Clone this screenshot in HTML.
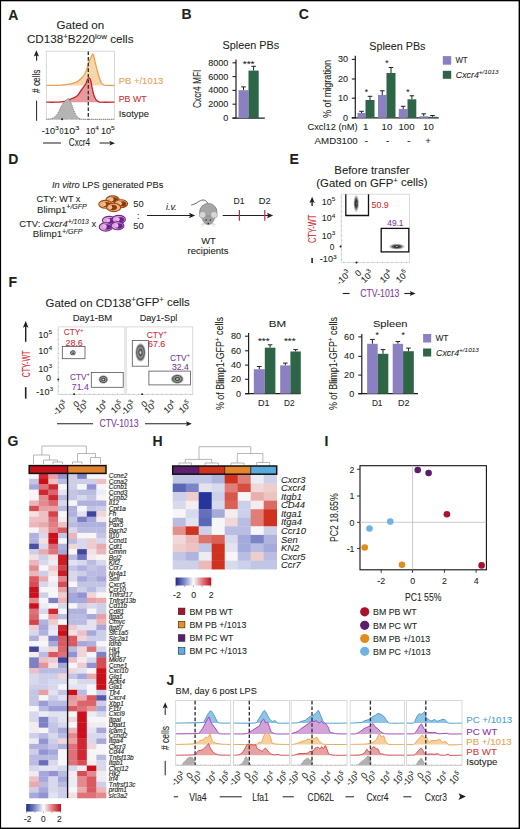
<!DOCTYPE html>
<html><head><meta charset="utf-8"><title>Figure</title>
<style>html,body{margin:0;padding:0;background:#fff;overflow:hidden}svg{display:block}text{font-family:"Liberation Sans",sans-serif}</style>
</head><body>
<svg width="520" height="829" viewBox="0 0 520 829" font-family="Liberation Sans, sans-serif" fill="#231f20">
<rect x="0" y="0" width="520" height="829" fill="#fff"/>
<rect x="0.00" y="0.00" width="1.10" height="829.00" fill="#000"/>
<rect x="0.00" y="0.00" width="520.00" height="1.30" fill="#000"/>
<rect x="518.60" y="0.00" width="1.40" height="829.00" fill="#000"/>
<rect x="0.00" y="827.60" width="520.00" height="1.40" fill="#000"/>
<text x="8.20" y="19.80" font-size="14" stroke="#231f20" stroke-width="0.08" font-weight="bold">A</text>
<text x="181.60" y="19.20" font-size="14" stroke="#231f20" stroke-width="0.08" font-weight="bold">B</text>
<text x="298.80" y="19.40" font-size="14" stroke="#231f20" stroke-width="0.08" font-weight="bold">C</text>
<text x="8.20" y="163.80" font-size="14" stroke="#231f20" stroke-width="0.08" font-weight="bold">D</text>
<text x="289.40" y="164.40" font-size="14" stroke="#231f20" stroke-width="0.08" font-weight="bold">E</text>
<text x="8.40" y="287.10" font-size="14" stroke="#231f20" stroke-width="0.08" font-weight="bold">F</text>
<text x="7.60" y="446.10" font-size="14" stroke="#231f20" stroke-width="0.08" font-weight="bold">G</text>
<text x="152.40" y="446.10" font-size="14" stroke="#231f20" stroke-width="0.08" font-weight="bold">H</text>
<text x="324.60" y="446.10" font-size="14" stroke="#231f20" stroke-width="0.08" font-weight="bold">I</text>
<text x="166.60" y="685.20" font-size="14" stroke="#231f20" stroke-width="0.08" font-weight="bold">J</text>
<text x="56.50" y="29.30" font-size="10.3" stroke="#231f20" stroke-width="0.08" textLength="47.70" lengthAdjust="spacingAndGlyphs">Gated on</text>
<text x="26.90" y="43.20" font-size="10.3" stroke="#231f20" stroke-width="0.08" textLength="106.60" lengthAdjust="spacingAndGlyphs">CD138<tspan font-size="7" dy="-4.20">+</tspan><tspan dy="3.85">B220</tspan><tspan font-size="7" dy="-4.20">low</tspan><tspan dy="3.85"> cells</tspan></text>
<rect x="46.30" y="51.20" width="68.20" height="68.30" fill="none" stroke="#cfcfcf" stroke-width="0.8"/>
<path d="M46.30,85.40 C48.33,85.38 55.35,85.42 58.50,85.30 C61.65,85.18 62.97,84.98 65.20,84.70 C67.43,84.42 69.88,84.12 71.90,83.60 C73.92,83.08 75.73,82.48 77.30,81.60 C78.87,80.72 80.07,79.53 81.30,78.30 C82.53,77.07 83.68,76.00 84.70,74.20 C85.72,72.40 86.62,69.73 87.40,67.50 C88.18,65.27 88.73,62.60 89.40,60.80 C90.07,59.00 90.83,57.83 91.40,56.70 C91.97,55.57 92.35,53.88 92.80,54.00 C93.25,54.12 93.65,55.82 94.10,57.40 C94.55,58.98 94.93,61.15 95.50,63.50 C96.07,65.85 96.83,69.03 97.50,71.50 C98.17,73.97 98.83,76.38 99.50,78.30 C100.17,80.22 100.72,81.88 101.50,83.00 C102.28,84.12 103.07,84.60 104.20,85.00 C105.33,85.40 106.58,85.33 108.30,85.40 C110.02,85.47 113.47,85.40 114.50,85.40 L114.50,85.40 L46.30,85.40 Z" fill="#f6d6ab" fill-opacity="1.0" stroke="none"/>
<path d="M46.30,85.40 C48.33,85.38 55.35,85.42 58.50,85.30 C61.65,85.18 62.97,84.98 65.20,84.70 C67.43,84.42 69.88,84.12 71.90,83.60 C73.92,83.08 75.73,82.48 77.30,81.60 C78.87,80.72 80.07,79.53 81.30,78.30 C82.53,77.07 83.68,76.00 84.70,74.20 C85.72,72.40 86.62,69.73 87.40,67.50 C88.18,65.27 88.73,62.60 89.40,60.80 C90.07,59.00 90.83,57.83 91.40,56.70 C91.97,55.57 92.35,53.88 92.80,54.00 C93.25,54.12 93.65,55.82 94.10,57.40 C94.55,58.98 94.93,61.15 95.50,63.50 C96.07,65.85 96.83,69.03 97.50,71.50 C98.17,73.97 98.83,76.38 99.50,78.30 C100.17,80.22 100.72,81.88 101.50,83.00 C102.28,84.12 103.07,84.60 104.20,85.00 C105.33,85.40 106.58,85.33 108.30,85.40 C110.02,85.47 113.47,85.40 114.50,85.40" fill="none" stroke="#e9a04e" stroke-width="1.3"/>
<path d="M46.30,102.20 C47.88,102.20 53.32,102.27 55.80,102.20 C58.28,102.13 59.42,102.02 61.20,101.80 C62.98,101.58 64.72,101.45 66.50,100.90 C68.28,100.35 70.10,99.35 71.90,98.50 C73.70,97.65 75.83,97.05 77.30,95.80 C78.77,94.55 79.58,92.58 80.70,91.00 C81.82,89.42 83.12,87.53 84.00,86.30 C84.88,85.07 85.43,84.72 86.00,83.60 C86.57,82.48 86.83,80.53 87.40,79.60 C87.97,78.67 88.83,77.77 89.40,78.00 C89.97,78.23 90.35,79.38 90.80,81.00 C91.25,82.62 91.55,85.23 92.10,87.70 C92.65,90.17 93.43,93.78 94.10,95.80 C94.77,97.82 95.32,98.80 96.10,99.80 C96.88,100.80 97.90,101.40 98.80,101.80 C99.70,102.20 98.88,102.13 101.50,102.20 C104.12,102.27 112.33,102.20 114.50,102.20 L114.50,102.20 L46.30,102.20 Z" fill="#e79a9c" fill-opacity="1.0" stroke="none"/>
<path d="M46.30,102.20 C47.88,102.20 53.32,102.27 55.80,102.20 C58.28,102.13 59.42,102.02 61.20,101.80 C62.98,101.58 64.72,101.45 66.50,100.90 C68.28,100.35 70.10,99.35 71.90,98.50 C73.70,97.65 75.83,97.05 77.30,95.80 C78.77,94.55 79.58,92.58 80.70,91.00 C81.82,89.42 83.12,87.53 84.00,86.30 C84.88,85.07 85.43,84.72 86.00,83.60 C86.57,82.48 86.83,80.53 87.40,79.60 C87.97,78.67 88.83,77.77 89.40,78.00 C89.97,78.23 90.35,79.38 90.80,81.00 C91.25,82.62 91.55,85.23 92.10,87.70 C92.65,90.17 93.43,93.78 94.10,95.80 C94.77,97.82 95.32,98.80 96.10,99.80 C96.88,100.80 97.90,101.40 98.80,101.80 C99.70,102.20 98.88,102.13 101.50,102.20 C104.12,102.27 112.33,102.20 114.50,102.20" fill="none" stroke="#c9232a" stroke-width="1.3"/>
<path d="M46.30,119.30 C47.20,119.18 50.12,119.17 51.70,118.60 C53.28,118.03 54.67,117.02 55.80,115.90 C56.93,114.78 57.50,113.68 58.50,111.90 C59.50,110.12 60.68,107.00 61.80,105.20 C62.92,103.40 64.15,102.22 65.20,101.10 C66.25,99.98 67.10,98.15 68.10,98.50 C69.10,98.85 70.23,101.18 71.20,103.20 C72.17,105.22 73.00,108.48 73.90,110.60 C74.80,112.72 75.58,114.57 76.60,115.90 C77.62,117.23 78.98,118.03 80.00,118.60 C81.02,119.17 76.95,119.18 82.70,119.30 C88.45,119.42 109.20,119.30 114.50,119.30 L114.50,119.30 L46.30,119.30 Z" fill="#b4b4b4" fill-opacity="1.0" stroke="none"/>
<path d="M46.30,119.30 C47.20,119.18 50.12,119.17 51.70,118.60 C53.28,118.03 54.67,117.02 55.80,115.90 C56.93,114.78 57.50,113.68 58.50,111.90 C59.50,110.12 60.68,107.00 61.80,105.20 C62.92,103.40 64.15,102.22 65.20,101.10 C66.25,99.98 67.10,98.15 68.10,98.50 C69.10,98.85 70.23,101.18 71.20,103.20 C72.17,105.22 73.00,108.48 73.90,110.60 C74.80,112.72 75.58,114.57 76.60,115.90 C77.62,117.23 78.98,118.03 80.00,118.60 C81.02,119.17 76.95,119.18 82.70,119.30 C88.45,119.42 109.20,119.30 114.50,119.30" fill="none" stroke="#666" stroke-width="0.8" stroke-dasharray="1,1"/>
<line x1="88.30" y1="51.50" x2="88.30" y2="119.50" stroke="#333" stroke-width="1.35" stroke-dasharray="3.6,2"/>
<line x1="48.00" y1="118.50" x2="48.00" y2="119.50" stroke="#888" stroke-width="0.6"/>
<line x1="52.00" y1="118.50" x2="52.00" y2="119.50" stroke="#888" stroke-width="0.6"/>
<line x1="56.00" y1="118.50" x2="56.00" y2="119.50" stroke="#888" stroke-width="0.6"/>
<line x1="59.00" y1="118.50" x2="59.00" y2="119.50" stroke="#888" stroke-width="0.6"/>
<line x1="63.00" y1="118.50" x2="63.00" y2="119.50" stroke="#888" stroke-width="0.6"/>
<line x1="66.00" y1="118.50" x2="66.00" y2="119.50" stroke="#888" stroke-width="0.6"/>
<line x1="72.00" y1="118.50" x2="72.00" y2="119.50" stroke="#888" stroke-width="0.6"/>
<line x1="76.00" y1="118.50" x2="76.00" y2="119.50" stroke="#888" stroke-width="0.6"/>
<line x1="80.00" y1="118.50" x2="80.00" y2="119.50" stroke="#888" stroke-width="0.6"/>
<line x1="84.00" y1="118.50" x2="84.00" y2="119.50" stroke="#888" stroke-width="0.6"/>
<line x1="92.00" y1="118.50" x2="92.00" y2="119.50" stroke="#888" stroke-width="0.6"/>
<line x1="96.00" y1="118.50" x2="96.00" y2="119.50" stroke="#888" stroke-width="0.6"/>
<line x1="100.00" y1="118.50" x2="100.00" y2="119.50" stroke="#888" stroke-width="0.6"/>
<line x1="104.00" y1="118.50" x2="104.00" y2="119.50" stroke="#888" stroke-width="0.6"/>
<line x1="108.00" y1="118.50" x2="108.00" y2="119.50" stroke="#888" stroke-width="0.6"/>
<line x1="112.00" y1="118.50" x2="112.00" y2="119.50" stroke="#888" stroke-width="0.6"/>
<circle cx="62.00" cy="119.20" r="1.00" fill="#222"/>
<line x1="36.60" y1="55.00" x2="36.60" y2="60.80" stroke="#231f20" stroke-width="1.1"/>
<path d="M36.40,50.20 L33.76,56.47 L36.40,55.15 L39.04,56.47 Z" fill="#231f20"/>
<text x="40.20" y="93.00" font-size="11.0" stroke="#231f20" stroke-width="0.08" textLength="23.50" lengthAdjust="spacingAndGlyphs" transform="rotate(-90 40.20 93.00)"># cells</text>
<line x1="36.60" y1="100.60" x2="36.60" y2="120.80" stroke="#231f20" stroke-width="1"/>
<text x="41.80" y="133.60" font-size="8.2" stroke="#231f20" stroke-width="0.08" textLength="17.00" lengthAdjust="spacingAndGlyphs">-10<tspan font-size="6.2" dy="-3.72">3</tspan></text>
<text x="59.50" y="133.60" font-size="8.2" stroke="#231f20" stroke-width="0.08" textLength="4.00" lengthAdjust="spacingAndGlyphs">0</text>
<text x="63.40" y="133.60" font-size="8.2" stroke="#231f20" stroke-width="0.08" textLength="16.10" lengthAdjust="spacingAndGlyphs">10<tspan font-size="6.2" dy="-3.72">3</tspan></text>
<text x="85.70" y="133.60" font-size="8.2" stroke="#231f20" stroke-width="0.08" textLength="13.10" lengthAdjust="spacingAndGlyphs">10<tspan font-size="6.2" dy="-3.72">4</tspan></text>
<text x="101.00" y="133.60" font-size="8.2" stroke="#231f20" stroke-width="0.08" textLength="13.90" lengthAdjust="spacingAndGlyphs">10<tspan font-size="6.2" dy="-3.72">5</tspan></text>
<line x1="43.00" y1="143.00" x2="61.00" y2="143.00" stroke="#231f20" stroke-width="1"/>
<text x="68.80" y="146.20" font-size="11.4" stroke="#231f20" stroke-width="0.08" textLength="21.30" lengthAdjust="spacingAndGlyphs">Cxcr4</text>
<line x1="99.60" y1="143.00" x2="112.00" y2="143.00" stroke="#231f20" stroke-width="1"/>
<path d="M115.00,143.20 L109.30,140.80 L110.50,143.20 L109.30,145.60 Z" fill="#231f20"/>
<text x="118.70" y="84.20" font-size="9.6" fill="#e9a04e" stroke="#e9a04e" stroke-width="0.08" textLength="44.50" lengthAdjust="spacingAndGlyphs">PB +/1013</text>
<text x="118.70" y="102.40" font-size="9.6" fill="#cf2a2e" stroke="#cf2a2e" stroke-width="0.08" textLength="27.90" lengthAdjust="spacingAndGlyphs">PB WT</text>
<text x="118.70" y="116.80" font-size="9.6" stroke="#231f20" stroke-width="0.08" textLength="30.30" lengthAdjust="spacingAndGlyphs">Isotype</text>
<text x="222.50" y="49.40" font-size="11.5" stroke="#231f20" stroke-width="0.08" textLength="56.70" lengthAdjust="spacingAndGlyphs">Spleen PBs</text>
<line x1="236.00" y1="59.60" x2="236.00" y2="118.60" stroke="#231f20" stroke-width="1.2"/>
<line x1="232.50" y1="118.10" x2="264.80" y2="118.10" stroke="#231f20" stroke-width="1.2"/>
<line x1="232.50" y1="62.80" x2="236.00" y2="62.80" stroke="#231f20" stroke-width="1.1"/>
<text x="228.40" y="65.75" font-size="8.2" stroke="#231f20" stroke-width="0.08" text-anchor="end" textLength="20.20" lengthAdjust="spacingAndGlyphs">8000</text>
<line x1="232.50" y1="76.60" x2="236.00" y2="76.60" stroke="#231f20" stroke-width="1.1"/>
<text x="228.40" y="79.55" font-size="8.2" stroke="#231f20" stroke-width="0.08" text-anchor="end" textLength="20.20" lengthAdjust="spacingAndGlyphs">6000</text>
<line x1="232.50" y1="90.40" x2="236.00" y2="90.40" stroke="#231f20" stroke-width="1.1"/>
<text x="228.40" y="93.35" font-size="8.2" stroke="#231f20" stroke-width="0.08" text-anchor="end" textLength="20.20" lengthAdjust="spacingAndGlyphs">4000</text>
<line x1="232.50" y1="104.20" x2="236.00" y2="104.20" stroke="#231f20" stroke-width="1.1"/>
<text x="228.40" y="107.15" font-size="8.2" stroke="#231f20" stroke-width="0.08" text-anchor="end" textLength="20.20" lengthAdjust="spacingAndGlyphs">2000</text>
<line x1="232.50" y1="118.10" x2="236.00" y2="118.10" stroke="#231f20" stroke-width="1.1"/>
<text x="228.40" y="121.05" font-size="8.2" stroke="#231f20" stroke-width="0.08" text-anchor="end" textLength="5.05" lengthAdjust="spacingAndGlyphs">0</text>
<line x1="243.50" y1="90.20" x2="243.50" y2="86.90" stroke="#231f20" stroke-width="1.0"/>
<line x1="241.20" y1="86.90" x2="245.80" y2="86.90" stroke="#231f20" stroke-width="1.0"/>
<rect x="238.50" y="90.20" width="10.00" height="27.90" fill="#8a80c2"/>
<line x1="253.60" y1="70.60" x2="253.60" y2="66.30" stroke="#231f20" stroke-width="1.0"/>
<line x1="251.30" y1="66.30" x2="255.90" y2="66.30" stroke="#231f20" stroke-width="1.0"/>
<rect x="248.50" y="70.60" width="10.20" height="47.50" fill="#2e6547"/>
<text x="242.70" y="67.20" font-size="8.4" stroke="#231f20" stroke-width="0.08" textLength="11.90" lengthAdjust="spacingAndGlyphs">***</text>
<text x="201.30" y="108.00" font-size="10.5" stroke="#231f20" stroke-width="0.08" textLength="38.40" lengthAdjust="spacingAndGlyphs" transform="rotate(-90 201.30 108.00)">Cxcr4 MFI</text>
<text x="369.30" y="49.50" font-size="11.5" stroke="#231f20" stroke-width="0.08" textLength="56.20" lengthAdjust="spacingAndGlyphs">Spleen PBs</text>
<line x1="355.30" y1="55.80" x2="355.30" y2="118.30" stroke="#231f20" stroke-width="1.2"/>
<line x1="351.80" y1="117.80" x2="438.80" y2="117.80" stroke="#231f20" stroke-width="1.2"/>
<line x1="351.80" y1="59.40" x2="355.30" y2="59.40" stroke="#231f20" stroke-width="1.1"/>
<text x="348.10" y="62.35" font-size="8.2" stroke="#231f20" stroke-width="0.08" text-anchor="end" textLength="10.10" lengthAdjust="spacingAndGlyphs">30</text>
<line x1="351.80" y1="79.00" x2="355.30" y2="79.00" stroke="#231f20" stroke-width="1.1"/>
<text x="348.10" y="81.95" font-size="8.2" stroke="#231f20" stroke-width="0.08" text-anchor="end" textLength="10.10" lengthAdjust="spacingAndGlyphs">20</text>
<line x1="351.80" y1="98.20" x2="355.30" y2="98.20" stroke="#231f20" stroke-width="1.1"/>
<text x="348.10" y="101.15" font-size="8.2" stroke="#231f20" stroke-width="0.08" text-anchor="end" textLength="10.10" lengthAdjust="spacingAndGlyphs">10</text>
<line x1="351.80" y1="117.80" x2="355.30" y2="117.80" stroke="#231f20" stroke-width="1.1"/>
<text x="348.10" y="120.75" font-size="8.2" stroke="#231f20" stroke-width="0.08" text-anchor="end" textLength="5.05" lengthAdjust="spacingAndGlyphs">0</text>
<line x1="361.50" y1="113.00" x2="361.50" y2="111.30" stroke="#231f20" stroke-width="1.0"/>
<line x1="359.20" y1="111.30" x2="363.80" y2="111.30" stroke="#231f20" stroke-width="1.0"/>
<rect x="357.50" y="113.00" width="8.00" height="4.80" fill="#8a80c2"/>
<line x1="370.00" y1="100.00" x2="370.00" y2="96.30" stroke="#231f20" stroke-width="1.0"/>
<line x1="367.70" y1="96.30" x2="372.30" y2="96.30" stroke="#231f20" stroke-width="1.0"/>
<rect x="365.50" y="100.00" width="9.00" height="17.80" fill="#2e6547"/>
<line x1="382.25" y1="95.00" x2="382.25" y2="90.80" stroke="#231f20" stroke-width="1.0"/>
<line x1="379.95" y1="90.80" x2="384.55" y2="90.80" stroke="#231f20" stroke-width="1.0"/>
<rect x="378.00" y="95.00" width="8.50" height="22.80" fill="#8a80c2"/>
<line x1="391.00" y1="73.00" x2="391.00" y2="67.50" stroke="#231f20" stroke-width="1.0"/>
<line x1="388.70" y1="67.50" x2="393.30" y2="67.50" stroke="#231f20" stroke-width="1.0"/>
<rect x="386.50" y="73.00" width="9.00" height="44.80" fill="#2e6547"/>
<line x1="403.15" y1="109.00" x2="403.15" y2="106.30" stroke="#231f20" stroke-width="1.0"/>
<line x1="400.85" y1="106.30" x2="405.45" y2="106.30" stroke="#231f20" stroke-width="1.0"/>
<rect x="398.80" y="109.00" width="8.70" height="8.80" fill="#8a80c2"/>
<line x1="411.90" y1="99.30" x2="411.90" y2="95.80" stroke="#231f20" stroke-width="1.0"/>
<line x1="409.60" y1="95.80" x2="414.20" y2="95.80" stroke="#231f20" stroke-width="1.0"/>
<rect x="407.50" y="99.30" width="8.80" height="18.50" fill="#2e6547"/>
<line x1="423.75" y1="116.30" x2="423.75" y2="113.80" stroke="#231f20" stroke-width="1.0"/>
<line x1="421.45" y1="113.80" x2="426.05" y2="113.80" stroke="#231f20" stroke-width="1.0"/>
<rect x="419.50" y="116.30" width="8.50" height="1.50" fill="#8a80c2"/>
<line x1="432.50" y1="116.80" x2="432.50" y2="115.50" stroke="#231f20" stroke-width="1.0"/>
<line x1="430.20" y1="115.50" x2="434.80" y2="115.50" stroke="#231f20" stroke-width="1.0"/>
<rect x="428.00" y="116.80" width="9.00" height="1.00" fill="#2e6547"/>
<text x="366.30" y="94.90" font-size="8.4" stroke="#231f20" stroke-width="0.08" text-anchor="middle">*</text>
<text x="387.00" y="66.10" font-size="8.4" stroke="#231f20" stroke-width="0.08" text-anchor="middle">*</text>
<text x="408.00" y="94.90" font-size="8.4" stroke="#231f20" stroke-width="0.08" text-anchor="middle">*</text>
<text x="330.90" y="118.00" font-size="10.2" stroke="#231f20" stroke-width="0.08" textLength="58.10" lengthAdjust="spacingAndGlyphs" transform="rotate(-90 330.90 118.00)">% of migration</text>
<text x="307.40" y="130.00" font-size="9.6" stroke="#231f20" stroke-width="0.08" textLength="50.30" lengthAdjust="spacingAndGlyphs">Cxcl12 (nM)</text>
<text x="365.60" y="130.00" font-size="9.6" stroke="#231f20" stroke-width="0.08" text-anchor="middle">1</text>
<text x="386.90" y="130.00" font-size="9.6" stroke="#231f20" stroke-width="0.08" text-anchor="middle">10</text>
<text x="406.50" y="130.00" font-size="9.6" stroke="#231f20" stroke-width="0.08" text-anchor="middle">100</text>
<text x="428.40" y="130.00" font-size="9.6" stroke="#231f20" stroke-width="0.08" text-anchor="middle">10</text>
<text x="314.60" y="143.50" font-size="9.6" stroke="#231f20" stroke-width="0.08" textLength="43.10" lengthAdjust="spacingAndGlyphs">AMD3100</text>
<text x="366.30" y="143.50" font-size="9.6" stroke="#231f20" stroke-width="0.08" text-anchor="middle">-</text>
<text x="387.50" y="143.50" font-size="9.6" stroke="#231f20" stroke-width="0.08" text-anchor="middle">-</text>
<text x="408.80" y="143.50" font-size="9.6" stroke="#231f20" stroke-width="0.08" text-anchor="middle">-</text>
<text x="428.00" y="143.50" font-size="9.6" stroke="#231f20" stroke-width="0.08" text-anchor="middle">+</text>
<rect x="442.80" y="56.10" width="8.40" height="8.60" fill="#8a80c2"/>
<text x="455.40" y="63.00" font-size="8.6" stroke="#231f20" stroke-width="0.08" textLength="12.30" lengthAdjust="spacingAndGlyphs">WT</text>
<rect x="442.80" y="70.80" width="8.40" height="8.00" fill="#2e6547"/>
<text x="455.80" y="78.10" font-size="8.6" stroke="#231f20" stroke-width="0.08" textLength="42.70" lengthAdjust="spacingAndGlyphs"><tspan font-style="italic">Cxcr4</tspan><tspan font-style="italic" font-size="6.2" dy="-4.2">+/1013</tspan></text>
<text x="51.90" y="188.00" font-size="9.6" stroke="#231f20" stroke-width="0.08" textLength="111.40" lengthAdjust="spacingAndGlyphs"><tspan font-style="italic">In vitro</tspan> LPS generated PBs</text>
<text x="36.60" y="201.80" font-size="9.0" stroke="#231f20" stroke-width="0.08" textLength="43.80" lengthAdjust="spacingAndGlyphs">CTY: WT x</text>
<text x="37.00" y="212.70" font-size="9.0" stroke="#231f20" stroke-width="0.08" textLength="49.80" lengthAdjust="spacingAndGlyphs">Blimp1<tspan font-style="italic" font-size="6.6" dy="-3.4">+/GFP</tspan></text>
<text x="19.30" y="226.90" font-size="9.0" stroke="#231f20" stroke-width="0.08" textLength="77.00" lengthAdjust="spacingAndGlyphs">CTV: <tspan font-style="italic">Cxcr4</tspan><tspan font-style="italic" font-size="6.6" dy="-3.4">+/1013</tspan><tspan dy="3.4"> x</tspan></text>
<text x="32.80" y="237.30" font-size="9.0" stroke="#231f20" stroke-width="0.08" textLength="49.70" lengthAdjust="spacingAndGlyphs">Blimp1<tspan font-style="italic" font-size="6.6" dy="-3.4">+/GFP</tspan></text>
<ellipse cx="112.60" cy="199.60" rx="6.60" ry="3.70" fill="#efb47c" stroke="#984714" stroke-width="1.1"/>
<ellipse cx="113.92" cy="199.80" rx="4.09" ry="2.44" fill="#8a3a0c"/>
<ellipse cx="111.54" cy="199.50" rx="1.98" ry="1.92" fill="#f2c090"/>
<ellipse cx="105.20" cy="204.30" rx="6.40" ry="3.90" fill="#efb47c" stroke="#984714" stroke-width="1.1"/>
<ellipse cx="106.48" cy="204.50" rx="3.97" ry="2.57" fill="#8a3a0c"/>
<ellipse cx="104.18" cy="204.20" rx="1.92" ry="2.03" fill="#f2c090"/>
<ellipse cx="121.00" cy="203.70" rx="6.60" ry="4.00" fill="#efb47c" stroke="#984714" stroke-width="1.1"/>
<ellipse cx="122.32" cy="203.90" rx="4.09" ry="2.64" fill="#8a3a0c"/>
<ellipse cx="119.94" cy="203.60" rx="1.98" ry="2.08" fill="#f2c090"/>
<ellipse cx="113.70" cy="207.40" rx="7.00" ry="4.20" fill="#efb47c" stroke="#984714" stroke-width="1.1"/>
<ellipse cx="112.65" cy="207.60" rx="4.34" ry="2.77" fill="#8a3a0c"/>
<ellipse cx="110.13" cy="207.30" rx="2.10" ry="2.18" fill="#f2c090"/>
<ellipse cx="109.20" cy="220.40" rx="6.80" ry="4.00" fill="#dca6dc" stroke="#74288a" stroke-width="1.1"/>
<ellipse cx="110.56" cy="220.60" rx="4.22" ry="2.64" fill="#6c2290"/>
<ellipse cx="108.11" cy="220.30" rx="2.04" ry="2.08" fill="#e4b8e4"/>
<ellipse cx="118.80" cy="219.40" rx="6.60" ry="4.00" fill="#dca6dc" stroke="#74288a" stroke-width="1.1"/>
<ellipse cx="120.12" cy="219.60" rx="4.09" ry="2.64" fill="#6c2290"/>
<ellipse cx="117.74" cy="219.30" rx="1.98" ry="2.08" fill="#e4b8e4"/>
<ellipse cx="105.80" cy="226.90" rx="6.60" ry="4.20" fill="#dca6dc" stroke="#74288a" stroke-width="1.1"/>
<ellipse cx="107.12" cy="227.10" rx="4.09" ry="2.77" fill="#6c2290"/>
<ellipse cx="104.74" cy="226.80" rx="1.98" ry="2.18" fill="#e4b8e4"/>
<ellipse cx="117.60" cy="225.80" rx="6.40" ry="4.00" fill="#dca6dc" stroke="#74288a" stroke-width="1.1"/>
<ellipse cx="118.88" cy="226.00" rx="3.97" ry="2.64" fill="#6c2290"/>
<ellipse cx="116.58" cy="225.70" rx="1.92" ry="2.08" fill="#e4b8e4"/>
<text x="133.30" y="207.30" font-size="9.0" stroke="#231f20" stroke-width="0.08" textLength="10.40" lengthAdjust="spacingAndGlyphs">50</text>
<text x="138.20" y="218.60" font-size="9.0" stroke="#231f20" stroke-width="0.08" text-anchor="middle">:</text>
<text x="133.30" y="229.20" font-size="9.0" stroke="#231f20" stroke-width="0.08" textLength="10.40" lengthAdjust="spacingAndGlyphs">50</text>
<line x1="147.00" y1="215.50" x2="191.00" y2="215.50" stroke="#231f20" stroke-width="1.1"/>
<path d="M195.20,215.50 L188.93,212.86 L190.25,215.50 L188.93,218.14 Z" fill="#231f20"/>
<text x="165.90" y="209.70" font-size="9.0" stroke="#231f20" stroke-width="0.08" font-style="italic" textLength="10.90" lengthAdjust="spacingAndGlyphs">i.v.</text>
<path d="M207.8,203.5 C206.5,200.2 203.5,199.3 200.5,200.6 C197.5,202 195,204.6 191.2,205.0" fill="none" stroke="#555" stroke-width="0.9"/>
<ellipse cx="208.30" cy="212.20" rx="8.70" ry="8.80" fill="#a6a6a6" stroke="#6e6e6e" stroke-width="0.7"/>
<path d="M201.5,216 C202,221 205,224.5 208.3,224.8 C211.6,224.5 214.6,221 215.1,216 Z" fill="#a0a0a0" stroke="#7a7a7a" stroke-width="0.5"/>
<circle cx="202.60" cy="214.80" r="3.40" fill="#d6d6d6" stroke="#8a8a8a" stroke-width="0.5"/>
<circle cx="214.00" cy="214.80" r="3.40" fill="#d6d6d6" stroke="#8a8a8a" stroke-width="0.5"/>
<circle cx="206.20" cy="220.00" r="0.80" fill="#333"/>
<circle cx="210.40" cy="220.00" r="0.80" fill="#333"/>
<circle cx="208.30" cy="223.60" r="0.80" fill="#222"/>
<line x1="205.50" y1="223.00" x2="201.00" y2="224.50" stroke="#999" stroke-width="0.4"/>
<line x1="205.50" y1="223.60" x2="201.80" y2="226.50" stroke="#999" stroke-width="0.4"/>
<line x1="211.00" y1="223.00" x2="215.60" y2="224.50" stroke="#999" stroke-width="0.4"/>
<line x1="211.00" y1="223.60" x2="214.80" y2="226.50" stroke="#999" stroke-width="0.4"/>
<text x="201.30" y="244.30" font-size="9.0" stroke="#231f20" stroke-width="0.08" textLength="14.50" lengthAdjust="spacingAndGlyphs">WT</text>
<text x="187.50" y="254.40" font-size="9.0" stroke="#231f20" stroke-width="0.08" textLength="41.00" lengthAdjust="spacingAndGlyphs">recipients</text>
<line x1="222.70" y1="215.50" x2="270.00" y2="215.50" stroke="#231f20" stroke-width="1.1"/>
<path d="M273.20,215.50 L266.93,212.86 L268.25,215.50 L266.93,218.14 Z" fill="#231f20"/>
<line x1="239.40" y1="210.00" x2="239.40" y2="220.80" stroke="#c8254a" stroke-width="1.2"/>
<line x1="264.80" y1="210.00" x2="264.80" y2="220.80" stroke="#c8254a" stroke-width="1.2"/>
<text x="233.60" y="204.20" font-size="9.0" stroke="#231f20" stroke-width="0.08" textLength="11.00" lengthAdjust="spacingAndGlyphs">D1</text>
<text x="258.70" y="204.20" font-size="9.0" stroke="#231f20" stroke-width="0.08" textLength="11.90" lengthAdjust="spacingAndGlyphs">D2</text>
<text x="334.30" y="173.80" font-size="10.4" stroke="#231f20" stroke-width="0.08" textLength="75.20" lengthAdjust="spacingAndGlyphs">Before transfer</text>
<text x="316.30" y="186.80" font-size="10.4" stroke="#231f20" stroke-width="0.08" textLength="111.20" lengthAdjust="spacingAndGlyphs">(Gated on GFP<tspan font-size="7" dy="-4.20">+</tspan><tspan dy="3.85"> cells)</tspan></text>
<defs><radialGradient id="gb" cx="50%" cy="50%" r="50%"><stop offset="0" stop-color="#ddd"/><stop offset="0.2" stop-color="#222"/><stop offset="0.55" stop-color="#666"/><stop offset="1" stop-color="#ccc" stop-opacity="0.3"/></radialGradient></defs>
<ellipse cx="356.20" cy="203.50" rx="2.90" ry="9.00" fill="url(#gb)"/>
<ellipse cx="396.80" cy="246.60" rx="8.20" ry="3.10" fill="url(#gb)"/>
<rect x="341.20" y="194.20" width="68.40" height="68.50" fill="none" stroke="#d4d4d4" stroke-width="0.8"/>
<path d="M345.8,194.2 L345.8,215.5 L368.5,215.5 L368.5,194.2" fill="none" stroke="#111" stroke-width="1.3"/>
<rect x="381.20" y="228.40" width="27.60" height="23.50" fill="none" stroke="#111" stroke-width="1.3"/>
<text x="371.60" y="207.80" font-size="9.2" fill="#d2282e" stroke="#d2282e" stroke-width="0.08" textLength="17.20" lengthAdjust="spacingAndGlyphs">50.9</text>
<text x="387.30" y="225.80" font-size="9.2" fill="#7d3a96" stroke="#7d3a96" stroke-width="0.08" textLength="16.20" lengthAdjust="spacingAndGlyphs">49.1</text>
<circle cx="340.60" cy="246.50" r="1.00" fill="#111"/>
<circle cx="356.50" cy="262.50" r="1.00" fill="#111"/>
<line x1="341.20" y1="197.00" x2="342.20" y2="197.00" stroke="#888" stroke-width="0.5"/>
<line x1="344.00" y1="261.70" x2="344.00" y2="262.70" stroke="#888" stroke-width="0.5"/>
<line x1="341.20" y1="201.80" x2="342.20" y2="201.80" stroke="#888" stroke-width="0.5"/>
<line x1="348.80" y1="261.70" x2="348.80" y2="262.70" stroke="#888" stroke-width="0.5"/>
<line x1="341.20" y1="206.60" x2="342.20" y2="206.60" stroke="#888" stroke-width="0.5"/>
<line x1="353.60" y1="261.70" x2="353.60" y2="262.70" stroke="#888" stroke-width="0.5"/>
<line x1="341.20" y1="211.40" x2="342.20" y2="211.40" stroke="#888" stroke-width="0.5"/>
<line x1="358.40" y1="261.70" x2="358.40" y2="262.70" stroke="#888" stroke-width="0.5"/>
<line x1="341.20" y1="216.20" x2="342.20" y2="216.20" stroke="#888" stroke-width="0.5"/>
<line x1="363.20" y1="261.70" x2="363.20" y2="262.70" stroke="#888" stroke-width="0.5"/>
<line x1="341.20" y1="221.00" x2="342.20" y2="221.00" stroke="#888" stroke-width="0.5"/>
<line x1="368.00" y1="261.70" x2="368.00" y2="262.70" stroke="#888" stroke-width="0.5"/>
<line x1="341.20" y1="225.80" x2="342.20" y2="225.80" stroke="#888" stroke-width="0.5"/>
<line x1="372.80" y1="261.70" x2="372.80" y2="262.70" stroke="#888" stroke-width="0.5"/>
<line x1="341.20" y1="230.60" x2="342.20" y2="230.60" stroke="#888" stroke-width="0.5"/>
<line x1="377.60" y1="261.70" x2="377.60" y2="262.70" stroke="#888" stroke-width="0.5"/>
<line x1="341.20" y1="235.40" x2="342.20" y2="235.40" stroke="#888" stroke-width="0.5"/>
<line x1="382.40" y1="261.70" x2="382.40" y2="262.70" stroke="#888" stroke-width="0.5"/>
<line x1="341.20" y1="240.20" x2="342.20" y2="240.20" stroke="#888" stroke-width="0.5"/>
<line x1="387.20" y1="261.70" x2="387.20" y2="262.70" stroke="#888" stroke-width="0.5"/>
<line x1="341.20" y1="245.00" x2="342.20" y2="245.00" stroke="#888" stroke-width="0.5"/>
<line x1="392.00" y1="261.70" x2="392.00" y2="262.70" stroke="#888" stroke-width="0.5"/>
<line x1="341.20" y1="249.80" x2="342.20" y2="249.80" stroke="#888" stroke-width="0.5"/>
<line x1="396.80" y1="261.70" x2="396.80" y2="262.70" stroke="#888" stroke-width="0.5"/>
<line x1="341.20" y1="254.60" x2="342.20" y2="254.60" stroke="#888" stroke-width="0.5"/>
<line x1="401.60" y1="261.70" x2="401.60" y2="262.70" stroke="#888" stroke-width="0.5"/>
<line x1="341.20" y1="259.40" x2="342.20" y2="259.40" stroke="#888" stroke-width="0.5"/>
<line x1="406.40" y1="261.70" x2="406.40" y2="262.70" stroke="#888" stroke-width="0.5"/>
<text x="335.30" y="204.50" font-size="8.6" stroke="#231f20" stroke-width="0.08" text-anchor="end" textLength="13.50" lengthAdjust="spacingAndGlyphs">10<tspan font-size="6.191999999999999" dy="-3.72">5</tspan></text>
<text x="335.30" y="221.40" font-size="8.6" stroke="#231f20" stroke-width="0.08" text-anchor="end" textLength="13.50" lengthAdjust="spacingAndGlyphs">10<tspan font-size="6.191999999999999" dy="-3.72">4</tspan></text>
<text x="335.30" y="239.20" font-size="8.6" stroke="#231f20" stroke-width="0.08" text-anchor="end" textLength="13.50" lengthAdjust="spacingAndGlyphs">10<tspan font-size="6.191999999999999" dy="-3.72">3</tspan></text>
<text x="334.30" y="249.80" font-size="8.6" stroke="#231f20" stroke-width="0.08" text-anchor="end" textLength="4.60" lengthAdjust="spacingAndGlyphs">0</text>
<text x="336.70" y="262.40" font-size="8.6" stroke="#231f20" stroke-width="0.08" text-anchor="end" textLength="16.90" lengthAdjust="spacingAndGlyphs">-10<tspan font-size="6.191999999999999" dy="-3.72">3</tspan></text>
<text x="315.60" y="243.10" font-size="11.4" fill="#d2282e" stroke="#d2282e" stroke-width="0.08" textLength="28.50" lengthAdjust="spacingAndGlyphs" transform="rotate(-90 315.60 243.10)">CTY-WT</text>
<line x1="312.10" y1="201.00" x2="312.10" y2="205.90" stroke="#231f20" stroke-width="1.4"/>
<path d="M312.10,196.80 L309.46,203.07 L312.10,201.75 L314.74,203.07 Z" fill="#231f20"/>
<line x1="312.10" y1="258.00" x2="312.10" y2="262.90" stroke="#231f20" stroke-width="1.6"/>
<text x="351.50" y="274.00" font-size="8.8" stroke="#231f20" stroke-width="0.08" text-anchor="end" transform="rotate(-45 351.50 274.00)">-10<tspan font-size="6.336" dy="-3.80">3</tspan></text>
<text x="362.00" y="273.50" font-size="8.8" stroke="#231f20" stroke-width="0.08" text-anchor="end" transform="rotate(-45 362.00 273.50)">0</text>
<text x="374.00" y="274.00" font-size="8.8" stroke="#231f20" stroke-width="0.08" text-anchor="end" transform="rotate(-45 374.00 274.00)">10<tspan font-size="6.336" dy="-3.80">3</tspan></text>
<text x="393.00" y="274.00" font-size="8.8" stroke="#231f20" stroke-width="0.08" text-anchor="end" transform="rotate(-45 393.00 274.00)">10<tspan font-size="6.336" dy="-3.80">4</tspan></text>
<text x="409.00" y="274.00" font-size="8.8" stroke="#231f20" stroke-width="0.08" text-anchor="end" transform="rotate(-45 409.00 274.00)">10<tspan font-size="6.336" dy="-3.80">5</tspan></text>
<line x1="342.70" y1="293.50" x2="349.60" y2="293.50" stroke="#231f20" stroke-width="1.1"/>
<text x="360.20" y="297.00" font-size="10.4" fill="#7d3a96" stroke="#7d3a96" stroke-width="0.08" textLength="39.30" lengthAdjust="spacingAndGlyphs">CTV-1013</text>
<line x1="404.30" y1="293.50" x2="412.00" y2="293.50" stroke="#231f20" stroke-width="1.1"/>
<path d="M415.60,293.50 L409.71,291.02 L410.95,293.50 L409.71,295.98 Z" fill="#231f20"/>
<text x="45.60" y="306.50" font-size="10.3" stroke="#231f20" stroke-width="0.08" textLength="144.20" lengthAdjust="spacingAndGlyphs">Gated on CD138<tspan font-size="7" dy="-4.20">+</tspan><tspan dy="3.85">GFP</tspan><tspan font-size="7" dy="-4.20">+</tspan><tspan dy="3.85"> cells</tspan></text>
<text x="72.70" y="320.60" font-size="9.0" stroke="#231f20" stroke-width="0.08" textLength="39.60" lengthAdjust="spacingAndGlyphs">Day1-BM</text>
<text x="139.70" y="320.60" font-size="9.0" stroke="#231f20" stroke-width="0.08" textLength="37.60" lengthAdjust="spacingAndGlyphs">Day1-Spl</text>
<defs><radialGradient id="gc" cx="50%" cy="50%" r="50%"><stop offset="0" stop-color="#eee"/><stop offset="0.3" stop-color="#444"/><stop offset="0.5" stop-color="#999"/><stop offset="0.72" stop-color="#555"/><stop offset="1" stop-color="#aaa" stop-opacity="0.3"/></radialGradient></defs>
<ellipse cx="72.90" cy="352.80" rx="3.20" ry="3.00" fill="url(#gc)"/>
<ellipse cx="103.30" cy="379.50" rx="5.00" ry="4.40" fill="url(#gc)"/>
<ellipse cx="140.50" cy="352.50" rx="5.40" ry="9.60" fill="url(#gc)"/>
<ellipse cx="177.30" cy="379.00" rx="6.60" ry="5.00" fill="url(#gc)"/>
<rect x="58.10" y="326.90" width="66.80" height="67.60" fill="none" stroke="#cfcfcf" stroke-width="0.8"/>
<rect x="126.10" y="326.90" width="66.70" height="67.60" fill="none" stroke="#cfcfcf" stroke-width="0.8"/>
<line x1="61.10" y1="393.60" x2="61.10" y2="394.50" stroke="#888" stroke-width="0.5"/>
<line x1="65.80" y1="393.60" x2="65.80" y2="394.50" stroke="#888" stroke-width="0.5"/>
<line x1="70.50" y1="393.60" x2="70.50" y2="394.50" stroke="#888" stroke-width="0.5"/>
<line x1="75.20" y1="393.60" x2="75.20" y2="394.50" stroke="#888" stroke-width="0.5"/>
<line x1="79.90" y1="393.60" x2="79.90" y2="394.50" stroke="#888" stroke-width="0.5"/>
<line x1="84.60" y1="393.60" x2="84.60" y2="394.50" stroke="#888" stroke-width="0.5"/>
<line x1="89.30" y1="393.60" x2="89.30" y2="394.50" stroke="#888" stroke-width="0.5"/>
<line x1="94.00" y1="393.60" x2="94.00" y2="394.50" stroke="#888" stroke-width="0.5"/>
<line x1="98.70" y1="393.60" x2="98.70" y2="394.50" stroke="#888" stroke-width="0.5"/>
<line x1="103.40" y1="393.60" x2="103.40" y2="394.50" stroke="#888" stroke-width="0.5"/>
<line x1="108.10" y1="393.60" x2="108.10" y2="394.50" stroke="#888" stroke-width="0.5"/>
<line x1="112.80" y1="393.60" x2="112.80" y2="394.50" stroke="#888" stroke-width="0.5"/>
<line x1="117.50" y1="393.60" x2="117.50" y2="394.50" stroke="#888" stroke-width="0.5"/>
<line x1="122.20" y1="393.60" x2="122.20" y2="394.50" stroke="#888" stroke-width="0.5"/>
<circle cx="74.10" cy="394.20" r="0.90" fill="#111"/>
<line x1="129.10" y1="393.60" x2="129.10" y2="394.50" stroke="#888" stroke-width="0.5"/>
<line x1="133.80" y1="393.60" x2="133.80" y2="394.50" stroke="#888" stroke-width="0.5"/>
<line x1="138.50" y1="393.60" x2="138.50" y2="394.50" stroke="#888" stroke-width="0.5"/>
<line x1="143.20" y1="393.60" x2="143.20" y2="394.50" stroke="#888" stroke-width="0.5"/>
<line x1="147.90" y1="393.60" x2="147.90" y2="394.50" stroke="#888" stroke-width="0.5"/>
<line x1="152.60" y1="393.60" x2="152.60" y2="394.50" stroke="#888" stroke-width="0.5"/>
<line x1="157.30" y1="393.60" x2="157.30" y2="394.50" stroke="#888" stroke-width="0.5"/>
<line x1="162.00" y1="393.60" x2="162.00" y2="394.50" stroke="#888" stroke-width="0.5"/>
<line x1="166.70" y1="393.60" x2="166.70" y2="394.50" stroke="#888" stroke-width="0.5"/>
<line x1="171.40" y1="393.60" x2="171.40" y2="394.50" stroke="#888" stroke-width="0.5"/>
<line x1="176.10" y1="393.60" x2="176.10" y2="394.50" stroke="#888" stroke-width="0.5"/>
<line x1="180.80" y1="393.60" x2="180.80" y2="394.50" stroke="#888" stroke-width="0.5"/>
<line x1="185.50" y1="393.60" x2="185.50" y2="394.50" stroke="#888" stroke-width="0.5"/>
<line x1="190.20" y1="393.60" x2="190.20" y2="394.50" stroke="#888" stroke-width="0.5"/>
<circle cx="142.10" cy="394.20" r="0.90" fill="#111"/>
<line x1="58.10" y1="330.00" x2="59.10" y2="330.00" stroke="#888" stroke-width="0.5"/>
<line x1="58.10" y1="334.70" x2="59.10" y2="334.70" stroke="#888" stroke-width="0.5"/>
<line x1="58.10" y1="339.40" x2="59.10" y2="339.40" stroke="#888" stroke-width="0.5"/>
<line x1="58.10" y1="344.10" x2="59.10" y2="344.10" stroke="#888" stroke-width="0.5"/>
<line x1="58.10" y1="348.80" x2="59.10" y2="348.80" stroke="#888" stroke-width="0.5"/>
<line x1="58.10" y1="353.50" x2="59.10" y2="353.50" stroke="#888" stroke-width="0.5"/>
<line x1="58.10" y1="358.20" x2="59.10" y2="358.20" stroke="#888" stroke-width="0.5"/>
<line x1="58.10" y1="362.90" x2="59.10" y2="362.90" stroke="#888" stroke-width="0.5"/>
<line x1="58.10" y1="367.60" x2="59.10" y2="367.60" stroke="#888" stroke-width="0.5"/>
<line x1="58.10" y1="372.30" x2="59.10" y2="372.30" stroke="#888" stroke-width="0.5"/>
<line x1="58.10" y1="377.00" x2="59.10" y2="377.00" stroke="#888" stroke-width="0.5"/>
<line x1="58.10" y1="381.70" x2="59.10" y2="381.70" stroke="#888" stroke-width="0.5"/>
<line x1="58.10" y1="386.40" x2="59.10" y2="386.40" stroke="#888" stroke-width="0.5"/>
<line x1="58.10" y1="391.10" x2="59.10" y2="391.10" stroke="#888" stroke-width="0.5"/>
<circle cx="58.30" cy="379.50" r="0.90" fill="#111"/>
<rect x="62.30" y="346.40" width="22.70" height="12.30" fill="none" stroke="#555" stroke-width="0.8"/>
<rect x="91.30" y="372.50" width="31.90" height="14.80" fill="none" stroke="#555" stroke-width="0.8"/>
<rect x="132.30" y="340.40" width="16.20" height="25.80" fill="none" stroke="#555" stroke-width="0.8"/>
<rect x="148.90" y="371.10" width="41.60" height="13.80" fill="none" stroke="#555" stroke-width="0.8"/>
<text x="63.80" y="335.20" font-size="8.8" fill="#d2282e" stroke="#d2282e" stroke-width="0.08" textLength="19.70" lengthAdjust="spacingAndGlyphs">CTY<tspan font-size="6" dy="-3.60">+</tspan></text>
<text x="65.50" y="345.80" font-size="8.8" fill="#d2282e" stroke="#d2282e" stroke-width="0.08" textLength="17.30" lengthAdjust="spacingAndGlyphs">28.6</text>
<text x="70.10" y="379.70" font-size="8.8" fill="#7d3a96" stroke="#7d3a96" stroke-width="0.08" textLength="19.70" lengthAdjust="spacingAndGlyphs">CTV<tspan font-size="6" dy="-3.60">+</tspan></text>
<text x="71.80" y="390.20" font-size="8.8" fill="#7d3a96" stroke="#7d3a96" stroke-width="0.08" textLength="17.00" lengthAdjust="spacingAndGlyphs">71.4</text>
<text x="146.80" y="338.00" font-size="8.8" fill="#d2282e" stroke="#d2282e" stroke-width="0.08" textLength="20.10" lengthAdjust="spacingAndGlyphs">CTY<tspan font-size="6" dy="-3.60">+</tspan></text>
<text x="148.00" y="347.30" font-size="8.8" fill="#d2282e" stroke="#d2282e" stroke-width="0.08" textLength="17.30" lengthAdjust="spacingAndGlyphs">67.6</text>
<text x="169.90" y="360.50" font-size="8.8" fill="#7d3a96" stroke="#7d3a96" stroke-width="0.08" textLength="20.10" lengthAdjust="spacingAndGlyphs">CTV<tspan font-size="6" dy="-3.60">+</tspan></text>
<text x="172.00" y="369.70" font-size="8.8" fill="#7d3a96" stroke="#7d3a96" stroke-width="0.08" textLength="16.80" lengthAdjust="spacingAndGlyphs">32.4</text>
<text x="52.10" y="337.80" font-size="8.6" stroke="#231f20" stroke-width="0.08" text-anchor="end" textLength="13.80" lengthAdjust="spacingAndGlyphs">10<tspan font-size="6.191999999999999" dy="-3.72">5</tspan></text>
<text x="52.10" y="353.60" font-size="8.6" stroke="#231f20" stroke-width="0.08" text-anchor="end" textLength="13.80" lengthAdjust="spacingAndGlyphs">10<tspan font-size="6.191999999999999" dy="-3.72">4</tspan></text>
<text x="52.10" y="371.90" font-size="8.6" stroke="#231f20" stroke-width="0.08" text-anchor="end" textLength="13.80" lengthAdjust="spacingAndGlyphs">10<tspan font-size="6.191999999999999" dy="-3.72">3</tspan></text>
<text x="51.10" y="381.30" font-size="8.6" stroke="#231f20" stroke-width="0.08" text-anchor="end" textLength="5.00" lengthAdjust="spacingAndGlyphs">0</text>
<text x="53.10" y="394.70" font-size="8.6" stroke="#231f20" stroke-width="0.08" text-anchor="end" textLength="16.80" lengthAdjust="spacingAndGlyphs">-10<tspan font-size="6.191999999999999" dy="-3.72">3</tspan></text>
<text x="30.10" y="377.30" font-size="11.4" fill="#d2282e" stroke="#d2282e" stroke-width="0.08" textLength="26.70" lengthAdjust="spacingAndGlyphs" transform="rotate(-90 30.10 377.30)">CTY-WT</text>
<line x1="25.70" y1="326.00" x2="25.70" y2="341.70" stroke="#231f20" stroke-width="1.4"/>
<path d="M25.70,321.00 L22.90,327.65 L25.70,326.25 L28.50,327.65 Z" fill="#231f20"/>
<line x1="25.70" y1="387.20" x2="25.70" y2="398.60" stroke="#231f20" stroke-width="1.6"/>
<text x="67.90" y="404.60" font-size="8.8" stroke="#231f20" stroke-width="0.08" text-anchor="end" transform="rotate(-45 67.90 404.60)">-10<tspan font-size="6.336" dy="-3.80">3</tspan></text>
<text x="80.30" y="404.60" font-size="8.8" stroke="#231f20" stroke-width="0.08" text-anchor="end" transform="rotate(-45 80.30 404.60)">0</text>
<text x="89.40" y="404.60" font-size="8.8" stroke="#231f20" stroke-width="0.08" text-anchor="end" transform="rotate(-45 89.40 404.60)">10<tspan font-size="6.336" dy="-3.80">3</tspan></text>
<text x="108.70" y="404.60" font-size="8.8" stroke="#231f20" stroke-width="0.08" text-anchor="end" transform="rotate(-45 108.70 404.60)">10<tspan font-size="6.336" dy="-3.80">4</tspan></text>
<text x="124.00" y="404.60" font-size="8.8" stroke="#231f20" stroke-width="0.08" text-anchor="end" transform="rotate(-45 124.00 404.60)">10<tspan font-size="6.336" dy="-3.80">5</tspan></text>
<text x="135.90" y="404.60" font-size="8.8" stroke="#231f20" stroke-width="0.08" text-anchor="end" transform="rotate(-45 135.90 404.60)">-10<tspan font-size="6.336" dy="-3.80">3</tspan></text>
<text x="148.30" y="404.60" font-size="8.8" stroke="#231f20" stroke-width="0.08" text-anchor="end" transform="rotate(-45 148.30 404.60)">0</text>
<text x="157.40" y="404.60" font-size="8.8" stroke="#231f20" stroke-width="0.08" text-anchor="end" transform="rotate(-45 157.40 404.60)">10<tspan font-size="6.336" dy="-3.80">3</tspan></text>
<text x="176.70" y="404.60" font-size="8.8" stroke="#231f20" stroke-width="0.08" text-anchor="end" transform="rotate(-45 176.70 404.60)">10<tspan font-size="6.336" dy="-3.80">4</tspan></text>
<text x="192.00" y="404.60" font-size="8.8" stroke="#231f20" stroke-width="0.08" text-anchor="end" transform="rotate(-45 192.00 404.60)">10<tspan font-size="6.336" dy="-3.80">5</tspan></text>
<line x1="57.00" y1="423.70" x2="93.00" y2="423.70" stroke="#231f20" stroke-width="1.1"/>
<text x="99.40" y="427.30" font-size="10.4" fill="#7d3a96" stroke="#7d3a96" stroke-width="0.08" textLength="39.30" lengthAdjust="spacingAndGlyphs">CTV-1013</text>
<line x1="145.00" y1="423.70" x2="188.50" y2="423.70" stroke="#231f20" stroke-width="1.1"/>
<path d="M191.80,423.70 L185.91,421.22 L187.15,423.70 L185.91,426.18 Z" fill="#231f20"/>
<text x="268.70" y="326.50" font-size="9.6" stroke="#231f20" stroke-width="0.08" textLength="17.30" lengthAdjust="spacingAndGlyphs">BM</text>
<line x1="248.60" y1="333.10" x2="248.60" y2="394.20" stroke="#231f20" stroke-width="1.2"/>
<line x1="245.10" y1="393.70" x2="300.60" y2="393.70" stroke="#231f20" stroke-width="1.2"/>
<line x1="245.10" y1="336.20" x2="248.60" y2="336.20" stroke="#231f20" stroke-width="1.1"/>
<text x="241.00" y="339.15" font-size="8.2" stroke="#231f20" stroke-width="0.08" text-anchor="end" textLength="10.10" lengthAdjust="spacingAndGlyphs">80</text>
<line x1="245.10" y1="350.80" x2="248.60" y2="350.80" stroke="#231f20" stroke-width="1.1"/>
<text x="241.00" y="353.75" font-size="8.2" stroke="#231f20" stroke-width="0.08" text-anchor="end" textLength="10.10" lengthAdjust="spacingAndGlyphs">60</text>
<line x1="245.10" y1="365.10" x2="248.60" y2="365.10" stroke="#231f20" stroke-width="1.1"/>
<text x="241.00" y="368.05" font-size="8.2" stroke="#231f20" stroke-width="0.08" text-anchor="end" textLength="10.10" lengthAdjust="spacingAndGlyphs">40</text>
<line x1="245.10" y1="379.30" x2="248.60" y2="379.30" stroke="#231f20" stroke-width="1.1"/>
<text x="241.00" y="382.25" font-size="8.2" stroke="#231f20" stroke-width="0.08" text-anchor="end" textLength="10.10" lengthAdjust="spacingAndGlyphs">20</text>
<line x1="245.10" y1="393.70" x2="248.60" y2="393.70" stroke="#231f20" stroke-width="1.1"/>
<text x="241.00" y="396.65" font-size="8.2" stroke="#231f20" stroke-width="0.08" text-anchor="end" textLength="5.05" lengthAdjust="spacingAndGlyphs">0</text>
<line x1="259.30" y1="369.20" x2="259.30" y2="366.50" stroke="#231f20" stroke-width="1.0"/>
<line x1="257.00" y1="366.50" x2="261.60" y2="366.50" stroke="#231f20" stroke-width="1.0"/>
<rect x="253.80" y="369.20" width="11.00" height="24.50" fill="#8a80c2"/>
<line x1="270.10" y1="347.70" x2="270.10" y2="344.80" stroke="#231f20" stroke-width="1.0"/>
<line x1="267.80" y1="344.80" x2="272.40" y2="344.80" stroke="#231f20" stroke-width="1.0"/>
<rect x="264.80" y="347.70" width="10.60" height="46.00" fill="#2e6547"/>
<line x1="285.30" y1="365.40" x2="285.30" y2="363.10" stroke="#231f20" stroke-width="1.0"/>
<line x1="283.00" y1="363.10" x2="287.60" y2="363.10" stroke="#231f20" stroke-width="1.0"/>
<rect x="280.20" y="365.40" width="10.20" height="28.30" fill="#8a80c2"/>
<line x1="295.60" y1="351.50" x2="295.60" y2="349.60" stroke="#231f20" stroke-width="1.0"/>
<line x1="293.30" y1="349.60" x2="297.90" y2="349.60" stroke="#231f20" stroke-width="1.0"/>
<rect x="290.40" y="351.50" width="10.40" height="42.20" fill="#2e6547"/>
<text x="258.00" y="343.50" font-size="8.4" stroke="#231f20" stroke-width="0.08" textLength="11.60" lengthAdjust="spacingAndGlyphs">***</text>
<text x="284.00" y="343.50" font-size="8.4" stroke="#231f20" stroke-width="0.08" textLength="11.60" lengthAdjust="spacingAndGlyphs">***</text>
<text x="258.00" y="405.80" font-size="9.0" stroke="#231f20" stroke-width="0.08" textLength="11.60" lengthAdjust="spacingAndGlyphs">D1</text>
<text x="284.00" y="405.80" font-size="9.0" stroke="#231f20" stroke-width="0.08" textLength="10.60" lengthAdjust="spacingAndGlyphs">D2</text>
<text x="223.80" y="410.10" font-size="10.4" stroke="#231f20" stroke-width="0.08" textLength="93.10" lengthAdjust="spacingAndGlyphs" transform="rotate(-90 223.80 410.10)">% of Blimp1-GFP<tspan font-size="7" dy="-4.20">+</tspan><tspan dy="3.85"> cells</tspan></text>
<text x="372.90" y="326.90" font-size="9.6" stroke="#231f20" stroke-width="0.08" textLength="34.60" lengthAdjust="spacingAndGlyphs">Spleen</text>
<line x1="361.80" y1="333.90" x2="361.80" y2="394.20" stroke="#231f20" stroke-width="1.2"/>
<line x1="358.30" y1="393.70" x2="418.00" y2="393.70" stroke="#231f20" stroke-width="1.2"/>
<line x1="358.30" y1="336.90" x2="361.80" y2="336.90" stroke="#231f20" stroke-width="1.1"/>
<text x="354.20" y="339.85" font-size="8.2" stroke="#231f20" stroke-width="0.08" text-anchor="end" textLength="10.10" lengthAdjust="spacingAndGlyphs">60</text>
<line x1="358.30" y1="356.40" x2="361.80" y2="356.40" stroke="#231f20" stroke-width="1.1"/>
<text x="354.20" y="359.35" font-size="8.2" stroke="#231f20" stroke-width="0.08" text-anchor="end" textLength="10.10" lengthAdjust="spacingAndGlyphs">40</text>
<line x1="358.30" y1="375.10" x2="361.80" y2="375.10" stroke="#231f20" stroke-width="1.1"/>
<text x="354.20" y="378.05" font-size="8.2" stroke="#231f20" stroke-width="0.08" text-anchor="end" textLength="10.10" lengthAdjust="spacingAndGlyphs">20</text>
<line x1="358.30" y1="393.70" x2="361.80" y2="393.70" stroke="#231f20" stroke-width="1.1"/>
<text x="354.20" y="396.65" font-size="8.2" stroke="#231f20" stroke-width="0.08" text-anchor="end" textLength="5.05" lengthAdjust="spacingAndGlyphs">0</text>
<line x1="372.40" y1="343.80" x2="372.40" y2="339.40" stroke="#231f20" stroke-width="1.0"/>
<line x1="370.10" y1="339.40" x2="374.70" y2="339.40" stroke="#231f20" stroke-width="1.0"/>
<rect x="367.10" y="343.80" width="10.60" height="49.90" fill="#8a80c2"/>
<line x1="383.00" y1="353.80" x2="383.00" y2="349.60" stroke="#231f20" stroke-width="1.0"/>
<line x1="380.70" y1="349.60" x2="385.30" y2="349.60" stroke="#231f20" stroke-width="1.0"/>
<rect x="377.70" y="353.80" width="10.60" height="39.90" fill="#2e6547"/>
<line x1="397.90" y1="343.80" x2="397.90" y2="341.50" stroke="#231f20" stroke-width="1.0"/>
<line x1="395.60" y1="341.50" x2="400.20" y2="341.50" stroke="#231f20" stroke-width="1.0"/>
<rect x="392.70" y="343.80" width="10.40" height="49.90" fill="#8a80c2"/>
<line x1="408.45" y1="351.20" x2="408.45" y2="348.10" stroke="#231f20" stroke-width="1.0"/>
<line x1="406.15" y1="348.10" x2="410.75" y2="348.10" stroke="#231f20" stroke-width="1.0"/>
<rect x="403.10" y="351.20" width="10.70" height="42.50" fill="#2e6547"/>
<text x="377.10" y="337.80" font-size="8.4" stroke="#231f20" stroke-width="0.08" text-anchor="middle">*</text>
<text x="403.10" y="337.80" font-size="8.4" stroke="#231f20" stroke-width="0.08" text-anchor="middle">*</text>
<text x="371.90" y="405.80" font-size="9.0" stroke="#231f20" stroke-width="0.08" textLength="10.60" lengthAdjust="spacingAndGlyphs">D1</text>
<text x="397.90" y="405.80" font-size="9.0" stroke="#231f20" stroke-width="0.08" textLength="11.50" lengthAdjust="spacingAndGlyphs">D2</text>
<text x="337.40" y="410.10" font-size="10.4" stroke="#231f20" stroke-width="0.08" textLength="93.10" lengthAdjust="spacingAndGlyphs" transform="rotate(-90 337.40 410.10)">% of Blimp1-GFP<tspan font-size="7" dy="-4.20">+</tspan><tspan dy="3.85"> cells</tspan></text>
<rect x="423.10" y="334.00" width="8.10" height="8.50" fill="#8a80c2"/>
<text x="435.40" y="341.20" font-size="8.6" stroke="#231f20" stroke-width="0.08" textLength="13.10" lengthAdjust="spacingAndGlyphs">WT</text>
<rect x="423.10" y="348.50" width="8.10" height="8.00" fill="#2e6547"/>
<text x="436.00" y="356.20" font-size="8.6" stroke="#231f20" stroke-width="0.08" textLength="42.80" lengthAdjust="spacingAndGlyphs"><tspan font-style="italic">Cxcr4</tspan><tspan font-style="italic" font-size="6.2" dy="-4.2">+/1013</tspan></text>
<rect x="29.20" y="473.40" width="9.90" height="5.71" fill="#f6f6f8"/>
<rect x="38.80" y="473.40" width="9.90" height="5.71" fill="#ce2832"/>
<rect x="48.40" y="473.40" width="9.90" height="5.71" fill="#e7a0a4"/>
<rect x="58.00" y="473.40" width="9.90" height="5.71" fill="#9293d2"/>
<rect x="67.60" y="473.40" width="9.90" height="5.71" fill="#cecee9"/>
<rect x="77.20" y="473.40" width="9.90" height="5.71" fill="#7e80c5"/>
<rect x="86.80" y="473.40" width="9.90" height="5.71" fill="#f6f6f8"/>
<rect x="96.40" y="473.40" width="9.90" height="5.71" fill="#f6f6f8"/>
<rect x="29.20" y="478.81" width="9.90" height="5.71" fill="#c4c4e5"/>
<rect x="38.80" y="478.81" width="9.90" height="5.71" fill="#c9101b"/>
<rect x="48.40" y="478.81" width="9.90" height="5.71" fill="#ecc0c4"/>
<rect x="58.00" y="478.81" width="9.90" height="5.71" fill="#babbe1"/>
<rect x="67.60" y="478.81" width="9.90" height="5.71" fill="#cecee9"/>
<rect x="77.20" y="478.81" width="9.90" height="5.71" fill="#cecee9"/>
<rect x="86.80" y="478.81" width="9.90" height="5.71" fill="#cecee9"/>
<rect x="96.40" y="478.81" width="9.90" height="5.71" fill="#ecc0c4"/>
<rect x="29.20" y="484.22" width="9.90" height="5.71" fill="#a6a7da"/>
<rect x="38.80" y="484.22" width="9.90" height="5.71" fill="#de7278"/>
<rect x="48.40" y="484.22" width="9.90" height="5.71" fill="#ce2832"/>
<rect x="58.00" y="484.22" width="9.90" height="5.71" fill="#f6f6f8"/>
<rect x="67.60" y="484.22" width="9.90" height="5.71" fill="#cecee9"/>
<rect x="77.20" y="484.22" width="9.90" height="5.71" fill="#f6f6f8"/>
<rect x="86.80" y="484.22" width="9.90" height="5.71" fill="#9293d2"/>
<rect x="96.40" y="484.22" width="9.90" height="5.71" fill="#f6f6f8"/>
<rect x="29.20" y="489.63" width="9.90" height="5.71" fill="#f6f6f8"/>
<rect x="38.80" y="489.63" width="9.90" height="5.71" fill="#ce2832"/>
<rect x="48.40" y="489.63" width="9.90" height="5.71" fill="#db656c"/>
<rect x="58.00" y="489.63" width="9.90" height="5.71" fill="#e2e2f0"/>
<rect x="67.60" y="489.63" width="9.90" height="5.71" fill="#c4c4e5"/>
<rect x="77.20" y="489.63" width="9.90" height="5.71" fill="#babbe1"/>
<rect x="86.80" y="489.63" width="9.90" height="5.71" fill="#babbe1"/>
<rect x="96.40" y="489.63" width="9.90" height="5.71" fill="#ececf4"/>
<rect x="29.20" y="495.04" width="9.90" height="5.71" fill="#f6f6f8"/>
<rect x="38.80" y="495.04" width="9.90" height="5.71" fill="#e38a8f"/>
<rect x="48.40" y="495.04" width="9.90" height="5.71" fill="#ce2832"/>
<rect x="58.00" y="495.04" width="9.90" height="5.71" fill="#babbe1"/>
<rect x="67.60" y="495.04" width="9.90" height="5.71" fill="#c4c4e5"/>
<rect x="77.20" y="495.04" width="9.90" height="5.71" fill="#d8d8ed"/>
<rect x="86.80" y="495.04" width="9.90" height="5.71" fill="#c4c4e5"/>
<rect x="96.40" y="495.04" width="9.90" height="5.71" fill="#f6f6f8"/>
<rect x="29.20" y="500.45" width="9.90" height="5.71" fill="#ebb5b9"/>
<rect x="38.80" y="500.45" width="9.90" height="5.71" fill="#e38a8f"/>
<rect x="48.40" y="500.45" width="9.90" height="5.71" fill="#db656c"/>
<rect x="58.00" y="500.45" width="9.90" height="5.71" fill="#d8d8ed"/>
<rect x="67.60" y="500.45" width="9.90" height="5.71" fill="#f6f6f8"/>
<rect x="77.20" y="500.45" width="9.90" height="5.71" fill="#b0b1dd"/>
<rect x="86.80" y="500.45" width="9.90" height="5.71" fill="#b0b1dd"/>
<rect x="96.40" y="500.45" width="9.90" height="5.71" fill="#b0b1dd"/>
<rect x="29.20" y="505.86" width="9.90" height="5.71" fill="#d64d55"/>
<rect x="38.80" y="505.86" width="9.90" height="5.71" fill="#e7a0a4"/>
<rect x="48.40" y="505.86" width="9.90" height="5.71" fill="#e7a0a4"/>
<rect x="58.00" y="505.86" width="9.90" height="5.71" fill="#babbe1"/>
<rect x="67.60" y="505.86" width="9.90" height="5.71" fill="#b0b1dd"/>
<rect x="77.20" y="505.86" width="9.90" height="5.71" fill="#f6f6f8"/>
<rect x="86.80" y="505.86" width="9.90" height="5.71" fill="#c4c4e5"/>
<rect x="96.40" y="505.86" width="9.90" height="5.71" fill="#cecee9"/>
<rect x="29.20" y="511.27" width="9.90" height="5.71" fill="#f2e0e3"/>
<rect x="38.80" y="511.27" width="9.90" height="5.71" fill="#ecc0c4"/>
<rect x="48.40" y="511.27" width="9.90" height="5.71" fill="#d34149"/>
<rect x="58.00" y="511.27" width="9.90" height="5.71" fill="#f6f6f8"/>
<rect x="67.60" y="511.27" width="9.90" height="5.71" fill="#b0b1dd"/>
<rect x="77.20" y="511.27" width="9.90" height="5.71" fill="#e2e2f0"/>
<rect x="86.80" y="511.27" width="9.90" height="5.71" fill="#40459d"/>
<rect x="96.40" y="511.27" width="9.90" height="5.71" fill="#f0d6d8"/>
<rect x="29.20" y="516.68" width="9.90" height="5.71" fill="#ecc0c4"/>
<rect x="38.80" y="516.68" width="9.90" height="5.71" fill="#ecc0c4"/>
<rect x="48.40" y="516.68" width="9.90" height="5.71" fill="#de7278"/>
<rect x="58.00" y="516.68" width="9.90" height="5.71" fill="#f4ebee"/>
<rect x="67.60" y="516.68" width="9.90" height="5.71" fill="#c4c4e5"/>
<rect x="77.20" y="516.68" width="9.90" height="5.71" fill="#7e80c5"/>
<rect x="86.80" y="516.68" width="9.90" height="5.71" fill="#a6a7da"/>
<rect x="96.40" y="516.68" width="9.90" height="5.71" fill="#f4ebee"/>
<rect x="29.20" y="522.09" width="9.90" height="5.71" fill="#ebb5b9"/>
<rect x="38.80" y="522.09" width="9.90" height="5.71" fill="#e9aaae"/>
<rect x="48.40" y="522.09" width="9.90" height="5.71" fill="#e07e83"/>
<rect x="58.00" y="522.09" width="9.90" height="5.71" fill="#ecc0c4"/>
<rect x="67.60" y="522.09" width="9.90" height="5.71" fill="#babbe1"/>
<rect x="77.20" y="522.09" width="9.90" height="5.71" fill="#b0b1dd"/>
<rect x="86.80" y="522.09" width="9.90" height="5.71" fill="#b0b1dd"/>
<rect x="96.40" y="522.09" width="9.90" height="5.71" fill="#b0b1dd"/>
<rect x="29.20" y="527.50" width="9.90" height="5.71" fill="#f6f6f8"/>
<rect x="38.80" y="527.50" width="9.90" height="5.71" fill="#eecbce"/>
<rect x="48.40" y="527.50" width="9.90" height="5.71" fill="#e38a8f"/>
<rect x="58.00" y="527.50" width="9.90" height="5.71" fill="#d95961"/>
<rect x="67.60" y="527.50" width="9.90" height="5.71" fill="#d8d8ed"/>
<rect x="77.20" y="527.50" width="9.90" height="5.71" fill="#babbe1"/>
<rect x="86.80" y="527.50" width="9.90" height="5.71" fill="#babbe1"/>
<rect x="96.40" y="527.50" width="9.90" height="5.71" fill="#babbe1"/>
<rect x="29.20" y="532.91" width="9.90" height="5.71" fill="#b0b1dd"/>
<rect x="38.80" y="532.91" width="9.90" height="5.71" fill="#d8d8ed"/>
<rect x="48.40" y="532.91" width="9.90" height="5.71" fill="#c9101b"/>
<rect x="58.00" y="532.91" width="9.90" height="5.71" fill="#c4c4e5"/>
<rect x="67.60" y="532.91" width="9.90" height="5.71" fill="#ebb5b9"/>
<rect x="77.20" y="532.91" width="9.90" height="5.71" fill="#f6f6f8"/>
<rect x="86.80" y="532.91" width="9.90" height="5.71" fill="#f6f6f8"/>
<rect x="96.40" y="532.91" width="9.90" height="5.71" fill="#c4c4e5"/>
<rect x="29.20" y="538.32" width="9.90" height="5.71" fill="#b0b1dd"/>
<rect x="38.80" y="538.32" width="9.90" height="5.71" fill="#f2e0e3"/>
<rect x="48.40" y="538.32" width="9.90" height="5.71" fill="#c9101b"/>
<rect x="58.00" y="538.32" width="9.90" height="5.71" fill="#f6f6f8"/>
<rect x="67.60" y="538.32" width="9.90" height="5.71" fill="#babbe1"/>
<rect x="77.20" y="538.32" width="9.90" height="5.71" fill="#d8d8ed"/>
<rect x="86.80" y="538.32" width="9.90" height="5.71" fill="#eecbce"/>
<rect x="96.40" y="538.32" width="9.90" height="5.71" fill="#d8d8ed"/>
<rect x="29.20" y="543.73" width="9.90" height="5.71" fill="#4b4fa4"/>
<rect x="38.80" y="543.73" width="9.90" height="5.71" fill="#d8d8ed"/>
<rect x="48.40" y="543.73" width="9.90" height="5.71" fill="#db656c"/>
<rect x="58.00" y="543.73" width="9.90" height="5.71" fill="#b0b1dd"/>
<rect x="67.60" y="543.73" width="9.90" height="5.71" fill="#f0d6d8"/>
<rect x="77.20" y="543.73" width="9.90" height="5.71" fill="#d8d8ed"/>
<rect x="86.80" y="543.73" width="9.90" height="5.71" fill="#eecbce"/>
<rect x="96.40" y="543.73" width="9.90" height="5.71" fill="#e9aaae"/>
<rect x="29.20" y="549.14" width="9.90" height="5.71" fill="#cecee9"/>
<rect x="38.80" y="549.14" width="9.90" height="5.71" fill="#e9aaae"/>
<rect x="48.40" y="549.14" width="9.90" height="5.71" fill="#de7278"/>
<rect x="58.00" y="549.14" width="9.90" height="5.71" fill="#a6a7da"/>
<rect x="67.60" y="549.14" width="9.90" height="5.71" fill="#f6f6f8"/>
<rect x="77.20" y="549.14" width="9.90" height="5.71" fill="#40459d"/>
<rect x="86.80" y="549.14" width="9.90" height="5.71" fill="#f2e0e3"/>
<rect x="96.40" y="549.14" width="9.90" height="5.71" fill="#ebb5b9"/>
<rect x="29.20" y="554.55" width="9.90" height="5.71" fill="#f2e0e3"/>
<rect x="38.80" y="554.55" width="9.90" height="5.71" fill="#cecee9"/>
<rect x="48.40" y="554.55" width="9.90" height="5.71" fill="#f2e0e3"/>
<rect x="58.00" y="554.55" width="9.90" height="5.71" fill="#cc1c27"/>
<rect x="67.60" y="554.55" width="9.90" height="5.71" fill="#babbe1"/>
<rect x="77.20" y="554.55" width="9.90" height="5.71" fill="#7376be"/>
<rect x="86.80" y="554.55" width="9.90" height="5.71" fill="#f4ebee"/>
<rect x="96.40" y="554.55" width="9.90" height="5.71" fill="#f6f6f8"/>
<rect x="29.20" y="559.96" width="9.90" height="5.71" fill="#ebb5b9"/>
<rect x="38.80" y="559.96" width="9.90" height="5.71" fill="#d8d8ed"/>
<rect x="48.40" y="559.96" width="9.90" height="5.71" fill="#ececf4"/>
<rect x="58.00" y="559.96" width="9.90" height="5.71" fill="#cc1c27"/>
<rect x="67.60" y="559.96" width="9.90" height="5.71" fill="#e2e2f0"/>
<rect x="77.20" y="559.96" width="9.90" height="5.71" fill="#d8d8ed"/>
<rect x="86.80" y="559.96" width="9.90" height="5.71" fill="#babbe1"/>
<rect x="96.40" y="559.96" width="9.90" height="5.71" fill="#d8d8ed"/>
<rect x="29.20" y="565.37" width="9.90" height="5.71" fill="#e38a8f"/>
<rect x="38.80" y="565.37" width="9.90" height="5.71" fill="#f6f6f8"/>
<rect x="48.40" y="565.37" width="9.90" height="5.71" fill="#eecbce"/>
<rect x="58.00" y="565.37" width="9.90" height="5.71" fill="#d34149"/>
<rect x="67.60" y="565.37" width="9.90" height="5.71" fill="#c4c4e5"/>
<rect x="77.20" y="565.37" width="9.90" height="5.71" fill="#b0b1dd"/>
<rect x="86.80" y="565.37" width="9.90" height="5.71" fill="#c4c4e5"/>
<rect x="96.40" y="565.37" width="9.90" height="5.71" fill="#babbe1"/>
<rect x="29.20" y="570.78" width="9.90" height="5.71" fill="#ebb5b9"/>
<rect x="38.80" y="570.78" width="9.90" height="5.71" fill="#cecee9"/>
<rect x="48.40" y="570.78" width="9.90" height="5.71" fill="#f2e0e3"/>
<rect x="58.00" y="570.78" width="9.90" height="5.71" fill="#cc1c27"/>
<rect x="67.60" y="570.78" width="9.90" height="5.71" fill="#d8d8ed"/>
<rect x="77.20" y="570.78" width="9.90" height="5.71" fill="#cecee9"/>
<rect x="86.80" y="570.78" width="9.90" height="5.71" fill="#babbe1"/>
<rect x="96.40" y="570.78" width="9.90" height="5.71" fill="#babbe1"/>
<rect x="29.20" y="576.19" width="9.90" height="5.71" fill="#d95961"/>
<rect x="38.80" y="576.19" width="9.90" height="5.71" fill="#e9aaae"/>
<rect x="48.40" y="576.19" width="9.90" height="5.71" fill="#f6f6f8"/>
<rect x="58.00" y="576.19" width="9.90" height="5.71" fill="#e38a8f"/>
<rect x="67.60" y="576.19" width="9.90" height="5.71" fill="#d8d8ed"/>
<rect x="77.20" y="576.19" width="9.90" height="5.71" fill="#a6a7da"/>
<rect x="86.80" y="576.19" width="9.90" height="5.71" fill="#babbe1"/>
<rect x="96.40" y="576.19" width="9.90" height="5.71" fill="#a6a7da"/>
<rect x="29.20" y="581.60" width="9.90" height="5.71" fill="#d64d55"/>
<rect x="38.80" y="581.60" width="9.90" height="5.71" fill="#d8d8ed"/>
<rect x="48.40" y="581.60" width="9.90" height="5.71" fill="#ececf4"/>
<rect x="58.00" y="581.60" width="9.90" height="5.71" fill="#d64d55"/>
<rect x="67.60" y="581.60" width="9.90" height="5.71" fill="#f6f6f8"/>
<rect x="77.20" y="581.60" width="9.90" height="5.71" fill="#c4c4e5"/>
<rect x="86.80" y="581.60" width="9.90" height="5.71" fill="#c4c4e5"/>
<rect x="96.40" y="581.60" width="9.90" height="5.71" fill="#c4c4e5"/>
<rect x="29.20" y="587.01" width="9.90" height="5.71" fill="#c9101b"/>
<rect x="38.80" y="587.01" width="9.90" height="5.71" fill="#f6f6f8"/>
<rect x="48.40" y="587.01" width="9.90" height="5.71" fill="#f6f6f8"/>
<rect x="58.00" y="587.01" width="9.90" height="5.71" fill="#e7a0a4"/>
<rect x="67.60" y="587.01" width="9.90" height="5.71" fill="#babbe1"/>
<rect x="77.20" y="587.01" width="9.90" height="5.71" fill="#cecee9"/>
<rect x="86.80" y="587.01" width="9.90" height="5.71" fill="#babbe1"/>
<rect x="96.40" y="587.01" width="9.90" height="5.71" fill="#d8d8ed"/>
<rect x="29.20" y="592.42" width="9.90" height="5.71" fill="#c9101b"/>
<rect x="38.80" y="592.42" width="9.90" height="5.71" fill="#cecee9"/>
<rect x="48.40" y="592.42" width="9.90" height="5.71" fill="#f6f6f8"/>
<rect x="58.00" y="592.42" width="9.90" height="5.71" fill="#eecbce"/>
<rect x="67.60" y="592.42" width="9.90" height="5.71" fill="#a6a7da"/>
<rect x="77.20" y="592.42" width="9.90" height="5.71" fill="#9293d2"/>
<rect x="86.80" y="592.42" width="9.90" height="5.71" fill="#f0d6d8"/>
<rect x="96.40" y="592.42" width="9.90" height="5.71" fill="#f6f6f8"/>
<rect x="29.20" y="597.83" width="9.90" height="5.71" fill="#e38a8f"/>
<rect x="38.80" y="597.83" width="9.90" height="5.71" fill="#f6f6f8"/>
<rect x="48.40" y="597.83" width="9.90" height="5.71" fill="#7e80c5"/>
<rect x="58.00" y="597.83" width="9.90" height="5.71" fill="#ebb5b9"/>
<rect x="67.60" y="597.83" width="9.90" height="5.71" fill="#a6a7da"/>
<rect x="77.20" y="597.83" width="9.90" height="5.71" fill="#a6a7da"/>
<rect x="86.80" y="597.83" width="9.90" height="5.71" fill="#e7a0a4"/>
<rect x="96.40" y="597.83" width="9.90" height="5.71" fill="#e9aaae"/>
<rect x="29.20" y="603.24" width="9.90" height="5.71" fill="#c9101b"/>
<rect x="38.80" y="603.24" width="9.90" height="5.71" fill="#ececf4"/>
<rect x="48.40" y="603.24" width="9.90" height="5.71" fill="#f6f6f8"/>
<rect x="58.00" y="603.24" width="9.90" height="5.71" fill="#d8d8ed"/>
<rect x="67.60" y="603.24" width="9.90" height="5.71" fill="#f6f6f8"/>
<rect x="77.20" y="603.24" width="9.90" height="5.71" fill="#cecee9"/>
<rect x="86.80" y="603.24" width="9.90" height="5.71" fill="#d8d8ed"/>
<rect x="96.40" y="603.24" width="9.90" height="5.71" fill="#cecee9"/>
<rect x="29.20" y="608.65" width="9.90" height="5.71" fill="#de7278"/>
<rect x="38.80" y="608.65" width="9.90" height="5.71" fill="#d8d8ed"/>
<rect x="48.40" y="608.65" width="9.90" height="5.71" fill="#ce2832"/>
<rect x="58.00" y="608.65" width="9.90" height="5.71" fill="#f6f6f8"/>
<rect x="67.60" y="608.65" width="9.90" height="5.71" fill="#b0b1dd"/>
<rect x="77.20" y="608.65" width="9.90" height="5.71" fill="#b0b1dd"/>
<rect x="86.80" y="608.65" width="9.90" height="5.71" fill="#f6f6f8"/>
<rect x="96.40" y="608.65" width="9.90" height="5.71" fill="#cecee9"/>
<rect x="29.20" y="614.06" width="9.90" height="5.71" fill="#db656c"/>
<rect x="38.80" y="614.06" width="9.90" height="5.71" fill="#f6f6f8"/>
<rect x="48.40" y="614.06" width="9.90" height="5.71" fill="#e7a0a4"/>
<rect x="58.00" y="614.06" width="9.90" height="5.71" fill="#babbe1"/>
<rect x="67.60" y="614.06" width="9.90" height="5.71" fill="#babbe1"/>
<rect x="77.20" y="614.06" width="9.90" height="5.71" fill="#babbe1"/>
<rect x="86.80" y="614.06" width="9.90" height="5.71" fill="#a6a7da"/>
<rect x="96.40" y="614.06" width="9.90" height="5.71" fill="#e7a0a4"/>
<rect x="29.20" y="619.47" width="9.90" height="5.71" fill="#d34149"/>
<rect x="38.80" y="619.47" width="9.90" height="5.71" fill="#b0b1dd"/>
<rect x="48.40" y="619.47" width="9.90" height="5.71" fill="#eecbce"/>
<rect x="58.00" y="619.47" width="9.90" height="5.71" fill="#f6f6f8"/>
<rect x="67.60" y="619.47" width="9.90" height="5.71" fill="#babbe1"/>
<rect x="77.20" y="619.47" width="9.90" height="5.71" fill="#babbe1"/>
<rect x="86.80" y="619.47" width="9.90" height="5.71" fill="#e2e2f0"/>
<rect x="96.40" y="619.47" width="9.90" height="5.71" fill="#ebb5b9"/>
<rect x="29.20" y="624.88" width="9.90" height="5.71" fill="#eecbce"/>
<rect x="38.80" y="624.88" width="9.90" height="5.71" fill="#a6a7da"/>
<rect x="48.40" y="624.88" width="9.90" height="5.71" fill="#e2e2f0"/>
<rect x="58.00" y="624.88" width="9.90" height="5.71" fill="#ce2832"/>
<rect x="67.60" y="624.88" width="9.90" height="5.71" fill="#eecbce"/>
<rect x="77.20" y="624.88" width="9.90" height="5.71" fill="#e2e2f0"/>
<rect x="86.80" y="624.88" width="9.90" height="5.71" fill="#e2e2f0"/>
<rect x="96.40" y="624.88" width="9.90" height="5.71" fill="#a6a7da"/>
<rect x="29.20" y="630.29" width="9.90" height="5.71" fill="#d8d8ed"/>
<rect x="38.80" y="630.29" width="9.90" height="5.71" fill="#b0b1dd"/>
<rect x="48.40" y="630.29" width="9.90" height="5.71" fill="#ececf4"/>
<rect x="58.00" y="630.29" width="9.90" height="5.71" fill="#c9101b"/>
<rect x="67.60" y="630.29" width="9.90" height="5.71" fill="#f2e0e3"/>
<rect x="77.20" y="630.29" width="9.90" height="5.71" fill="#ecc0c4"/>
<rect x="86.80" y="630.29" width="9.90" height="5.71" fill="#a6a7da"/>
<rect x="96.40" y="630.29" width="9.90" height="5.71" fill="#cecee9"/>
<rect x="29.20" y="635.70" width="9.90" height="5.71" fill="#b0b1dd"/>
<rect x="38.80" y="635.70" width="9.90" height="5.71" fill="#f4ebee"/>
<rect x="48.40" y="635.70" width="9.90" height="5.71" fill="#7e80c5"/>
<rect x="58.00" y="635.70" width="9.90" height="5.71" fill="#d95961"/>
<rect x="67.60" y="635.70" width="9.90" height="5.71" fill="#d95961"/>
<rect x="77.20" y="635.70" width="9.90" height="5.71" fill="#f0d6d8"/>
<rect x="86.80" y="635.70" width="9.90" height="5.71" fill="#cecee9"/>
<rect x="96.40" y="635.70" width="9.90" height="5.71" fill="#cecee9"/>
<rect x="29.20" y="641.11" width="9.90" height="5.71" fill="#f6f6f8"/>
<rect x="38.80" y="641.11" width="9.90" height="5.71" fill="#f6f6f8"/>
<rect x="48.40" y="641.11" width="9.90" height="5.71" fill="#a6a7da"/>
<rect x="58.00" y="641.11" width="9.90" height="5.71" fill="#d95961"/>
<rect x="67.60" y="641.11" width="9.90" height="5.71" fill="#d95961"/>
<rect x="77.20" y="641.11" width="9.90" height="5.71" fill="#a6a7da"/>
<rect x="86.80" y="641.11" width="9.90" height="5.71" fill="#b0b1dd"/>
<rect x="96.40" y="641.11" width="9.90" height="5.71" fill="#f6f6f8"/>
<rect x="29.20" y="646.52" width="9.90" height="5.71" fill="#40459d"/>
<rect x="38.80" y="646.52" width="9.90" height="5.71" fill="#e2e2f0"/>
<rect x="48.40" y="646.52" width="9.90" height="5.71" fill="#f0d6d8"/>
<rect x="58.00" y="646.52" width="9.90" height="5.71" fill="#db656c"/>
<rect x="67.60" y="646.52" width="9.90" height="5.71" fill="#babbe1"/>
<rect x="77.20" y="646.52" width="9.90" height="5.71" fill="#f0d6d8"/>
<rect x="86.80" y="646.52" width="9.90" height="5.71" fill="#de7278"/>
<rect x="96.40" y="646.52" width="9.90" height="5.71" fill="#d8d8ed"/>
<rect x="29.20" y="651.93" width="9.90" height="5.71" fill="#f4ebee"/>
<rect x="38.80" y="651.93" width="9.90" height="5.71" fill="#babbe1"/>
<rect x="48.40" y="651.93" width="9.90" height="5.71" fill="#d95961"/>
<rect x="58.00" y="651.93" width="9.90" height="5.71" fill="#de7278"/>
<rect x="67.60" y="651.93" width="9.90" height="5.71" fill="#9293d2"/>
<rect x="77.20" y="651.93" width="9.90" height="5.71" fill="#f0d6d8"/>
<rect x="86.80" y="651.93" width="9.90" height="5.71" fill="#f6f6f8"/>
<rect x="96.40" y="651.93" width="9.90" height="5.71" fill="#7e80c5"/>
<rect x="29.20" y="657.34" width="9.90" height="5.71" fill="#7e80c5"/>
<rect x="38.80" y="657.34" width="9.90" height="5.71" fill="#ecc0c4"/>
<rect x="48.40" y="657.34" width="9.90" height="5.71" fill="#eecbce"/>
<rect x="58.00" y="657.34" width="9.90" height="5.71" fill="#40459d"/>
<rect x="67.60" y="657.34" width="9.90" height="5.71" fill="#ecc0c4"/>
<rect x="77.20" y="657.34" width="9.90" height="5.71" fill="#f4ebee"/>
<rect x="86.80" y="657.34" width="9.90" height="5.71" fill="#d8d8ed"/>
<rect x="96.40" y="657.34" width="9.90" height="5.71" fill="#d64d55"/>
<rect x="29.20" y="662.75" width="9.90" height="5.71" fill="#7e80c5"/>
<rect x="38.80" y="662.75" width="9.90" height="5.71" fill="#e5959a"/>
<rect x="48.40" y="662.75" width="9.90" height="5.71" fill="#f2e0e3"/>
<rect x="58.00" y="662.75" width="9.90" height="5.71" fill="#a6a7da"/>
<rect x="67.60" y="662.75" width="9.90" height="5.71" fill="#f6f6f8"/>
<rect x="77.20" y="662.75" width="9.90" height="5.71" fill="#eecbce"/>
<rect x="86.80" y="662.75" width="9.90" height="5.71" fill="#9293d2"/>
<rect x="96.40" y="662.75" width="9.90" height="5.71" fill="#d64d55"/>
<rect x="29.20" y="668.16" width="9.90" height="5.71" fill="#ecc0c4"/>
<rect x="38.80" y="668.16" width="9.90" height="5.71" fill="#babbe1"/>
<rect x="48.40" y="668.16" width="9.90" height="5.71" fill="#babbe1"/>
<rect x="58.00" y="668.16" width="9.90" height="5.71" fill="#babbe1"/>
<rect x="67.60" y="668.16" width="9.90" height="5.71" fill="#f0d6d8"/>
<rect x="77.20" y="668.16" width="9.90" height="5.71" fill="#e2e2f0"/>
<rect x="86.80" y="668.16" width="9.90" height="5.71" fill="#f6f6f8"/>
<rect x="96.40" y="668.16" width="9.90" height="5.71" fill="#c9101b"/>
<rect x="29.20" y="673.57" width="9.90" height="5.71" fill="#d8d8ed"/>
<rect x="38.80" y="673.57" width="9.90" height="5.71" fill="#cecee9"/>
<rect x="48.40" y="673.57" width="9.90" height="5.71" fill="#cecee9"/>
<rect x="58.00" y="673.57" width="9.90" height="5.71" fill="#f0d6d8"/>
<rect x="67.60" y="673.57" width="9.90" height="5.71" fill="#c4c4e5"/>
<rect x="77.20" y="673.57" width="9.90" height="5.71" fill="#a6a7da"/>
<rect x="86.80" y="673.57" width="9.90" height="5.71" fill="#e9aaae"/>
<rect x="96.40" y="673.57" width="9.90" height="5.71" fill="#c9101b"/>
<rect x="29.20" y="678.98" width="9.90" height="5.71" fill="#d8d8ed"/>
<rect x="38.80" y="678.98" width="9.90" height="5.71" fill="#cecee9"/>
<rect x="48.40" y="678.98" width="9.90" height="5.71" fill="#d8d8ed"/>
<rect x="58.00" y="678.98" width="9.90" height="5.71" fill="#d8d8ed"/>
<rect x="67.60" y="678.98" width="9.90" height="5.71" fill="#ececf4"/>
<rect x="77.20" y="678.98" width="9.90" height="5.71" fill="#d8d8ed"/>
<rect x="86.80" y="678.98" width="9.90" height="5.71" fill="#d8d8ed"/>
<rect x="96.40" y="678.98" width="9.90" height="5.71" fill="#c9101b"/>
<rect x="29.20" y="684.39" width="9.90" height="5.71" fill="#cecee9"/>
<rect x="38.80" y="684.39" width="9.90" height="5.71" fill="#cecee9"/>
<rect x="48.40" y="684.39" width="9.90" height="5.71" fill="#d8d8ed"/>
<rect x="58.00" y="684.39" width="9.90" height="5.71" fill="#f6f6f8"/>
<rect x="67.60" y="684.39" width="9.90" height="5.71" fill="#e2e2f0"/>
<rect x="77.20" y="684.39" width="9.90" height="5.71" fill="#e2e2f0"/>
<rect x="86.80" y="684.39" width="9.90" height="5.71" fill="#f6f6f8"/>
<rect x="96.40" y="684.39" width="9.90" height="5.71" fill="#c9101b"/>
<rect x="29.20" y="689.80" width="9.90" height="5.71" fill="#c4c4e5"/>
<rect x="38.80" y="689.80" width="9.90" height="5.71" fill="#e7a0a4"/>
<rect x="48.40" y="689.80" width="9.90" height="5.71" fill="#e2e2f0"/>
<rect x="58.00" y="689.80" width="9.90" height="5.71" fill="#c4c4e5"/>
<rect x="67.60" y="689.80" width="9.90" height="5.71" fill="#c9101b"/>
<rect x="77.20" y="689.80" width="9.90" height="5.71" fill="#babbe1"/>
<rect x="86.80" y="689.80" width="9.90" height="5.71" fill="#f6f6f8"/>
<rect x="96.40" y="689.80" width="9.90" height="5.71" fill="#cecee9"/>
<rect x="29.20" y="695.21" width="9.90" height="5.71" fill="#c4c4e5"/>
<rect x="38.80" y="695.21" width="9.90" height="5.71" fill="#f6f6f8"/>
<rect x="48.40" y="695.21" width="9.90" height="5.71" fill="#cecee9"/>
<rect x="58.00" y="695.21" width="9.90" height="5.71" fill="#e2e2f0"/>
<rect x="67.60" y="695.21" width="9.90" height="5.71" fill="#e5959a"/>
<rect x="77.20" y="695.21" width="9.90" height="5.71" fill="#e9aaae"/>
<rect x="86.80" y="695.21" width="9.90" height="5.71" fill="#d95961"/>
<rect x="96.40" y="695.21" width="9.90" height="5.71" fill="#5559aa"/>
<rect x="29.20" y="700.62" width="9.90" height="5.71" fill="#c4c4e5"/>
<rect x="38.80" y="700.62" width="9.90" height="5.71" fill="#9c9dd6"/>
<rect x="48.40" y="700.62" width="9.90" height="5.71" fill="#babbe1"/>
<rect x="58.00" y="700.62" width="9.90" height="5.71" fill="#babbe1"/>
<rect x="67.60" y="700.62" width="9.90" height="5.71" fill="#e7a0a4"/>
<rect x="77.20" y="700.62" width="9.90" height="5.71" fill="#db656c"/>
<rect x="86.80" y="700.62" width="9.90" height="5.71" fill="#db656c"/>
<rect x="96.40" y="700.62" width="9.90" height="5.71" fill="#cecee9"/>
<rect x="29.20" y="706.03" width="9.90" height="5.71" fill="#f6f6f8"/>
<rect x="38.80" y="706.03" width="9.90" height="5.71" fill="#babbe1"/>
<rect x="48.40" y="706.03" width="9.90" height="5.71" fill="#9c9dd6"/>
<rect x="58.00" y="706.03" width="9.90" height="5.71" fill="#9c9dd6"/>
<rect x="67.60" y="706.03" width="9.90" height="5.71" fill="#d95961"/>
<rect x="77.20" y="706.03" width="9.90" height="5.71" fill="#de7278"/>
<rect x="86.80" y="706.03" width="9.90" height="5.71" fill="#e5959a"/>
<rect x="96.40" y="706.03" width="9.90" height="5.71" fill="#a6a7da"/>
<rect x="29.20" y="711.44" width="9.90" height="5.71" fill="#d8d8ed"/>
<rect x="38.80" y="711.44" width="9.90" height="5.71" fill="#ececf4"/>
<rect x="48.40" y="711.44" width="9.90" height="5.71" fill="#e2e2f0"/>
<rect x="58.00" y="711.44" width="9.90" height="5.71" fill="#e2e2f0"/>
<rect x="67.60" y="711.44" width="9.90" height="5.71" fill="#f6f6f8"/>
<rect x="77.20" y="711.44" width="9.90" height="5.71" fill="#c9101b"/>
<rect x="86.80" y="711.44" width="9.90" height="5.71" fill="#ececf4"/>
<rect x="96.40" y="711.44" width="9.90" height="5.71" fill="#d8d8ed"/>
<rect x="29.20" y="716.85" width="9.90" height="5.71" fill="#d8d8ed"/>
<rect x="38.80" y="716.85" width="9.90" height="5.71" fill="#7e80c5"/>
<rect x="48.40" y="716.85" width="9.90" height="5.71" fill="#cecee9"/>
<rect x="58.00" y="716.85" width="9.90" height="5.71" fill="#e2e2f0"/>
<rect x="67.60" y="716.85" width="9.90" height="5.71" fill="#f0d6d8"/>
<rect x="77.20" y="716.85" width="9.90" height="5.71" fill="#c9101b"/>
<rect x="86.80" y="716.85" width="9.90" height="5.71" fill="#f6f6f8"/>
<rect x="96.40" y="716.85" width="9.90" height="5.71" fill="#f6f6f8"/>
<rect x="29.20" y="722.26" width="9.90" height="5.71" fill="#f4ebee"/>
<rect x="38.80" y="722.26" width="9.90" height="5.71" fill="#7e80c5"/>
<rect x="48.40" y="722.26" width="9.90" height="5.71" fill="#c4c4e5"/>
<rect x="58.00" y="722.26" width="9.90" height="5.71" fill="#d8d8ed"/>
<rect x="67.60" y="722.26" width="9.90" height="5.71" fill="#f6f6f8"/>
<rect x="77.20" y="722.26" width="9.90" height="5.71" fill="#c9101b"/>
<rect x="86.80" y="722.26" width="9.90" height="5.71" fill="#f4ebee"/>
<rect x="96.40" y="722.26" width="9.90" height="5.71" fill="#f4ebee"/>
<rect x="29.20" y="727.67" width="9.90" height="5.71" fill="#f4ebee"/>
<rect x="38.80" y="727.67" width="9.90" height="5.71" fill="#f6f6f8"/>
<rect x="48.40" y="727.67" width="9.90" height="5.71" fill="#c4c4e5"/>
<rect x="58.00" y="727.67" width="9.90" height="5.71" fill="#a6a7da"/>
<rect x="67.60" y="727.67" width="9.90" height="5.71" fill="#ebb5b9"/>
<rect x="77.20" y="727.67" width="9.90" height="5.71" fill="#c9101b"/>
<rect x="86.80" y="727.67" width="9.90" height="5.71" fill="#e2e2f0"/>
<rect x="96.40" y="727.67" width="9.90" height="5.71" fill="#a6a7da"/>
<rect x="29.20" y="733.08" width="9.90" height="5.71" fill="#cecee9"/>
<rect x="38.80" y="733.08" width="9.90" height="5.71" fill="#babbe1"/>
<rect x="48.40" y="733.08" width="9.90" height="5.71" fill="#d8d8ed"/>
<rect x="58.00" y="733.08" width="9.90" height="5.71" fill="#babbe1"/>
<rect x="67.60" y="733.08" width="9.90" height="5.71" fill="#e38a8f"/>
<rect x="77.20" y="733.08" width="9.90" height="5.71" fill="#c9101b"/>
<rect x="86.80" y="733.08" width="9.90" height="5.71" fill="#d8d8ed"/>
<rect x="96.40" y="733.08" width="9.90" height="5.71" fill="#d8d8ed"/>
<rect x="29.20" y="738.49" width="9.90" height="5.71" fill="#ececf4"/>
<rect x="38.80" y="738.49" width="9.90" height="5.71" fill="#9293d2"/>
<rect x="48.40" y="738.49" width="9.90" height="5.71" fill="#cecee9"/>
<rect x="58.00" y="738.49" width="9.90" height="5.71" fill="#f0d6d8"/>
<rect x="67.60" y="738.49" width="9.90" height="5.71" fill="#e7a0a4"/>
<rect x="77.20" y="738.49" width="9.90" height="5.71" fill="#ce2832"/>
<rect x="86.80" y="738.49" width="9.90" height="5.71" fill="#d8d8ed"/>
<rect x="96.40" y="738.49" width="9.90" height="5.71" fill="#a6a7da"/>
<rect x="29.20" y="743.90" width="9.90" height="5.71" fill="#b0b1dd"/>
<rect x="38.80" y="743.90" width="9.90" height="5.71" fill="#b0b1dd"/>
<rect x="48.40" y="743.90" width="9.90" height="5.71" fill="#c4c4e5"/>
<rect x="58.00" y="743.90" width="9.90" height="5.71" fill="#b0b1dd"/>
<rect x="67.60" y="743.90" width="9.90" height="5.71" fill="#de7278"/>
<rect x="77.20" y="743.90" width="9.90" height="5.71" fill="#ce2832"/>
<rect x="86.80" y="743.90" width="9.90" height="5.71" fill="#f0d6d8"/>
<rect x="96.40" y="743.90" width="9.90" height="5.71" fill="#f6f6f8"/>
<rect x="29.20" y="749.31" width="9.90" height="5.71" fill="#cecee9"/>
<rect x="38.80" y="749.31" width="9.90" height="5.71" fill="#9293d2"/>
<rect x="48.40" y="749.31" width="9.90" height="5.71" fill="#a6a7da"/>
<rect x="58.00" y="749.31" width="9.90" height="5.71" fill="#f6f6f8"/>
<rect x="67.60" y="749.31" width="9.90" height="5.71" fill="#de7278"/>
<rect x="77.20" y="749.31" width="9.90" height="5.71" fill="#ce2832"/>
<rect x="86.80" y="749.31" width="9.90" height="5.71" fill="#f6f6f8"/>
<rect x="96.40" y="749.31" width="9.90" height="5.71" fill="#f6f6f8"/>
<rect x="29.20" y="754.72" width="9.90" height="5.71" fill="#babbe1"/>
<rect x="38.80" y="754.72" width="9.90" height="5.71" fill="#babbe1"/>
<rect x="48.40" y="754.72" width="9.90" height="5.71" fill="#babbe1"/>
<rect x="58.00" y="754.72" width="9.90" height="5.71" fill="#f6f6f8"/>
<rect x="67.60" y="754.72" width="9.90" height="5.71" fill="#de7278"/>
<rect x="77.20" y="754.72" width="9.90" height="5.71" fill="#ce2832"/>
<rect x="86.80" y="754.72" width="9.90" height="5.71" fill="#f6f6f8"/>
<rect x="96.40" y="754.72" width="9.90" height="5.71" fill="#babbe1"/>
<rect x="29.20" y="760.13" width="9.90" height="5.71" fill="#babbe1"/>
<rect x="38.80" y="760.13" width="9.90" height="5.71" fill="#696cb8"/>
<rect x="48.40" y="760.13" width="9.90" height="5.71" fill="#d8d8ed"/>
<rect x="58.00" y="760.13" width="9.90" height="5.71" fill="#f6f6f8"/>
<rect x="67.60" y="760.13" width="9.90" height="5.71" fill="#de7278"/>
<rect x="77.20" y="760.13" width="9.90" height="5.71" fill="#d64d55"/>
<rect x="86.80" y="760.13" width="9.90" height="5.71" fill="#f4ebee"/>
<rect x="96.40" y="760.13" width="9.90" height="5.71" fill="#d8d8ed"/>
<rect x="29.20" y="765.54" width="9.90" height="5.71" fill="#d8d8ed"/>
<rect x="38.80" y="765.54" width="9.90" height="5.71" fill="#e2e2f0"/>
<rect x="48.40" y="765.54" width="9.90" height="5.71" fill="#e2e2f0"/>
<rect x="58.00" y="765.54" width="9.90" height="5.71" fill="#d8d8ed"/>
<rect x="67.60" y="765.54" width="9.90" height="5.71" fill="#d8d8ed"/>
<rect x="77.20" y="765.54" width="9.90" height="5.71" fill="#ececf4"/>
<rect x="86.80" y="765.54" width="9.90" height="5.71" fill="#c9101b"/>
<rect x="96.40" y="765.54" width="9.90" height="5.71" fill="#d8d8ed"/>
<rect x="29.20" y="770.95" width="9.90" height="5.71" fill="#ececf4"/>
<rect x="38.80" y="770.95" width="9.90" height="5.71" fill="#a6a7da"/>
<rect x="48.40" y="770.95" width="9.90" height="5.71" fill="#9293d2"/>
<rect x="58.00" y="770.95" width="9.90" height="5.71" fill="#babbe1"/>
<rect x="67.60" y="770.95" width="9.90" height="5.71" fill="#f4ebee"/>
<rect x="77.20" y="770.95" width="9.90" height="5.71" fill="#d64d55"/>
<rect x="86.80" y="770.95" width="9.90" height="5.71" fill="#e38a8f"/>
<rect x="96.40" y="770.95" width="9.90" height="5.71" fill="#f4ebee"/>
<rect x="29.20" y="776.36" width="9.90" height="5.71" fill="#ecc0c4"/>
<rect x="38.80" y="776.36" width="9.90" height="5.71" fill="#a6a7da"/>
<rect x="48.40" y="776.36" width="9.90" height="5.71" fill="#d8d8ed"/>
<rect x="58.00" y="776.36" width="9.90" height="5.71" fill="#a6a7da"/>
<rect x="67.60" y="776.36" width="9.90" height="5.71" fill="#ececf4"/>
<rect x="77.20" y="776.36" width="9.90" height="5.71" fill="#e38a8f"/>
<rect x="86.80" y="776.36" width="9.90" height="5.71" fill="#d95961"/>
<rect x="96.40" y="776.36" width="9.90" height="5.71" fill="#ececf4"/>
<rect x="29.20" y="781.77" width="9.90" height="5.71" fill="#e9aaae"/>
<rect x="38.80" y="781.77" width="9.90" height="5.71" fill="#babbe1"/>
<rect x="48.40" y="781.77" width="9.90" height="5.71" fill="#d8d8ed"/>
<rect x="58.00" y="781.77" width="9.90" height="5.71" fill="#babbe1"/>
<rect x="67.60" y="781.77" width="9.90" height="5.71" fill="#ececf4"/>
<rect x="77.20" y="781.77" width="9.90" height="5.71" fill="#e38a8f"/>
<rect x="86.80" y="781.77" width="9.90" height="5.71" fill="#d95961"/>
<rect x="96.40" y="781.77" width="9.90" height="5.71" fill="#cecee9"/>
<rect x="29.20" y="787.18" width="9.90" height="5.71" fill="#cecee9"/>
<rect x="38.80" y="787.18" width="9.90" height="5.71" fill="#a6a7da"/>
<rect x="48.40" y="787.18" width="9.90" height="5.71" fill="#d8d8ed"/>
<rect x="58.00" y="787.18" width="9.90" height="5.71" fill="#cecee9"/>
<rect x="67.60" y="787.18" width="9.90" height="5.71" fill="#f6f6f8"/>
<rect x="77.20" y="787.18" width="9.90" height="5.71" fill="#e9aaae"/>
<rect x="86.80" y="787.18" width="9.90" height="5.71" fill="#d95961"/>
<rect x="96.40" y="787.18" width="9.90" height="5.71" fill="#ebb5b9"/>
<rect x="29.20" y="792.59" width="9.90" height="5.71" fill="#a6a7da"/>
<rect x="38.80" y="792.59" width="9.90" height="5.71" fill="#9293d2"/>
<rect x="48.40" y="792.59" width="9.90" height="5.71" fill="#e2e2f0"/>
<rect x="58.00" y="792.59" width="9.90" height="5.71" fill="#cecee9"/>
<rect x="67.60" y="792.59" width="9.90" height="5.71" fill="#f2e0e3"/>
<rect x="77.20" y="792.59" width="9.90" height="5.71" fill="#de7278"/>
<rect x="86.80" y="792.59" width="9.90" height="5.71" fill="#de7278"/>
<rect x="96.40" y="792.59" width="9.90" height="5.71" fill="#e38a8f"/>
<line x1="67.60" y1="473.40" x2="67.60" y2="798.00" stroke="#111" stroke-width="1.3"/>
<rect x="29.20" y="465.60" width="38.40" height="7.80" fill="#c8101b"/>
<rect x="67.60" y="465.60" width="38.40" height="7.80" fill="#e0812d"/>
<rect x="29.20" y="465.60" width="76.80" height="7.80" fill="none" stroke="#111" stroke-width="1.5"/>
<line x1="67.60" y1="465.60" x2="67.60" y2="473.40" stroke="#111" stroke-width="1.2"/>
<line x1="41.90" y1="446.00" x2="86.30" y2="446.00" stroke="#999" stroke-width="0.7"/>
<line x1="41.90" y1="446.00" x2="41.90" y2="455.00" stroke="#999" stroke-width="0.7"/>
<line x1="86.30" y1="446.00" x2="86.30" y2="453.50" stroke="#999" stroke-width="0.7"/>
<line x1="33.50" y1="455.00" x2="49.50" y2="455.00" stroke="#999" stroke-width="0.7"/>
<line x1="33.50" y1="455.00" x2="33.50" y2="464.00" stroke="#999" stroke-width="0.7"/>
<line x1="49.50" y1="455.00" x2="49.50" y2="460.00" stroke="#999" stroke-width="0.7"/>
<line x1="43.50" y1="460.00" x2="57.50" y2="460.00" stroke="#999" stroke-width="0.7"/>
<line x1="43.50" y1="460.00" x2="43.50" y2="464.00" stroke="#999" stroke-width="0.7"/>
<line x1="57.50" y1="460.00" x2="57.50" y2="462.00" stroke="#999" stroke-width="0.7"/>
<line x1="53.00" y1="462.00" x2="62.50" y2="462.00" stroke="#999" stroke-width="0.7"/>
<line x1="53.00" y1="462.00" x2="53.00" y2="464.00" stroke="#999" stroke-width="0.7"/>
<line x1="62.50" y1="462.00" x2="62.50" y2="464.00" stroke="#999" stroke-width="0.7"/>
<line x1="77.50" y1="453.50" x2="95.50" y2="453.50" stroke="#999" stroke-width="0.7"/>
<line x1="77.50" y1="453.50" x2="77.50" y2="462.00" stroke="#999" stroke-width="0.7"/>
<line x1="95.50" y1="453.50" x2="95.50" y2="457.50" stroke="#999" stroke-width="0.7"/>
<line x1="72.50" y1="462.00" x2="82.00" y2="462.00" stroke="#999" stroke-width="0.7"/>
<line x1="72.50" y1="462.00" x2="72.50" y2="464.00" stroke="#999" stroke-width="0.7"/>
<line x1="82.00" y1="462.00" x2="82.00" y2="464.00" stroke="#999" stroke-width="0.7"/>
<line x1="90.50" y1="457.50" x2="100.50" y2="457.50" stroke="#999" stroke-width="0.7"/>
<line x1="90.50" y1="457.50" x2="90.50" y2="464.00" stroke="#999" stroke-width="0.7"/>
<line x1="100.50" y1="457.50" x2="100.50" y2="464.00" stroke="#999" stroke-width="0.7"/>
<text transform="translate(108.8 478.40) scale(1.0 1)" font-size="6.4" font-style="italic" stroke="#231f20" stroke-width="0.15">Ccne2</text>
<text transform="translate(108.8 483.81) scale(1.0 1)" font-size="6.4" font-style="italic" stroke="#231f20" stroke-width="0.15">Ccna2</text>
<text transform="translate(108.8 489.22) scale(1.0 1)" font-size="6.4" font-style="italic" stroke="#231f20" stroke-width="0.15">Ccnb1</text>
<text transform="translate(108.8 494.63) scale(1.0 1)" font-size="6.4" font-style="italic" stroke="#231f20" stroke-width="0.15">Ccnd3</text>
<text transform="translate(108.8 500.05) scale(1.0 1)" font-size="6.4" font-style="italic" stroke="#231f20" stroke-width="0.15">Ccnb2</text>
<text transform="translate(108.8 505.45) scale(1.0 1)" font-size="6.4" font-style="italic" stroke="#231f20" stroke-width="0.15">Il12</text>
<text transform="translate(108.8 510.87) scale(1.0 1)" font-size="6.4" font-style="italic" stroke="#231f20" stroke-width="0.15">Cpt1a</text>
<text transform="translate(108.8 516.27) scale(1.0 1)" font-size="6.4" font-style="italic" stroke="#231f20" stroke-width="0.15">Fh</text>
<text transform="translate(108.8 521.68) scale(1.0 1)" font-size="6.4" font-style="italic" stroke="#231f20" stroke-width="0.15">Ldha</text>
<text transform="translate(108.8 527.09) scale(1.0 1)" font-size="6.4" font-style="italic" stroke="#231f20" stroke-width="0.15">Pax5</text>
<text transform="translate(108.8 532.50) scale(1.0 1)" font-size="6.4" font-style="italic" stroke="#231f20" stroke-width="0.15">Bach2</text>
<text transform="translate(108.8 537.91) scale(1.0 1)" font-size="6.4" font-style="italic" stroke="#231f20" stroke-width="0.15">Il10</text>
<text transform="translate(108.8 543.32) scale(1.0 1)" font-size="6.4" font-style="italic" stroke="#231f20" stroke-width="0.15">Ccnd1</text>
<text transform="translate(108.8 548.73) scale(1.0 1)" font-size="6.4" font-style="italic" stroke="#231f20" stroke-width="0.15">Cdt1</text>
<text transform="translate(108.8 554.14) scale(1.0 1)" font-size="6.4" font-style="italic" stroke="#231f20" stroke-width="0.15">Gmnn</text>
<text transform="translate(108.8 559.55) scale(1.0 1)" font-size="6.4" font-style="italic" stroke="#231f20" stroke-width="0.15">Bcl2</text>
<text transform="translate(108.8 564.96) scale(1.0 1)" font-size="6.4" font-style="italic" stroke="#231f20" stroke-width="0.15">Klf2</text>
<text transform="translate(108.8 570.37) scale(1.0 1)" font-size="6.4" font-style="italic" stroke="#231f20" stroke-width="0.15">Ccr7</text>
<text transform="translate(108.8 575.78) scale(1.0 1)" font-size="6.4" font-style="italic" stroke="#231f20" stroke-width="0.15">Nr4a1</text>
<text transform="translate(108.8 581.19) scale(1.0 1)" font-size="6.4" font-style="italic" stroke="#231f20" stroke-width="0.15">Sell</text>
<text transform="translate(108.8 586.60) scale(1.0 1)" font-size="6.4" font-style="italic" stroke="#231f20" stroke-width="0.15">Cxcr5</text>
<text transform="translate(108.8 592.01) scale(1.0 1)" font-size="6.4" font-style="italic" stroke="#231f20" stroke-width="0.15">Ccr10</text>
<text transform="translate(108.8 597.42) scale(1.0 1)" font-size="6.4" font-style="italic" stroke="#231f20" stroke-width="0.15">Tnfrsf17</text>
<text transform="translate(108.8 602.83) scale(1.0 1)" font-size="6.4" font-style="italic" stroke="#231f20" stroke-width="0.15">Tnfrsf13b</text>
<text transform="translate(108.8 608.24) scale(1.0 1)" font-size="6.4" font-style="italic" stroke="#231f20" stroke-width="0.15">Cd11b</text>
<text transform="translate(108.8 613.65) scale(1.0 1)" font-size="6.4" font-style="italic" stroke="#231f20" stroke-width="0.15">Cd81</text>
<text transform="translate(108.8 619.06) scale(1.0 1)" font-size="6.4" font-style="italic" stroke="#231f20" stroke-width="0.15">Itga5</text>
<text transform="translate(108.8 624.47) scale(1.0 1)" font-size="6.4" font-style="italic" stroke="#231f20" stroke-width="0.15">Cmyc</text>
<text transform="translate(108.8 629.88) scale(1.0 1)" font-size="6.4" font-style="italic" stroke="#231f20" stroke-width="0.15">Itgb7</text>
<text transform="translate(108.8 635.29) scale(1.0 1)" font-size="6.4" font-style="italic" stroke="#231f20" stroke-width="0.15">Slc1a5</text>
<text transform="translate(108.8 640.70) scale(1.0 1)" font-size="6.4" font-style="italic" stroke="#231f20" stroke-width="0.15">Slc2a1</text>
<text transform="translate(108.8 646.11) scale(1.0 1)" font-size="6.4" font-style="italic" stroke="#231f20" stroke-width="0.15">Idhb</text>
<text transform="translate(108.8 651.52) scale(1.0 1)" font-size="6.4" font-style="italic" stroke="#231f20" stroke-width="0.15">Hk1</text>
<text transform="translate(108.8 656.93) scale(1.0 1)" font-size="6.4" font-style="italic" stroke="#231f20" stroke-width="0.15">Hif1</text>
<text transform="translate(108.8 662.34) scale(1.0 1)" font-size="6.4" font-style="italic" stroke="#231f20" stroke-width="0.15">Mki67</text>
<text transform="translate(108.8 667.75) scale(1.0 1)" font-size="6.4" font-style="italic" stroke="#231f20" stroke-width="0.15">Ccne1</text>
<text transform="translate(108.8 673.16) scale(1.0 1)" font-size="6.4" font-style="italic" stroke="#231f20" stroke-width="0.15">Cxcl10</text>
<text transform="translate(108.8 678.57) scale(1.0 1)" font-size="6.4" font-style="italic" stroke="#231f20" stroke-width="0.15">Glg1</text>
<text transform="translate(108.8 683.98) scale(1.0 1)" font-size="6.4" font-style="italic" stroke="#231f20" stroke-width="0.15">Ackr4</text>
<text transform="translate(108.8 689.39) scale(1.0 1)" font-size="6.4" font-style="italic" stroke="#231f20" stroke-width="0.15">Gja1</text>
<text transform="translate(108.8 694.80) scale(1.0 1)" font-size="6.4" font-style="italic" stroke="#231f20" stroke-width="0.15">Tlr4</text>
<text transform="translate(108.8 700.21) scale(1.0 1)" font-size="6.4" font-style="italic" stroke="#231f20" stroke-width="0.15">Cxcr4</text>
<text transform="translate(108.8 705.62) scale(1.0 1)" font-size="6.4" font-style="italic" stroke="#231f20" stroke-width="0.15">Xbp1</text>
<text transform="translate(108.8 711.03) scale(1.0 1)" font-size="6.4" font-style="italic" stroke="#231f20" stroke-width="0.15">F11r</text>
<text transform="translate(108.8 716.44) scale(1.0 1)" font-size="6.4" font-style="italic" stroke="#231f20" stroke-width="0.15">Cxcl9</text>
<text transform="translate(108.8 721.85) scale(1.0 1)" font-size="6.4" font-style="italic" stroke="#231f20" stroke-width="0.15">Itgal</text>
<text transform="translate(108.8 727.26) scale(1.0 1)" font-size="6.4" font-style="italic" stroke="#231f20" stroke-width="0.15">Dgat1</text>
<text transform="translate(108.8 732.67) scale(1.0 1)" font-size="6.4" font-style="italic" stroke="#231f20" stroke-width="0.15">Icam1</text>
<text transform="translate(108.8 738.08) scale(1.0 1)" font-size="6.4" font-style="italic" stroke="#231f20" stroke-width="0.15">Ccnd2</text>
<text transform="translate(108.8 743.49) scale(1.0 1)" font-size="6.4" font-style="italic" stroke="#231f20" stroke-width="0.15">Itga4</text>
<text transform="translate(108.8 748.90) scale(1.0 1)" font-size="6.4" font-style="italic" stroke="#231f20" stroke-width="0.15">Cxcr3</text>
<text transform="translate(108.8 754.31) scale(1.0 1)" font-size="6.4" font-style="italic" stroke="#231f20" stroke-width="0.15">Cd44</text>
<text transform="translate(108.8 759.72) scale(1.0 1)" font-size="6.4" font-style="italic" stroke="#231f20" stroke-width="0.15">Tnfsf13b</text>
<text transform="translate(108.8 765.13) scale(1.0 1)" font-size="6.4" font-style="italic" stroke="#231f20" stroke-width="0.15">Itgb1</text>
<text transform="translate(108.8 770.54) scale(1.0 1)" font-size="6.4" font-style="italic" stroke="#231f20" stroke-width="0.15">Cxcl12</text>
<text transform="translate(108.8 775.95) scale(1.0 1)" font-size="6.4" font-style="italic" stroke="#231f20" stroke-width="0.15">Hk2</text>
<text transform="translate(108.8 781.37) scale(1.0 1)" font-size="6.4" font-style="italic" stroke="#231f20" stroke-width="0.15">Irf4</text>
<text transform="translate(108.8 786.77) scale(1.0 1)" font-size="6.4" font-style="italic" stroke="#231f20" stroke-width="0.15">Tnfrsf13c</text>
<text transform="translate(108.8 792.18) scale(1.0 1)" font-size="6.4" font-style="italic" stroke="#231f20" stroke-width="0.15">prdm1</text>
<text transform="translate(108.8 797.59) scale(1.0 1)" font-size="6.4" font-style="italic" stroke="#231f20" stroke-width="0.15">slc3a2</text>
<defs><linearGradient id="cbg1" x1="0" y1="0" x2="1" y2="0"><stop offset="0.000" stop-color="#1c2a82"/><stop offset="0.250" stop-color="#8088c8"/><stop offset="0.500" stop-color="#fbfbfb"/><stop offset="0.750" stop-color="#e07a82"/><stop offset="1.000" stop-color="#bf0f1f"/></linearGradient></defs>
<rect x="26.20" y="804.00" width="34.80" height="7.60" fill="url(#cbg1)"/>
<line x1="26.50" y1="811.60" x2="26.50" y2="813.00" stroke="#555" stroke-width="0.5"/>
<line x1="35.00" y1="811.60" x2="35.00" y2="813.00" stroke="#555" stroke-width="0.5"/>
<line x1="43.50" y1="811.60" x2="43.50" y2="813.00" stroke="#555" stroke-width="0.5"/>
<line x1="52.00" y1="811.60" x2="52.00" y2="813.00" stroke="#555" stroke-width="0.5"/>
<line x1="60.50" y1="811.60" x2="60.50" y2="813.00" stroke="#555" stroke-width="0.5"/>
<text x="27.80" y="822.00" font-size="8.4" stroke="#231f20" stroke-width="0.08" text-anchor="middle">-2</text>
<text x="43.40" y="822.00" font-size="8.4" stroke="#231f20" stroke-width="0.08" text-anchor="middle">0</text>
<text x="59.40" y="822.00" font-size="8.4" stroke="#231f20" stroke-width="0.08" text-anchor="middle">2</text>
<rect x="172.70" y="475.00" width="13.30" height="8.86" fill="#c2c6e5"/>
<rect x="185.70" y="475.00" width="13.30" height="8.86" fill="#c2c6e5"/>
<rect x="198.70" y="475.00" width="13.30" height="8.86" fill="#c2c6e5"/>
<rect x="211.70" y="475.00" width="13.30" height="8.86" fill="#aeb4dd"/>
<rect x="224.70" y="475.00" width="13.30" height="8.86" fill="#cf321f"/>
<rect x="237.70" y="475.00" width="13.30" height="8.86" fill="#df7d76"/>
<rect x="250.70" y="475.00" width="13.30" height="8.86" fill="#ececf4"/>
<rect x="263.70" y="475.00" width="13.30" height="8.86" fill="#cdd0e9"/>
<rect x="172.70" y="483.56" width="13.30" height="8.86" fill="#5a66b6"/>
<rect x="185.70" y="483.56" width="13.30" height="8.86" fill="#7a84c7"/>
<rect x="198.70" y="483.56" width="13.30" height="8.86" fill="#e1e3f0"/>
<rect x="211.70" y="483.56" width="13.30" height="8.86" fill="#d7daed"/>
<rect x="224.70" y="483.56" width="13.30" height="8.86" fill="#df7d76"/>
<rect x="237.70" y="483.56" width="13.30" height="8.86" fill="#d54e40"/>
<rect x="250.70" y="483.56" width="13.30" height="8.86" fill="#f0d7d8"/>
<rect x="263.70" y="483.56" width="13.30" height="8.86" fill="#eecdcd"/>
<rect x="172.70" y="492.12" width="13.30" height="8.86" fill="#cdd0e9"/>
<rect x="185.70" y="492.12" width="13.30" height="8.86" fill="#eecdcd"/>
<rect x="198.70" y="492.12" width="13.30" height="8.86" fill="#25369a"/>
<rect x="211.70" y="492.12" width="13.30" height="8.86" fill="#cdd0e9"/>
<rect x="224.70" y="492.12" width="13.30" height="8.86" fill="#d7584b"/>
<rect x="237.70" y="492.12" width="13.30" height="8.86" fill="#f6f6f8"/>
<rect x="250.70" y="492.12" width="13.30" height="8.86" fill="#e9afac"/>
<rect x="263.70" y="492.12" width="13.30" height="8.86" fill="#ecc3c2"/>
<rect x="172.70" y="500.68" width="13.30" height="8.86" fill="#d7daed"/>
<rect x="185.70" y="500.68" width="13.30" height="8.86" fill="#f4eced"/>
<rect x="198.70" y="500.68" width="13.30" height="8.86" fill="#25369a"/>
<rect x="211.70" y="500.68" width="13.30" height="8.86" fill="#d7daed"/>
<rect x="224.70" y="500.68" width="13.30" height="8.86" fill="#d96156"/>
<rect x="237.70" y="500.68" width="13.30" height="8.86" fill="#cdd0e9"/>
<rect x="250.70" y="500.68" width="13.30" height="8.86" fill="#f4eced"/>
<rect x="263.70" y="500.68" width="13.30" height="8.86" fill="#db6a60"/>
<rect x="172.70" y="509.24" width="13.30" height="8.86" fill="#f6f6f8"/>
<rect x="185.70" y="509.24" width="13.30" height="8.86" fill="#d7daed"/>
<rect x="198.70" y="509.24" width="13.30" height="8.86" fill="#6570bc"/>
<rect x="211.70" y="509.24" width="13.30" height="8.86" fill="#a4aada"/>
<rect x="224.70" y="509.24" width="13.30" height="8.86" fill="#f4eced"/>
<rect x="237.70" y="509.24" width="13.30" height="8.86" fill="#cdd0e9"/>
<rect x="250.70" y="509.24" width="13.30" height="8.86" fill="#df7d76"/>
<rect x="263.70" y="509.24" width="13.30" height="8.86" fill="#cf321f"/>
<rect x="172.70" y="517.80" width="13.30" height="8.86" fill="#b8bde1"/>
<rect x="185.70" y="517.80" width="13.30" height="8.86" fill="#e1e3f0"/>
<rect x="198.70" y="517.80" width="13.30" height="8.86" fill="#5a66b6"/>
<rect x="211.70" y="517.80" width="13.30" height="8.86" fill="#f6f6f8"/>
<rect x="224.70" y="517.80" width="13.30" height="8.86" fill="#f0d7d8"/>
<rect x="237.70" y="517.80" width="13.30" height="8.86" fill="#b8bde1"/>
<rect x="250.70" y="517.80" width="13.30" height="8.86" fill="#df7d76"/>
<rect x="263.70" y="517.80" width="13.30" height="8.86" fill="#cf321f"/>
<rect x="172.70" y="526.36" width="13.30" height="8.86" fill="#e3908c"/>
<rect x="185.70" y="526.36" width="13.30" height="8.86" fill="#cf321f"/>
<rect x="198.70" y="526.36" width="13.30" height="8.86" fill="#cdd0e9"/>
<rect x="211.70" y="526.36" width="13.30" height="8.86" fill="#f6f6f8"/>
<rect x="224.70" y="526.36" width="13.30" height="8.86" fill="#b8bde1"/>
<rect x="237.70" y="526.36" width="13.30" height="8.86" fill="#b8bde1"/>
<rect x="250.70" y="526.36" width="13.30" height="8.86" fill="#f6f6f8"/>
<rect x="263.70" y="526.36" width="13.30" height="8.86" fill="#cdd0e9"/>
<rect x="172.70" y="534.92" width="13.30" height="8.86" fill="#f0d7d8"/>
<rect x="185.70" y="534.92" width="13.30" height="8.86" fill="#ebb9b7"/>
<rect x="198.70" y="534.92" width="13.30" height="8.86" fill="#dd746b"/>
<rect x="211.70" y="534.92" width="13.30" height="8.86" fill="#d96156"/>
<rect x="224.70" y="534.92" width="13.30" height="8.86" fill="#d7daed"/>
<rect x="237.70" y="534.92" width="13.30" height="8.86" fill="#a4aada"/>
<rect x="250.70" y="534.92" width="13.30" height="8.86" fill="#7a84c7"/>
<rect x="263.70" y="534.92" width="13.30" height="8.86" fill="#aeb4dd"/>
<rect x="172.70" y="543.48" width="13.30" height="8.86" fill="#eecdcd"/>
<rect x="185.70" y="543.48" width="13.30" height="8.86" fill="#ecc3c2"/>
<rect x="198.70" y="543.48" width="13.30" height="8.86" fill="#c2c6e5"/>
<rect x="211.70" y="543.48" width="13.30" height="8.86" fill="#cf321f"/>
<rect x="224.70" y="543.48" width="13.30" height="8.86" fill="#e1e3f0"/>
<rect x="237.70" y="543.48" width="13.30" height="8.86" fill="#a4aada"/>
<rect x="250.70" y="543.48" width="13.30" height="8.86" fill="#b8bde1"/>
<rect x="263.70" y="543.48" width="13.30" height="8.86" fill="#a4aada"/>
<rect x="172.70" y="552.04" width="13.30" height="8.86" fill="#c2c6e5"/>
<rect x="185.70" y="552.04" width="13.30" height="8.86" fill="#aeb4dd"/>
<rect x="198.70" y="552.04" width="13.30" height="8.86" fill="#ececf4"/>
<rect x="211.70" y="552.04" width="13.30" height="8.86" fill="#cf321f"/>
<rect x="224.70" y="552.04" width="13.30" height="8.86" fill="#f6f6f8"/>
<rect x="237.70" y="552.04" width="13.30" height="8.86" fill="#b8bde1"/>
<rect x="250.70" y="552.04" width="13.30" height="8.86" fill="#eecdcd"/>
<rect x="263.70" y="552.04" width="13.30" height="8.86" fill="#b8bde1"/>
<rect x="172.70" y="560.60" width="13.30" height="8.86" fill="#cdd0e9"/>
<rect x="185.70" y="560.60" width="13.30" height="8.86" fill="#cdd0e9"/>
<rect x="198.70" y="560.60" width="13.30" height="8.86" fill="#ebb9b7"/>
<rect x="211.70" y="560.60" width="13.30" height="8.86" fill="#cf321f"/>
<rect x="224.70" y="560.60" width="13.30" height="8.86" fill="#d7daed"/>
<rect x="237.70" y="560.60" width="13.30" height="8.86" fill="#cdd0e9"/>
<rect x="250.70" y="560.60" width="13.30" height="8.86" fill="#c2c6e5"/>
<rect x="263.70" y="560.60" width="13.30" height="8.86" fill="#c2c6e5"/>
<rect x="172.70" y="466.00" width="26.00" height="8.20" fill="#5e1f70"/>
<rect x="198.70" y="466.00" width="26.00" height="8.20" fill="#cf321f"/>
<rect x="224.70" y="466.00" width="26.00" height="8.20" fill="#e4842b"/>
<rect x="250.70" y="466.00" width="26.00" height="8.20" fill="#5aa9dd"/>
<rect x="172.70" y="466.00" width="104.00" height="8.20" fill="none" stroke="#111" stroke-width="1.5"/>
<line x1="198.70" y1="466.00" x2="198.70" y2="474.20" stroke="#111" stroke-width="0.8"/>
<line x1="224.70" y1="466.00" x2="224.70" y2="474.20" stroke="#111" stroke-width="0.8"/>
<line x1="250.70" y1="466.00" x2="250.70" y2="474.20" stroke="#111" stroke-width="0.8"/>
<line x1="199.00" y1="446.70" x2="250.80" y2="446.70" stroke="#999" stroke-width="0.7"/>
<line x1="199.00" y1="446.70" x2="199.00" y2="459.40" stroke="#999" stroke-width="0.7"/>
<line x1="250.80" y1="446.70" x2="250.80" y2="453.50" stroke="#999" stroke-width="0.7"/>
<line x1="185.30" y1="459.40" x2="211.70" y2="459.40" stroke="#999" stroke-width="0.7"/>
<line x1="185.30" y1="459.40" x2="185.30" y2="463.00" stroke="#999" stroke-width="0.7"/>
<line x1="211.70" y1="459.40" x2="211.70" y2="463.00" stroke="#999" stroke-width="0.7"/>
<line x1="179.00" y1="463.00" x2="191.50" y2="463.00" stroke="#999" stroke-width="0.7"/>
<line x1="179.00" y1="463.00" x2="179.00" y2="465.00" stroke="#999" stroke-width="0.7"/>
<line x1="191.50" y1="463.00" x2="191.50" y2="465.00" stroke="#999" stroke-width="0.7"/>
<line x1="205.00" y1="463.00" x2="218.50" y2="463.00" stroke="#999" stroke-width="0.7"/>
<line x1="205.00" y1="463.00" x2="205.00" y2="465.00" stroke="#999" stroke-width="0.7"/>
<line x1="218.50" y1="463.00" x2="218.50" y2="465.00" stroke="#999" stroke-width="0.7"/>
<line x1="237.30" y1="453.50" x2="262.90" y2="453.50" stroke="#999" stroke-width="0.7"/>
<line x1="237.30" y1="453.50" x2="237.30" y2="463.00" stroke="#999" stroke-width="0.7"/>
<line x1="262.90" y1="453.50" x2="262.90" y2="462.50" stroke="#999" stroke-width="0.7"/>
<line x1="231.00" y1="463.00" x2="244.00" y2="463.00" stroke="#999" stroke-width="0.7"/>
<line x1="231.00" y1="463.00" x2="231.00" y2="465.00" stroke="#999" stroke-width="0.7"/>
<line x1="244.00" y1="463.00" x2="244.00" y2="465.00" stroke="#999" stroke-width="0.7"/>
<line x1="256.70" y1="462.50" x2="269.60" y2="462.50" stroke="#999" stroke-width="0.7"/>
<line x1="256.70" y1="462.50" x2="256.70" y2="465.00" stroke="#999" stroke-width="0.7"/>
<line x1="269.60" y1="462.50" x2="269.60" y2="465.00" stroke="#999" stroke-width="0.7"/>
<text x="281.00" y="482.58" font-size="9.4" stroke="#231f20" stroke-width="0.08" font-style="italic">Cxcr3</text>
<text x="281.00" y="491.14" font-size="9.4" stroke="#231f20" stroke-width="0.08" font-style="italic">Cxcr4</text>
<text x="281.00" y="499.70" font-size="9.4" stroke="#231f20" stroke-width="0.08" font-style="italic">Itgb1</text>
<text x="281.00" y="508.26" font-size="9.4" stroke="#231f20" stroke-width="0.08" font-style="italic">CD44</text>
<text x="281.00" y="516.82" font-size="9.4" stroke="#231f20" stroke-width="0.08" font-style="italic">Itga1</text>
<text x="281.00" y="525.38" font-size="9.4" stroke="#231f20" stroke-width="0.08" font-style="italic">Itga4</text>
<text x="281.00" y="533.94" font-size="9.4" stroke="#231f20" stroke-width="0.08" font-style="italic">Ccr10</text>
<text x="281.00" y="542.50" font-size="9.4" stroke="#231f20" stroke-width="0.08" font-style="italic">Sen</text>
<text x="281.00" y="551.06" font-size="9.4" stroke="#231f20" stroke-width="0.08" font-style="italic">KN2</text>
<text x="281.00" y="559.62" font-size="9.4" stroke="#231f20" stroke-width="0.08" font-style="italic">Cxcr5</text>
<text x="281.00" y="568.18" font-size="9.4" stroke="#231f20" stroke-width="0.08" font-style="italic">Ccr7</text>
<defs><linearGradient id="cbg2" x1="0" y1="0" x2="1" y2="0"><stop offset="0.000" stop-color="#1c2a82"/><stop offset="0.250" stop-color="#8088c8"/><stop offset="0.500" stop-color="#fbfbfb"/><stop offset="0.750" stop-color="#e07a82"/><stop offset="1.000" stop-color="#bf0f1f"/></linearGradient></defs>
<rect x="175.60" y="577.50" width="35.60" height="8.00" fill="url(#cbg2)"/>
<line x1="176.00" y1="585.50" x2="176.00" y2="587.00" stroke="#555" stroke-width="0.5"/>
<line x1="184.70" y1="585.50" x2="184.70" y2="587.00" stroke="#555" stroke-width="0.5"/>
<line x1="193.40" y1="585.50" x2="193.40" y2="587.00" stroke="#555" stroke-width="0.5"/>
<line x1="202.10" y1="585.50" x2="202.10" y2="587.00" stroke="#555" stroke-width="0.5"/>
<line x1="210.80" y1="585.50" x2="210.80" y2="587.00" stroke="#555" stroke-width="0.5"/>
<text x="177.00" y="598.30" font-size="8.8" stroke="#231f20" stroke-width="0.08" text-anchor="middle">-2</text>
<text x="193.80" y="598.30" font-size="8.8" stroke="#231f20" stroke-width="0.08" text-anchor="middle">0</text>
<text x="211.10" y="598.30" font-size="8.8" stroke="#231f20" stroke-width="0.08" text-anchor="middle">2</text>
<rect x="178.30" y="608.10" width="6.60" height="6.60" fill="#a8122f" stroke="#222" stroke-width="0.6"/>
<text x="189.40" y="614.60" font-size="8.8" stroke="#231f20" stroke-width="0.08">BM PB WT</text>
<rect x="178.30" y="621.30" width="6.60" height="6.60" fill="#e8921e" stroke="#222" stroke-width="0.6"/>
<text x="189.40" y="627.80" font-size="8.8" stroke="#231f20" stroke-width="0.08">BM PB +/1013</text>
<rect x="178.30" y="634.70" width="6.60" height="6.60" fill="#5a1e6c" stroke="#222" stroke-width="0.6"/>
<text x="189.40" y="641.20" font-size="8.8" stroke="#231f20" stroke-width="0.08">BM PC WT</text>
<rect x="178.30" y="647.60" width="6.60" height="6.60" fill="#5cadea" stroke="#222" stroke-width="0.6"/>
<text x="189.40" y="654.10" font-size="8.8" stroke="#231f20" stroke-width="0.08">BM PC +/1013</text>
<rect x="360.00" y="465.70" width="126.40" height="104.10" fill="none" stroke="#111" stroke-width="1.1"/>
<line x1="412.60" y1="465.70" x2="412.60" y2="569.80" stroke="#bbb" stroke-width="0.8"/>
<line x1="360.00" y1="522.30" x2="486.40" y2="522.30" stroke="#bbb" stroke-width="0.8"/>
<line x1="357.00" y1="469.30" x2="360.00" y2="469.30" stroke="#231f20" stroke-width="0.9"/>
<text x="354.50" y="472.50" font-size="8.8" stroke="#231f20" stroke-width="0.08" text-anchor="end">2</text>
<line x1="357.00" y1="496.00" x2="360.00" y2="496.00" stroke="#231f20" stroke-width="0.9"/>
<text x="354.50" y="499.20" font-size="8.8" stroke="#231f20" stroke-width="0.08" text-anchor="end">1</text>
<line x1="357.00" y1="522.30" x2="360.00" y2="522.30" stroke="#231f20" stroke-width="0.9"/>
<text x="354.50" y="525.50" font-size="8.8" stroke="#231f20" stroke-width="0.08" text-anchor="end">0</text>
<line x1="357.00" y1="548.60" x2="360.00" y2="548.60" stroke="#231f20" stroke-width="0.9"/>
<text x="354.50" y="551.80" font-size="8.8" stroke="#231f20" stroke-width="0.08" text-anchor="end">-1</text>
<line x1="381.20" y1="569.80" x2="381.20" y2="572.80" stroke="#231f20" stroke-width="0.9"/>
<text x="381.20" y="584.40" font-size="8.8" stroke="#231f20" stroke-width="0.08" text-anchor="middle">-2</text>
<line x1="412.60" y1="569.80" x2="412.60" y2="572.80" stroke="#231f20" stroke-width="0.9"/>
<text x="412.60" y="584.40" font-size="8.8" stroke="#231f20" stroke-width="0.08" text-anchor="middle">0</text>
<line x1="444.40" y1="569.80" x2="444.40" y2="572.80" stroke="#231f20" stroke-width="0.9"/>
<text x="444.40" y="584.40" font-size="8.8" stroke="#231f20" stroke-width="0.08" text-anchor="middle">2</text>
<line x1="476.10" y1="569.80" x2="476.10" y2="572.80" stroke="#231f20" stroke-width="0.9"/>
<text x="476.10" y="584.40" font-size="8.8" stroke="#231f20" stroke-width="0.08" text-anchor="middle">4</text>
<text x="404.90" y="600.50" font-size="10.0" stroke="#231f20" stroke-width="0.08" textLength="36.50" lengthAdjust="spacingAndGlyphs">PC1 55%</text>
<text x="338.30" y="541.90" font-size="10.4" stroke="#231f20" stroke-width="0.08" textLength="48.50" lengthAdjust="spacingAndGlyphs" transform="rotate(-90 338.30 541.90)">PC2 18.65%</text>
<ellipse cx="417.70" cy="470.00" rx="3.30" ry="3.30" fill="#5a1e6c"/>
<ellipse cx="428.60" cy="473.00" rx="3.30" ry="3.30" fill="#5a1e6c"/>
<ellipse cx="446.90" cy="514.30" rx="3.30" ry="3.30" fill="#a8122f"/>
<ellipse cx="481.60" cy="565.40" rx="3.30" ry="3.30" fill="#a8122f"/>
<ellipse cx="390.30" cy="521.60" rx="3.30" ry="3.30" fill="#6fb3e6"/>
<ellipse cx="369.50" cy="528.50" rx="3.30" ry="3.30" fill="#6fb3e6"/>
<ellipse cx="364.70" cy="547.50" rx="3.30" ry="3.30" fill="#e08c1e"/>
<ellipse cx="402.00" cy="564.70" rx="3.30" ry="3.30" fill="#e08c1e"/>
<circle cx="364.70" cy="611.80" r="4.60" fill="#a8122f"/>
<text x="373.10" y="615.00" font-size="8.8" stroke="#231f20" stroke-width="0.08">BM PB WT</text>
<circle cx="364.70" cy="625.30" r="4.60" fill="#5a1e6c"/>
<text x="373.10" y="628.50" font-size="8.8" stroke="#231f20" stroke-width="0.08">BM PC WT</text>
<circle cx="364.70" cy="638.50" r="4.60" fill="#e08c1e"/>
<text x="373.10" y="641.70" font-size="8.8" stroke="#231f20" stroke-width="0.08">BM PB +/1013</text>
<circle cx="364.70" cy="651.30" r="4.60" fill="#6fb3e6"/>
<text x="373.10" y="654.50" font-size="8.8" stroke="#231f20" stroke-width="0.08">BM PC +/1013</text>
<text x="175.60" y="694.10" font-size="8.9" stroke="#231f20" stroke-width="0.08" textLength="81.30" lengthAdjust="spacingAndGlyphs">BM, day 6 post LPS</text>
<path d="M175.70,723.10 C179.88,723.02 196.07,722.90 200.80,722.60 C205.53,722.30 203.20,722.20 204.10,721.30 C205.00,720.40 205.48,718.50 206.20,717.20 C206.92,715.90 207.65,714.57 208.40,713.50 C209.15,712.43 209.98,710.90 210.70,710.80 C211.42,710.70 212.02,711.92 212.70,712.90 C213.38,713.88 214.08,715.35 214.80,716.70 C215.52,718.05 216.28,719.97 217.00,721.00 C217.72,722.03 216.82,722.55 219.10,722.90 C221.38,723.25 228.77,723.07 230.70,723.10 L230.70,723.10 L175.70,723.10 Z" fill="#8fc4e6" fill-opacity="1.0" stroke="none"/>
<path d="M175.70,723.10 C179.88,723.02 196.07,722.90 200.80,722.60 C205.53,722.30 203.20,722.20 204.10,721.30 C205.00,720.40 205.48,718.50 206.20,717.20 C206.92,715.90 207.65,714.57 208.40,713.50 C209.15,712.43 209.98,710.90 210.70,710.80 C211.42,710.70 212.02,711.92 212.70,712.90 C213.38,713.88 214.08,715.35 214.80,716.70 C215.52,718.05 216.28,719.97 217.00,721.00 C217.72,722.03 216.82,722.55 219.10,722.90 C221.38,723.25 228.77,723.07 230.70,723.10" fill="none" stroke="#3f95cc" stroke-width="0.9"/>
<path d="M175.70,733.90 C179.35,733.83 193.58,733.80 197.60,733.50 C201.62,733.20 199.00,732.93 199.80,732.10 C200.60,731.27 201.52,729.90 202.40,728.50 C203.28,727.10 204.28,725.22 205.10,723.70 C205.92,722.18 206.62,720.52 207.30,719.40 C207.98,718.28 208.67,716.67 209.20,717.00 C209.73,717.33 209.92,720.10 210.50,721.40 C211.08,722.70 211.80,723.52 212.70,724.80 C213.60,726.08 214.92,727.72 215.90,729.10 C216.88,730.48 217.70,732.30 218.60,733.10 C219.50,733.90 219.28,733.77 221.30,733.90 C223.32,734.03 229.13,733.90 230.70,733.90 L230.70,733.90 L175.70,733.90 Z" fill="#d2a3d8" fill-opacity="1.0" stroke="none"/>
<path d="M175.70,733.90 C179.35,733.83 193.58,733.80 197.60,733.50 C201.62,733.20 199.00,732.93 199.80,732.10 C200.60,731.27 201.52,729.90 202.40,728.50 C203.28,727.10 204.28,725.22 205.10,723.70 C205.92,722.18 206.62,720.52 207.30,719.40 C207.98,718.28 208.67,716.67 209.20,717.00 C209.73,717.33 209.92,720.10 210.50,721.40 C211.08,722.70 211.80,723.52 212.70,724.80 C213.60,726.08 214.92,727.72 215.90,729.10 C216.88,730.48 217.70,732.30 218.60,733.10 C219.50,733.90 219.28,733.77 221.30,733.90 C223.32,734.03 229.13,733.90 230.70,733.90" fill="none" stroke="#9a3aae" stroke-width="0.9"/>
<path d="M175.70,744.50 C178.27,744.42 187.98,744.22 191.10,744.00 C194.22,743.78 193.32,743.45 194.40,743.20 C195.48,742.95 196.70,742.92 197.60,742.50 C198.50,742.08 198.90,741.15 199.80,740.70 C200.70,740.25 202.02,740.40 203.00,739.80 C203.98,739.20 204.98,737.47 205.70,737.10 C206.42,736.73 206.77,737.78 207.30,737.60 C207.83,737.42 208.45,736.88 208.90,736.00 C209.35,735.12 209.63,732.03 210.00,732.30 C210.37,732.57 210.65,736.08 211.10,737.60 C211.55,739.12 211.98,740.50 212.70,741.40 C213.42,742.30 214.50,742.63 215.40,743.00 C216.30,743.37 216.93,743.40 218.10,743.60 C219.27,743.80 220.30,744.05 222.40,744.20 C224.50,744.35 229.32,744.45 230.70,744.50 L230.70,744.50 L175.70,744.50 Z" fill="#f6cf9c" fill-opacity="1.0" stroke="none"/>
<path d="M175.70,744.50 C178.27,744.42 187.98,744.22 191.10,744.00 C194.22,743.78 193.32,743.45 194.40,743.20 C195.48,742.95 196.70,742.92 197.60,742.50 C198.50,742.08 198.90,741.15 199.80,740.70 C200.70,740.25 202.02,740.40 203.00,739.80 C203.98,739.20 204.98,737.47 205.70,737.10 C206.42,736.73 206.77,737.78 207.30,737.60 C207.83,737.42 208.45,736.88 208.90,736.00 C209.35,735.12 209.63,732.03 210.00,732.30 C210.37,732.57 210.65,736.08 211.10,737.60 C211.55,739.12 211.98,740.50 212.70,741.40 C213.42,742.30 214.50,742.63 215.40,743.00 C216.30,743.37 216.93,743.40 218.10,743.60 C219.27,743.80 220.30,744.05 222.40,744.20 C224.50,744.35 229.32,744.45 230.70,744.50" fill="none" stroke="#e6a04c" stroke-width="0.9"/>
<path d="M175.70,755.20 C178.82,755.12 190.93,755.12 194.40,754.70 C197.87,754.28 195.78,753.38 196.50,752.70 C197.22,752.02 197.80,751.03 198.70,750.60 C199.60,750.17 200.83,750.63 201.90,750.10 C202.97,749.57 204.20,748.22 205.10,747.40 C206.00,746.58 206.72,745.83 207.30,745.20 C207.88,744.57 208.15,743.23 208.60,743.60 C209.05,743.97 209.50,746.32 210.00,747.40 C210.50,748.48 210.97,749.22 211.60,750.10 C212.23,750.98 212.90,751.98 213.80,752.70 C214.70,753.42 215.93,754.02 217.00,754.40 C218.07,754.78 217.92,754.87 220.20,755.00 C222.48,755.13 228.95,755.17 230.70,755.20 L230.70,755.20 L175.70,755.20 Z" fill="#e7a1a1" fill-opacity="1.0" stroke="none"/>
<path d="M175.70,755.20 C178.82,755.12 190.93,755.12 194.40,754.70 C197.87,754.28 195.78,753.38 196.50,752.70 C197.22,752.02 197.80,751.03 198.70,750.60 C199.60,750.17 200.83,750.63 201.90,750.10 C202.97,749.57 204.20,748.22 205.10,747.40 C206.00,746.58 206.72,745.83 207.30,745.20 C207.88,744.57 208.15,743.23 208.60,743.60 C209.05,743.97 209.50,746.32 210.00,747.40 C210.50,748.48 210.97,749.22 211.60,750.10 C212.23,750.98 212.90,751.98 213.80,752.70 C214.70,753.42 215.93,754.02 217.00,754.40 C218.07,754.78 217.92,754.87 220.20,755.00 C222.48,755.13 228.95,755.17 230.70,755.20" fill="none" stroke="#d0403f" stroke-width="0.9"/>
<path d="M175.70,765.40 C176.67,765.37 180.18,765.70 181.50,765.20 C182.82,764.70 182.88,763.22 183.60,762.40 C184.32,761.58 184.98,761.10 185.80,760.30 C186.62,759.50 187.62,758.15 188.50,757.60 C189.38,757.05 190.30,756.83 191.10,757.00 C191.90,757.17 192.67,757.70 193.30,758.60 C193.93,759.50 194.37,761.28 194.90,762.40 C195.43,763.52 190.53,764.80 196.50,765.30 C202.47,765.80 225.00,765.38 230.70,765.40 L230.70,765.40 L175.70,765.40 Z" fill="#b0b0b0" fill-opacity="1.0" stroke="none"/>
<path d="M175.70,765.40 C176.67,765.37 180.18,765.70 181.50,765.20 C182.82,764.70 182.88,763.22 183.60,762.40 C184.32,761.58 184.98,761.10 185.80,760.30 C186.62,759.50 187.62,758.15 188.50,757.60 C189.38,757.05 190.30,756.83 191.10,757.00 C191.90,757.17 192.67,757.70 193.30,758.60 C193.93,759.50 194.37,761.28 194.90,762.40 C195.43,763.52 190.53,764.80 196.50,765.30 C202.47,765.80 225.00,765.38 230.70,765.40" fill="none" stroke="#777" stroke-width="0.6" stroke-dasharray="1,0.8"/>
<rect x="175.70" y="700.40" width="55.00" height="64.80" fill="none" stroke="#d0d0d0" stroke-width="0.8"/>
<line x1="195.10" y1="700.80" x2="195.10" y2="765.00" stroke="#333" stroke-width="1.35" stroke-dasharray="3.6,2"/>
<line x1="177.70" y1="764.40" x2="177.70" y2="765.20" stroke="#999" stroke-width="0.5"/>
<line x1="182.34" y1="764.40" x2="182.34" y2="765.20" stroke="#999" stroke-width="0.5"/>
<line x1="186.97" y1="764.40" x2="186.97" y2="765.20" stroke="#999" stroke-width="0.5"/>
<line x1="191.61" y1="764.40" x2="191.61" y2="765.20" stroke="#999" stroke-width="0.5"/>
<line x1="196.25" y1="764.40" x2="196.25" y2="765.20" stroke="#999" stroke-width="0.5"/>
<line x1="200.88" y1="764.40" x2="200.88" y2="765.20" stroke="#999" stroke-width="0.5"/>
<line x1="205.52" y1="764.40" x2="205.52" y2="765.20" stroke="#999" stroke-width="0.5"/>
<line x1="210.15" y1="764.40" x2="210.15" y2="765.20" stroke="#999" stroke-width="0.5"/>
<line x1="214.79" y1="764.40" x2="214.79" y2="765.20" stroke="#999" stroke-width="0.5"/>
<line x1="219.43" y1="764.40" x2="219.43" y2="765.20" stroke="#999" stroke-width="0.5"/>
<line x1="224.06" y1="764.40" x2="224.06" y2="765.20" stroke="#999" stroke-width="0.5"/>
<line x1="228.70" y1="764.40" x2="228.70" y2="765.20" stroke="#999" stroke-width="0.5"/>
<text x="185.70" y="776.00" font-size="9.0" stroke="#231f20" stroke-width="0.08" text-anchor="end" textLength="15.00" lengthAdjust="spacingAndGlyphs" transform="rotate(-45 185.70 776.00)">-10<tspan font-size="6.4799999999999995" dy="-3.89">3</tspan></text>
<text x="193.50" y="776.00" font-size="9.0" stroke="#231f20" stroke-width="0.08" text-anchor="end" transform="rotate(-45 193.50 776.00)">0</text>
<text x="203.30" y="776.00" font-size="9.0" stroke="#231f20" stroke-width="0.08" text-anchor="end" textLength="12.60" lengthAdjust="spacingAndGlyphs" transform="rotate(-45 203.30 776.00)">10<tspan font-size="6.4799999999999995" dy="-3.89">3</tspan></text>
<text x="218.10" y="776.00" font-size="9.0" stroke="#231f20" stroke-width="0.08" text-anchor="end" textLength="12.60" lengthAdjust="spacingAndGlyphs" transform="rotate(-45 218.10 776.00)">10<tspan font-size="6.4799999999999995" dy="-3.89">4</tspan></text>
<text x="231.10" y="776.00" font-size="9.0" stroke="#231f20" stroke-width="0.08" text-anchor="end" textLength="12.60" lengthAdjust="spacingAndGlyphs" transform="rotate(-45 231.10 776.00)">10<tspan font-size="6.4799999999999995" dy="-3.89">5</tspan></text>
<path d="M233.40,723.10 C236.98,723.07 250.85,723.37 254.90,722.90 C258.95,722.43 256.78,721.38 257.70,720.30 C258.62,719.22 259.58,717.68 260.40,716.40 C261.22,715.12 261.92,713.60 262.60,712.60 C263.28,711.60 263.87,710.32 264.50,710.40 C265.13,710.48 265.72,711.92 266.40,713.10 C267.08,714.28 267.77,716.22 268.60,717.50 C269.43,718.78 270.57,720.17 271.40,720.80 C272.23,721.43 273.02,721.38 273.60,721.30 C274.18,721.22 274.45,720.20 274.90,720.30 C275.35,720.40 275.78,721.43 276.30,721.90 C276.82,722.37 275.82,722.90 278.00,723.10 C280.18,723.30 287.50,723.10 289.40,723.10 L289.40,723.10 L233.40,723.10 Z" fill="#8fc4e6" fill-opacity="1.0" stroke="none"/>
<path d="M233.40,723.10 C236.98,723.07 250.85,723.37 254.90,722.90 C258.95,722.43 256.78,721.38 257.70,720.30 C258.62,719.22 259.58,717.68 260.40,716.40 C261.22,715.12 261.92,713.60 262.60,712.60 C263.28,711.60 263.87,710.32 264.50,710.40 C265.13,710.48 265.72,711.92 266.40,713.10 C267.08,714.28 267.77,716.22 268.60,717.50 C269.43,718.78 270.57,720.17 271.40,720.80 C272.23,721.43 273.02,721.38 273.60,721.30 C274.18,721.22 274.45,720.20 274.90,720.30 C275.35,720.40 275.78,721.43 276.30,721.90 C276.82,722.37 275.82,722.90 278.00,723.10 C280.18,723.30 287.50,723.10 289.40,723.10" fill="none" stroke="#3f95cc" stroke-width="0.9"/>
<path d="M233.40,733.90 C235.35,733.88 242.43,734.07 245.10,733.80 C247.77,733.53 248.13,732.90 249.40,732.30 C250.67,731.70 251.60,730.92 252.70,730.20 C253.80,729.48 254.90,728.73 256.00,728.00 C257.10,727.27 258.38,726.90 259.30,725.80 C260.22,724.70 260.77,722.50 261.50,721.40 C262.23,720.30 263.07,719.02 263.70,719.20 C264.33,719.38 264.67,721.95 265.30,722.50 C265.93,723.05 266.85,721.87 267.50,722.50 C268.15,723.13 268.55,724.75 269.20,726.30 C269.85,727.85 270.48,730.58 271.40,731.80 C272.32,733.02 273.43,733.23 274.70,733.60 C275.97,733.97 276.55,733.95 279.00,734.00 C281.45,734.05 287.67,733.92 289.40,733.90 L289.40,733.90 L233.40,733.90 Z" fill="#d2a3d8" fill-opacity="1.0" stroke="none"/>
<path d="M233.40,733.90 C235.35,733.88 242.43,734.07 245.10,733.80 C247.77,733.53 248.13,732.90 249.40,732.30 C250.67,731.70 251.60,730.92 252.70,730.20 C253.80,729.48 254.90,728.73 256.00,728.00 C257.10,727.27 258.38,726.90 259.30,725.80 C260.22,724.70 260.77,722.50 261.50,721.40 C262.23,720.30 263.07,719.02 263.70,719.20 C264.33,719.38 264.67,721.95 265.30,722.50 C265.93,723.05 266.85,721.87 267.50,722.50 C268.15,723.13 268.55,724.75 269.20,726.30 C269.85,727.85 270.48,730.58 271.40,731.80 C272.32,733.02 273.43,733.23 274.70,733.60 C275.97,733.97 276.55,733.95 279.00,734.00 C281.45,734.05 287.67,733.92 289.40,733.90" fill="none" stroke="#9a3aae" stroke-width="0.9"/>
<path d="M233.40,744.50 C237.17,744.47 251.87,744.58 256.00,744.30 C260.13,744.02 257.28,743.23 258.20,742.80 C259.12,742.37 260.58,742.80 261.50,741.70 C262.42,740.60 262.97,737.67 263.70,736.20 C264.43,734.73 265.17,733.37 265.90,732.90 C266.63,732.43 267.37,732.77 268.10,733.40 C268.83,734.03 269.67,735.23 270.30,736.70 C270.93,738.17 271.17,741.02 271.90,742.20 C272.63,743.38 273.33,743.45 274.70,743.80 C276.07,744.15 277.65,744.18 280.10,744.30 C282.55,744.42 287.85,744.47 289.40,744.50 L289.40,744.50 L233.40,744.50 Z" fill="#f6cf9c" fill-opacity="1.0" stroke="none"/>
<path d="M233.40,744.50 C237.17,744.47 251.87,744.58 256.00,744.30 C260.13,744.02 257.28,743.23 258.20,742.80 C259.12,742.37 260.58,742.80 261.50,741.70 C262.42,740.60 262.97,737.67 263.70,736.20 C264.43,734.73 265.17,733.37 265.90,732.90 C266.63,732.43 267.37,732.77 268.10,733.40 C268.83,734.03 269.67,735.23 270.30,736.70 C270.93,738.17 271.17,741.02 271.90,742.20 C272.63,743.38 273.33,743.45 274.70,743.80 C276.07,744.15 277.65,744.18 280.10,744.30 C282.55,744.42 287.85,744.47 289.40,744.50" fill="none" stroke="#e6a04c" stroke-width="0.9"/>
<path d="M233.40,755.20 C234.25,755.15 237.10,755.23 238.50,754.90 C239.90,754.57 240.80,754.13 241.80,753.20 C242.80,752.27 243.58,750.77 244.50,749.30 C245.42,747.83 246.48,745.12 247.30,744.40 C248.12,743.68 248.68,745.00 249.40,745.00 C250.12,745.00 250.87,744.32 251.60,744.40 C252.33,744.48 253.15,745.50 253.80,745.50 C254.45,745.50 254.95,743.95 255.50,744.40 C256.05,744.85 256.28,747.20 257.10,748.20 C257.92,749.20 259.48,749.95 260.40,750.40 C261.32,750.85 261.78,751.27 262.60,750.90 C263.42,750.53 264.48,748.28 265.30,748.20 C266.12,748.12 266.67,749.48 267.50,750.40 C268.33,751.32 269.28,752.97 270.30,753.70 C271.32,754.43 272.32,754.67 273.60,754.80 C274.88,754.93 276.73,754.43 278.00,754.50 C279.27,754.57 279.30,755.08 281.20,755.20 C283.10,755.32 288.03,755.20 289.40,755.20 L289.40,755.20 L233.40,755.20 Z" fill="#e7a1a1" fill-opacity="1.0" stroke="none"/>
<path d="M233.40,755.20 C234.25,755.15 237.10,755.23 238.50,754.90 C239.90,754.57 240.80,754.13 241.80,753.20 C242.80,752.27 243.58,750.77 244.50,749.30 C245.42,747.83 246.48,745.12 247.30,744.40 C248.12,743.68 248.68,745.00 249.40,745.00 C250.12,745.00 250.87,744.32 251.60,744.40 C252.33,744.48 253.15,745.50 253.80,745.50 C254.45,745.50 254.95,743.95 255.50,744.40 C256.05,744.85 256.28,747.20 257.10,748.20 C257.92,749.20 259.48,749.95 260.40,750.40 C261.32,750.85 261.78,751.27 262.60,750.90 C263.42,750.53 264.48,748.28 265.30,748.20 C266.12,748.12 266.67,749.48 267.50,750.40 C268.33,751.32 269.28,752.97 270.30,753.70 C271.32,754.43 272.32,754.67 273.60,754.80 C274.88,754.93 276.73,754.43 278.00,754.50 C279.27,754.57 279.30,755.08 281.20,755.20 C283.10,755.32 288.03,755.20 289.40,755.20" fill="none" stroke="#d0403f" stroke-width="0.9"/>
<path d="M233.40,765.40 C234.25,765.37 237.10,765.50 238.50,765.20 C239.90,764.90 240.88,764.42 241.80,763.60 C242.72,762.78 243.32,761.48 244.00,760.30 C244.68,759.12 245.27,756.68 245.90,756.50 C246.53,756.32 247.22,758.12 247.80,759.20 C248.38,760.28 248.85,762.08 249.40,763.00 C249.95,763.92 250.55,764.30 251.10,764.70 C251.65,765.10 246.32,765.28 252.70,765.40 C259.08,765.52 283.28,765.40 289.40,765.40 L289.40,765.40 L233.40,765.40 Z" fill="#b0b0b0" fill-opacity="1.0" stroke="none"/>
<path d="M233.40,765.40 C234.25,765.37 237.10,765.50 238.50,765.20 C239.90,764.90 240.88,764.42 241.80,763.60 C242.72,762.78 243.32,761.48 244.00,760.30 C244.68,759.12 245.27,756.68 245.90,756.50 C246.53,756.32 247.22,758.12 247.80,759.20 C248.38,760.28 248.85,762.08 249.40,763.00 C249.95,763.92 250.55,764.30 251.10,764.70 C251.65,765.10 246.32,765.28 252.70,765.40 C259.08,765.52 283.28,765.40 289.40,765.40" fill="none" stroke="#777" stroke-width="0.6" stroke-dasharray="1,0.8"/>
<rect x="233.40" y="700.40" width="56.00" height="64.80" fill="none" stroke="#d0d0d0" stroke-width="0.8"/>
<line x1="249.30" y1="700.80" x2="249.30" y2="765.00" stroke="#333" stroke-width="1.35" stroke-dasharray="3.6,2"/>
<line x1="235.40" y1="764.40" x2="235.40" y2="765.20" stroke="#999" stroke-width="0.5"/>
<line x1="240.13" y1="764.40" x2="240.13" y2="765.20" stroke="#999" stroke-width="0.5"/>
<line x1="244.85" y1="764.40" x2="244.85" y2="765.20" stroke="#999" stroke-width="0.5"/>
<line x1="249.58" y1="764.40" x2="249.58" y2="765.20" stroke="#999" stroke-width="0.5"/>
<line x1="254.31" y1="764.40" x2="254.31" y2="765.20" stroke="#999" stroke-width="0.5"/>
<line x1="259.04" y1="764.40" x2="259.04" y2="765.20" stroke="#999" stroke-width="0.5"/>
<line x1="263.76" y1="764.40" x2="263.76" y2="765.20" stroke="#999" stroke-width="0.5"/>
<line x1="268.49" y1="764.40" x2="268.49" y2="765.20" stroke="#999" stroke-width="0.5"/>
<line x1="273.22" y1="764.40" x2="273.22" y2="765.20" stroke="#999" stroke-width="0.5"/>
<line x1="277.95" y1="764.40" x2="277.95" y2="765.20" stroke="#999" stroke-width="0.5"/>
<line x1="282.67" y1="764.40" x2="282.67" y2="765.20" stroke="#999" stroke-width="0.5"/>
<line x1="287.40" y1="764.40" x2="287.40" y2="765.20" stroke="#999" stroke-width="0.5"/>
<text x="243.40" y="776.00" font-size="9.0" stroke="#231f20" stroke-width="0.08" text-anchor="end" textLength="15.00" lengthAdjust="spacingAndGlyphs" transform="rotate(-45 243.40 776.00)">-10<tspan font-size="6.4799999999999995" dy="-3.89">3</tspan></text>
<text x="251.20" y="776.00" font-size="9.0" stroke="#231f20" stroke-width="0.08" text-anchor="end" transform="rotate(-45 251.20 776.00)">0</text>
<text x="261.00" y="776.00" font-size="9.0" stroke="#231f20" stroke-width="0.08" text-anchor="end" textLength="12.60" lengthAdjust="spacingAndGlyphs" transform="rotate(-45 261.00 776.00)">10<tspan font-size="6.4799999999999995" dy="-3.89">3</tspan></text>
<text x="275.80" y="776.00" font-size="9.0" stroke="#231f20" stroke-width="0.08" text-anchor="end" textLength="12.60" lengthAdjust="spacingAndGlyphs" transform="rotate(-45 275.80 776.00)">10<tspan font-size="6.4799999999999995" dy="-3.89">4</tspan></text>
<text x="288.80" y="776.00" font-size="9.0" stroke="#231f20" stroke-width="0.08" text-anchor="end" textLength="12.60" lengthAdjust="spacingAndGlyphs" transform="rotate(-45 288.80 776.00)">10<tspan font-size="6.4799999999999995" dy="-3.89">5</tspan></text>
<path d="M291.10,723.10 C292.18,723.03 295.97,722.98 297.60,722.70 C299.23,722.42 299.62,721.80 300.90,721.40 C302.18,721.00 304.03,720.95 305.30,720.30 C306.57,719.65 307.50,718.23 308.50,717.50 C309.50,716.77 310.38,716.35 311.30,715.90 C312.22,715.45 313.08,715.43 314.00,714.80 C314.92,714.17 316.07,712.83 316.80,712.10 C317.53,711.37 317.85,710.03 318.40,710.40 C318.95,710.77 319.55,713.02 320.10,714.30 C320.65,715.58 321.17,716.92 321.70,718.10 C322.23,719.28 322.75,720.57 323.30,721.40 C323.85,722.23 321.05,722.82 325.00,723.10 C328.95,723.38 343.33,723.10 347.00,723.10 L347.00,723.10 L291.10,723.10 Z" fill="#8fc4e6" fill-opacity="1.0" stroke="none"/>
<path d="M291.10,723.10 C292.18,723.03 295.97,722.98 297.60,722.70 C299.23,722.42 299.62,721.80 300.90,721.40 C302.18,721.00 304.03,720.95 305.30,720.30 C306.57,719.65 307.50,718.23 308.50,717.50 C309.50,716.77 310.38,716.35 311.30,715.90 C312.22,715.45 313.08,715.43 314.00,714.80 C314.92,714.17 316.07,712.83 316.80,712.10 C317.53,711.37 317.85,710.03 318.40,710.40 C318.95,710.77 319.55,713.02 320.10,714.30 C320.65,715.58 321.17,716.92 321.70,718.10 C322.23,719.28 322.75,720.57 323.30,721.40 C323.85,722.23 321.05,722.82 325.00,723.10 C328.95,723.38 343.33,723.10 347.00,723.10" fill="none" stroke="#3f95cc" stroke-width="0.9"/>
<path d="M291.10,733.90 C291.27,733.82 291.38,733.67 292.10,733.40 C292.82,733.13 294.30,732.75 295.40,732.30 C296.50,731.85 297.60,731.42 298.70,730.70 C299.80,729.98 300.90,728.82 302.00,728.00 C303.10,727.18 304.22,726.53 305.30,725.80 C306.38,725.07 307.50,724.33 308.50,723.60 C309.50,722.87 310.38,721.77 311.30,721.40 C312.22,721.03 313.08,721.48 314.00,721.40 C314.92,721.32 315.97,720.62 316.80,720.90 C317.63,721.18 318.27,723.02 319.00,723.10 C319.73,723.18 320.48,721.40 321.20,721.40 C321.92,721.40 322.58,722.73 323.30,723.10 C324.02,723.47 324.67,722.88 325.50,723.60 C326.33,724.32 327.57,726.03 328.30,727.40 C329.03,728.77 329.17,730.88 329.90,731.80 C330.63,732.72 331.50,732.57 332.70,732.90 C333.90,733.23 334.72,733.63 337.10,733.80 C339.48,733.97 345.35,733.88 347.00,733.90 L347.00,733.90 L291.10,733.90 Z" fill="#d2a3d8" fill-opacity="1.0" stroke="none"/>
<path d="M291.10,733.90 C291.27,733.82 291.38,733.67 292.10,733.40 C292.82,733.13 294.30,732.75 295.40,732.30 C296.50,731.85 297.60,731.42 298.70,730.70 C299.80,729.98 300.90,728.82 302.00,728.00 C303.10,727.18 304.22,726.53 305.30,725.80 C306.38,725.07 307.50,724.33 308.50,723.60 C309.50,722.87 310.38,721.77 311.30,721.40 C312.22,721.03 313.08,721.48 314.00,721.40 C314.92,721.32 315.97,720.62 316.80,720.90 C317.63,721.18 318.27,723.02 319.00,723.10 C319.73,723.18 320.48,721.40 321.20,721.40 C321.92,721.40 322.58,722.73 323.30,723.10 C324.02,723.47 324.67,722.88 325.50,723.60 C326.33,724.32 327.57,726.03 328.30,727.40 C329.03,728.77 329.17,730.88 329.90,731.80 C330.63,732.72 331.50,732.57 332.70,732.90 C333.90,733.23 334.72,733.63 337.10,733.80 C339.48,733.97 345.35,733.88 347.00,733.90" fill="none" stroke="#9a3aae" stroke-width="0.9"/>
<path d="M291.10,744.50 C291.63,744.45 293.03,744.48 294.30,744.20 C295.57,743.92 297.23,743.32 298.70,742.80 C300.17,742.28 302.00,741.47 303.10,741.10 C304.20,740.73 304.48,740.97 305.30,740.60 C306.12,740.23 307.18,739.08 308.00,738.90 C308.82,738.72 309.47,739.68 310.20,739.50 C310.93,739.32 311.77,737.90 312.40,737.80 C313.03,737.70 313.27,738.98 314.00,738.90 C314.73,738.82 315.97,737.02 316.80,737.30 C317.63,737.58 318.18,739.60 319.00,740.60 C319.82,741.60 320.52,742.67 321.70,743.30 C322.88,743.93 321.88,744.20 326.10,744.40 C330.32,744.60 343.52,744.48 347.00,744.50 L347.00,744.50 L291.10,744.50 Z" fill="#f6cf9c" fill-opacity="1.0" stroke="none"/>
<path d="M291.10,744.50 C291.63,744.45 293.03,744.48 294.30,744.20 C295.57,743.92 297.23,743.32 298.70,742.80 C300.17,742.28 302.00,741.47 303.10,741.10 C304.20,740.73 304.48,740.97 305.30,740.60 C306.12,740.23 307.18,739.08 308.00,738.90 C308.82,738.72 309.47,739.68 310.20,739.50 C310.93,739.32 311.77,737.90 312.40,737.80 C313.03,737.70 313.27,738.98 314.00,738.90 C314.73,738.82 315.97,737.02 316.80,737.30 C317.63,737.58 318.18,739.60 319.00,740.60 C319.82,741.60 320.52,742.67 321.70,743.30 C322.88,743.93 321.88,744.20 326.10,744.40 C330.32,744.60 343.52,744.48 347.00,744.50" fill="none" stroke="#e6a04c" stroke-width="0.9"/>
<path d="M291.10,755.20 C291.63,755.20 293.03,755.45 294.30,755.20 C295.57,754.95 297.23,753.98 298.70,753.70 C300.17,753.42 301.65,753.58 303.10,753.50 C304.55,753.42 306.32,753.53 307.40,753.20 C308.48,752.87 308.68,751.87 309.60,751.50 C310.52,751.13 311.98,751.55 312.90,751.00 C313.82,750.45 314.27,748.83 315.10,748.20 C315.93,747.57 317.07,747.10 317.90,747.20 C318.73,747.30 319.47,748.90 320.10,748.80 C320.73,748.70 321.17,746.60 321.70,746.60 C322.23,746.60 322.72,748.98 323.30,748.80 C323.88,748.62 324.65,745.60 325.20,745.50 C325.75,745.40 326.00,746.83 326.60,748.20 C327.20,749.57 327.97,752.60 328.80,753.70 C329.63,754.80 330.22,754.53 331.60,754.80 C332.98,755.07 334.53,755.23 337.10,755.30 C339.67,755.37 345.35,755.22 347.00,755.20 L347.00,755.20 L291.10,755.20 Z" fill="#e7a1a1" fill-opacity="1.0" stroke="none"/>
<path d="M291.10,755.20 C291.63,755.20 293.03,755.45 294.30,755.20 C295.57,754.95 297.23,753.98 298.70,753.70 C300.17,753.42 301.65,753.58 303.10,753.50 C304.55,753.42 306.32,753.53 307.40,753.20 C308.48,752.87 308.68,751.87 309.60,751.50 C310.52,751.13 311.98,751.55 312.90,751.00 C313.82,750.45 314.27,748.83 315.10,748.20 C315.93,747.57 317.07,747.10 317.90,747.20 C318.73,747.30 319.47,748.90 320.10,748.80 C320.73,748.70 321.17,746.60 321.70,746.60 C322.23,746.60 322.72,748.98 323.30,748.80 C323.88,748.62 324.65,745.60 325.20,745.50 C325.75,745.40 326.00,746.83 326.60,748.20 C327.20,749.57 327.97,752.60 328.80,753.70 C329.63,754.80 330.22,754.53 331.60,754.80 C332.98,755.07 334.53,755.23 337.10,755.30 C339.67,755.37 345.35,755.22 347.00,755.20" fill="none" stroke="#d0403f" stroke-width="0.9"/>
<path d="M291.10,765.40 C292.55,765.37 297.98,765.60 299.80,765.20 C301.62,764.80 301.18,763.90 302.00,763.00 C302.82,762.10 303.70,760.65 304.70,759.80 C305.70,758.95 307.18,757.90 308.00,757.90 C308.82,757.90 309.05,759.43 309.60,759.80 C310.15,760.17 310.75,759.57 311.30,760.10 C311.85,760.63 312.35,762.12 312.90,763.00 C313.45,763.88 308.92,765.00 314.60,765.40 C320.28,765.80 341.60,765.40 347.00,765.40 L347.00,765.40 L291.10,765.40 Z" fill="#b0b0b0" fill-opacity="1.0" stroke="none"/>
<path d="M291.10,765.40 C292.55,765.37 297.98,765.60 299.80,765.20 C301.62,764.80 301.18,763.90 302.00,763.00 C302.82,762.10 303.70,760.65 304.70,759.80 C305.70,758.95 307.18,757.90 308.00,757.90 C308.82,757.90 309.05,759.43 309.60,759.80 C310.15,760.17 310.75,759.57 311.30,760.10 C311.85,760.63 312.35,762.12 312.90,763.00 C313.45,763.88 308.92,765.00 314.60,765.40 C320.28,765.80 341.60,765.40 347.00,765.40" fill="none" stroke="#777" stroke-width="0.6" stroke-dasharray="1,0.8"/>
<rect x="291.10" y="700.40" width="55.90" height="64.80" fill="none" stroke="#d0d0d0" stroke-width="0.8"/>
<line x1="312.00" y1="700.80" x2="312.00" y2="765.00" stroke="#333" stroke-width="1.35" stroke-dasharray="3.6,2"/>
<line x1="293.10" y1="764.40" x2="293.10" y2="765.20" stroke="#999" stroke-width="0.5"/>
<line x1="297.82" y1="764.40" x2="297.82" y2="765.20" stroke="#999" stroke-width="0.5"/>
<line x1="302.54" y1="764.40" x2="302.54" y2="765.20" stroke="#999" stroke-width="0.5"/>
<line x1="307.25" y1="764.40" x2="307.25" y2="765.20" stroke="#999" stroke-width="0.5"/>
<line x1="311.97" y1="764.40" x2="311.97" y2="765.20" stroke="#999" stroke-width="0.5"/>
<line x1="316.69" y1="764.40" x2="316.69" y2="765.20" stroke="#999" stroke-width="0.5"/>
<line x1="321.41" y1="764.40" x2="321.41" y2="765.20" stroke="#999" stroke-width="0.5"/>
<line x1="326.13" y1="764.40" x2="326.13" y2="765.20" stroke="#999" stroke-width="0.5"/>
<line x1="330.85" y1="764.40" x2="330.85" y2="765.20" stroke="#999" stroke-width="0.5"/>
<line x1="335.56" y1="764.40" x2="335.56" y2="765.20" stroke="#999" stroke-width="0.5"/>
<line x1="340.28" y1="764.40" x2="340.28" y2="765.20" stroke="#999" stroke-width="0.5"/>
<line x1="345.00" y1="764.40" x2="345.00" y2="765.20" stroke="#999" stroke-width="0.5"/>
<text x="301.10" y="776.00" font-size="9.0" stroke="#231f20" stroke-width="0.08" text-anchor="end" textLength="15.00" lengthAdjust="spacingAndGlyphs" transform="rotate(-45 301.10 776.00)">-10<tspan font-size="6.4799999999999995" dy="-3.89">3</tspan></text>
<text x="308.90" y="776.00" font-size="9.0" stroke="#231f20" stroke-width="0.08" text-anchor="end" transform="rotate(-45 308.90 776.00)">0</text>
<text x="318.70" y="776.00" font-size="9.0" stroke="#231f20" stroke-width="0.08" text-anchor="end" textLength="12.60" lengthAdjust="spacingAndGlyphs" transform="rotate(-45 318.70 776.00)">10<tspan font-size="6.4799999999999995" dy="-3.89">3</tspan></text>
<text x="333.50" y="776.00" font-size="9.0" stroke="#231f20" stroke-width="0.08" text-anchor="end" textLength="12.60" lengthAdjust="spacingAndGlyphs" transform="rotate(-45 333.50 776.00)">10<tspan font-size="6.4799999999999995" dy="-3.89">4</tspan></text>
<text x="346.50" y="776.00" font-size="9.0" stroke="#231f20" stroke-width="0.08" text-anchor="end" textLength="12.60" lengthAdjust="spacingAndGlyphs" transform="rotate(-45 346.50 776.00)">10<tspan font-size="6.4799999999999995" dy="-3.89">5</tspan></text>
<path d="M350.20,723.10 C351.93,723.00 358.33,722.82 360.60,722.50 C362.87,722.18 362.75,721.60 363.80,721.20 C364.85,720.80 365.85,720.47 366.90,720.10 C367.95,719.73 369.22,719.53 370.10,719.00 C370.98,718.47 371.32,717.52 372.20,716.90 C373.08,716.28 374.43,715.87 375.40,715.30 C376.37,714.73 377.12,713.67 378.00,713.50 C378.88,713.33 379.72,713.82 380.70,714.30 C381.68,714.78 383.02,715.52 383.90,716.40 C384.78,717.28 385.30,718.63 386.00,719.60 C386.70,720.57 387.40,721.62 388.10,722.20 C388.80,722.78 387.48,722.95 390.20,723.10 C392.92,723.25 402.03,723.10 404.40,723.10 L404.40,723.10 L350.20,723.10 Z" fill="#8fc4e6" fill-opacity="1.0" stroke="none"/>
<path d="M350.20,723.10 C351.93,723.00 358.33,722.82 360.60,722.50 C362.87,722.18 362.75,721.60 363.80,721.20 C364.85,720.80 365.85,720.47 366.90,720.10 C367.95,719.73 369.22,719.53 370.10,719.00 C370.98,718.47 371.32,717.52 372.20,716.90 C373.08,716.28 374.43,715.87 375.40,715.30 C376.37,714.73 377.12,713.67 378.00,713.50 C378.88,713.33 379.72,713.82 380.70,714.30 C381.68,714.78 383.02,715.52 383.90,716.40 C384.78,717.28 385.30,718.63 386.00,719.60 C386.70,720.57 387.40,721.62 388.10,722.20 C388.80,722.78 387.48,722.95 390.20,723.10 C392.92,723.25 402.03,723.10 404.40,723.10" fill="none" stroke="#3f95cc" stroke-width="0.9"/>
<path d="M350.20,733.90 C351.22,733.87 354.57,734.15 356.30,733.70 C358.03,733.25 359.35,732.02 360.60,731.20 C361.85,730.38 362.75,729.45 363.80,728.80 C364.85,728.15 365.85,727.78 366.90,727.30 C367.95,726.82 369.12,726.53 370.10,725.90 C371.08,725.27 372.00,723.40 372.80,723.50 C373.60,723.60 374.12,725.65 374.90,726.50 C375.68,727.35 376.53,727.73 377.50,728.60 C378.47,729.47 379.63,730.90 380.70,731.70 C381.77,732.50 382.67,733.03 383.90,733.40 C385.13,733.77 384.68,733.82 388.10,733.90 C391.52,733.98 401.68,733.90 404.40,733.90 L404.40,733.90 L350.20,733.90 Z" fill="#d2a3d8" fill-opacity="1.0" stroke="none"/>
<path d="M350.20,733.90 C351.22,733.87 354.57,734.15 356.30,733.70 C358.03,733.25 359.35,732.02 360.60,731.20 C361.85,730.38 362.75,729.45 363.80,728.80 C364.85,728.15 365.85,727.78 366.90,727.30 C367.95,726.82 369.12,726.53 370.10,725.90 C371.08,725.27 372.00,723.40 372.80,723.50 C373.60,723.60 374.12,725.65 374.90,726.50 C375.68,727.35 376.53,727.73 377.50,728.60 C378.47,729.47 379.63,730.90 380.70,731.70 C381.77,732.50 382.67,733.03 383.90,733.40 C385.13,733.77 384.68,733.82 388.10,733.90 C391.52,733.98 401.68,733.90 404.40,733.90" fill="none" stroke="#9a3aae" stroke-width="0.9"/>
<path d="M350.20,744.50 C352.82,744.42 362.40,744.27 365.90,744.00 C369.40,743.73 369.62,743.45 371.20,742.90 C372.78,742.35 374.35,741.68 375.40,740.70 C376.45,739.72 376.83,738.13 377.50,737.00 C378.17,735.87 378.78,733.98 379.40,733.90 C380.02,733.82 380.48,736.15 381.20,736.50 C381.92,736.85 383.00,735.30 383.70,736.00 C384.40,736.70 384.75,739.43 385.40,740.70 C386.05,741.97 386.72,742.97 387.60,743.60 C388.48,744.23 387.90,744.35 390.70,744.50 C393.50,744.65 402.12,744.50 404.40,744.50 L404.40,744.50 L350.20,744.50 Z" fill="#f6cf9c" fill-opacity="1.0" stroke="none"/>
<path d="M350.20,744.50 C352.82,744.42 362.40,744.27 365.90,744.00 C369.40,743.73 369.62,743.45 371.20,742.90 C372.78,742.35 374.35,741.68 375.40,740.70 C376.45,739.72 376.83,738.13 377.50,737.00 C378.17,735.87 378.78,733.98 379.40,733.90 C380.02,733.82 380.48,736.15 381.20,736.50 C381.92,736.85 383.00,735.30 383.70,736.00 C384.40,736.70 384.75,739.43 385.40,740.70 C386.05,741.97 386.72,742.97 387.60,743.60 C388.48,744.23 387.90,744.35 390.70,744.50 C393.50,744.65 402.12,744.50 404.40,744.50" fill="none" stroke="#e6a04c" stroke-width="0.9"/>
<path d="M350.20,755.20 C351.93,755.13 358.17,755.27 360.60,754.80 C363.03,754.33 363.75,753.33 364.80,752.40 C365.85,751.47 366.20,749.28 366.90,749.20 C367.60,749.12 368.20,751.98 369.00,751.90 C369.80,751.82 370.90,749.58 371.70,748.70 C372.50,747.82 373.10,746.60 373.80,746.60 C374.50,746.60 375.20,748.27 375.90,748.70 C376.60,749.13 377.28,748.42 378.00,749.20 C378.72,749.98 379.40,752.60 380.20,753.40 C381.00,754.20 381.67,753.73 382.80,754.00 C383.93,754.27 383.40,754.80 387.00,755.00 C390.60,755.20 401.50,755.17 404.40,755.20 L404.40,755.20 L350.20,755.20 Z" fill="#e7a1a1" fill-opacity="1.0" stroke="none"/>
<path d="M350.20,755.20 C351.93,755.13 358.17,755.27 360.60,754.80 C363.03,754.33 363.75,753.33 364.80,752.40 C365.85,751.47 366.20,749.28 366.90,749.20 C367.60,749.12 368.20,751.98 369.00,751.90 C369.80,751.82 370.90,749.58 371.70,748.70 C372.50,747.82 373.10,746.60 373.80,746.60 C374.50,746.60 375.20,748.27 375.90,748.70 C376.60,749.13 377.28,748.42 378.00,749.20 C378.72,749.98 379.40,752.60 380.20,753.40 C381.00,754.20 381.67,753.73 382.80,754.00 C383.93,754.27 383.40,754.80 387.00,755.00 C390.60,755.20 401.50,755.17 404.40,755.20" fill="none" stroke="#d0403f" stroke-width="0.9"/>
<path d="M350.20,765.40 C351.40,765.32 355.50,765.57 357.40,764.90 C359.30,764.23 360.37,762.38 361.60,761.40 C362.83,760.42 363.73,759.88 364.80,759.00 C365.87,758.12 367.20,756.40 368.00,756.10 C368.80,755.80 369.07,756.08 369.60,757.20 C370.13,758.32 370.67,761.47 371.20,762.80 C371.73,764.13 367.27,764.77 372.80,765.20 C378.33,765.63 399.13,765.37 404.40,765.40 L404.40,765.40 L350.20,765.40 Z" fill="#b0b0b0" fill-opacity="1.0" stroke="none"/>
<path d="M350.20,765.40 C351.40,765.32 355.50,765.57 357.40,764.90 C359.30,764.23 360.37,762.38 361.60,761.40 C362.83,760.42 363.73,759.88 364.80,759.00 C365.87,758.12 367.20,756.40 368.00,756.10 C368.80,755.80 369.07,756.08 369.60,757.20 C370.13,758.32 370.67,761.47 371.20,762.80 C371.73,764.13 367.27,764.77 372.80,765.20 C378.33,765.63 399.13,765.37 404.40,765.40" fill="none" stroke="#777" stroke-width="0.6" stroke-dasharray="1,0.8"/>
<rect x="350.20" y="700.40" width="54.20" height="64.80" fill="none" stroke="#d0d0d0" stroke-width="0.8"/>
<line x1="370.40" y1="700.80" x2="370.40" y2="765.00" stroke="#333" stroke-width="1.35" stroke-dasharray="3.6,2"/>
<line x1="352.20" y1="764.40" x2="352.20" y2="765.20" stroke="#999" stroke-width="0.5"/>
<line x1="356.76" y1="764.40" x2="356.76" y2="765.20" stroke="#999" stroke-width="0.5"/>
<line x1="361.33" y1="764.40" x2="361.33" y2="765.20" stroke="#999" stroke-width="0.5"/>
<line x1="365.89" y1="764.40" x2="365.89" y2="765.20" stroke="#999" stroke-width="0.5"/>
<line x1="370.45" y1="764.40" x2="370.45" y2="765.20" stroke="#999" stroke-width="0.5"/>
<line x1="375.02" y1="764.40" x2="375.02" y2="765.20" stroke="#999" stroke-width="0.5"/>
<line x1="379.58" y1="764.40" x2="379.58" y2="765.20" stroke="#999" stroke-width="0.5"/>
<line x1="384.15" y1="764.40" x2="384.15" y2="765.20" stroke="#999" stroke-width="0.5"/>
<line x1="388.71" y1="764.40" x2="388.71" y2="765.20" stroke="#999" stroke-width="0.5"/>
<line x1="393.27" y1="764.40" x2="393.27" y2="765.20" stroke="#999" stroke-width="0.5"/>
<line x1="397.84" y1="764.40" x2="397.84" y2="765.20" stroke="#999" stroke-width="0.5"/>
<line x1="402.40" y1="764.40" x2="402.40" y2="765.20" stroke="#999" stroke-width="0.5"/>
<text x="360.20" y="776.00" font-size="9.0" stroke="#231f20" stroke-width="0.08" text-anchor="end" textLength="15.00" lengthAdjust="spacingAndGlyphs" transform="rotate(-45 360.20 776.00)">-10<tspan font-size="6.4799999999999995" dy="-3.89">3</tspan></text>
<text x="368.00" y="776.00" font-size="9.0" stroke="#231f20" stroke-width="0.08" text-anchor="end" transform="rotate(-45 368.00 776.00)">0</text>
<text x="377.80" y="776.00" font-size="9.0" stroke="#231f20" stroke-width="0.08" text-anchor="end" textLength="12.60" lengthAdjust="spacingAndGlyphs" transform="rotate(-45 377.80 776.00)">10<tspan font-size="6.4799999999999995" dy="-3.89">3</tspan></text>
<text x="392.60" y="776.00" font-size="9.0" stroke="#231f20" stroke-width="0.08" text-anchor="end" textLength="12.60" lengthAdjust="spacingAndGlyphs" transform="rotate(-45 392.60 776.00)">10<tspan font-size="6.4799999999999995" dy="-3.89">4</tspan></text>
<text x="405.60" y="776.00" font-size="9.0" stroke="#231f20" stroke-width="0.08" text-anchor="end" textLength="12.60" lengthAdjust="spacingAndGlyphs" transform="rotate(-45 405.60 776.00)">10<tspan font-size="6.4799999999999995" dy="-3.89">5</tspan></text>
<path d="M406.60,723.10 C407.78,723.07 412.25,723.37 413.70,722.90 C415.15,722.43 414.75,721.38 415.30,720.30 C415.85,719.22 416.35,717.50 417.00,716.40 C417.65,715.30 418.47,714.05 419.20,713.70 C419.93,713.35 420.68,714.48 421.40,714.30 C422.12,714.12 422.92,713.02 423.50,712.60 C424.08,712.18 424.43,710.88 424.90,711.80 C425.37,712.72 425.70,716.87 426.30,718.10 C426.90,719.33 427.77,718.75 428.50,719.20 C429.23,719.65 429.97,720.62 430.70,720.80 C431.43,720.98 432.23,720.52 432.90,720.30 C433.57,720.08 434.07,719.38 434.70,719.50 C435.33,719.62 436.00,720.78 436.70,721.00 C437.40,721.22 438.08,721.02 438.90,720.80 C439.72,720.58 440.68,719.92 441.60,719.70 C442.52,719.48 443.57,719.23 444.40,719.50 C445.23,719.77 445.87,720.70 446.60,721.30 C447.33,721.90 446.23,722.80 448.80,723.10 C451.37,723.40 459.80,723.10 462.00,723.10 L462.00,723.10 L406.60,723.10 Z" fill="#8fc4e6" fill-opacity="1.0" stroke="none"/>
<path d="M406.60,723.10 C407.78,723.07 412.25,723.37 413.70,722.90 C415.15,722.43 414.75,721.38 415.30,720.30 C415.85,719.22 416.35,717.50 417.00,716.40 C417.65,715.30 418.47,714.05 419.20,713.70 C419.93,713.35 420.68,714.48 421.40,714.30 C422.12,714.12 422.92,713.02 423.50,712.60 C424.08,712.18 424.43,710.88 424.90,711.80 C425.37,712.72 425.70,716.87 426.30,718.10 C426.90,719.33 427.77,718.75 428.50,719.20 C429.23,719.65 429.97,720.62 430.70,720.80 C431.43,720.98 432.23,720.52 432.90,720.30 C433.57,720.08 434.07,719.38 434.70,719.50 C435.33,719.62 436.00,720.78 436.70,721.00 C437.40,721.22 438.08,721.02 438.90,720.80 C439.72,720.58 440.68,719.92 441.60,719.70 C442.52,719.48 443.57,719.23 444.40,719.50 C445.23,719.77 445.87,720.70 446.60,721.30 C447.33,721.90 446.23,722.80 448.80,723.10 C451.37,723.40 459.80,723.10 462.00,723.10" fill="none" stroke="#3f95cc" stroke-width="0.9"/>
<path d="M406.60,733.90 C407.78,733.87 412.15,734.05 413.70,733.70 C415.25,733.35 415.17,732.67 415.90,731.80 C416.63,730.93 417.47,729.50 418.10,728.50 C418.73,727.50 419.15,726.57 419.70,725.80 C420.25,725.03 420.85,723.72 421.40,723.90 C421.95,724.08 422.47,725.95 423.00,726.90 C423.53,727.85 424.05,728.88 424.60,729.60 C425.15,730.32 425.75,730.75 426.30,731.20 C426.85,731.65 426.90,732.05 427.90,732.30 C428.90,732.55 431.02,732.67 432.30,732.70 C433.58,732.73 434.50,732.32 435.60,732.50 C436.70,732.68 437.07,733.67 438.90,733.80 C440.73,733.93 444.77,733.27 446.60,733.30 C448.43,733.33 447.33,733.90 449.90,734.00 C452.47,734.10 459.98,733.92 462.00,733.90 L462.00,733.90 L406.60,733.90 Z" fill="#d2a3d8" fill-opacity="1.0" stroke="none"/>
<path d="M406.60,733.90 C407.78,733.87 412.15,734.05 413.70,733.70 C415.25,733.35 415.17,732.67 415.90,731.80 C416.63,730.93 417.47,729.50 418.10,728.50 C418.73,727.50 419.15,726.57 419.70,725.80 C420.25,725.03 420.85,723.72 421.40,723.90 C421.95,724.08 422.47,725.95 423.00,726.90 C423.53,727.85 424.05,728.88 424.60,729.60 C425.15,730.32 425.75,730.75 426.30,731.20 C426.85,731.65 426.90,732.05 427.90,732.30 C428.90,732.55 431.02,732.67 432.30,732.70 C433.58,732.73 434.50,732.32 435.60,732.50 C436.70,732.68 437.07,733.67 438.90,733.80 C440.73,733.93 444.77,733.27 446.60,733.30 C448.43,733.33 447.33,733.90 449.90,734.00 C452.47,734.10 459.98,733.92 462.00,733.90" fill="none" stroke="#9a3aae" stroke-width="0.9"/>
<path d="M406.60,744.50 C407.78,744.48 412.15,744.78 413.70,744.40 C415.25,744.02 415.17,743.02 415.90,742.20 C416.63,741.38 417.37,740.32 418.10,739.50 C418.83,738.68 419.58,738.07 420.30,737.30 C421.02,736.53 421.68,734.82 422.40,734.90 C423.12,734.98 423.87,737.32 424.60,737.80 C425.33,738.28 426.07,737.07 426.80,737.80 C427.53,738.53 428.27,741.73 429.00,742.20 C429.73,742.67 430.28,740.87 431.20,740.60 C432.12,740.33 433.40,740.70 434.50,740.60 C435.60,740.50 436.88,740.22 437.80,740.00 C438.72,739.78 439.27,738.93 440.00,739.30 C440.73,739.67 441.38,741.83 442.20,742.20 C443.02,742.57 444.08,741.40 444.90,741.50 C445.72,741.60 446.37,742.23 447.10,742.80 C447.83,743.37 446.82,744.62 449.30,744.90 C451.78,745.18 459.88,744.57 462.00,744.50 L462.00,744.50 L406.60,744.50 Z" fill="#f6cf9c" fill-opacity="1.0" stroke="none"/>
<path d="M406.60,744.50 C407.78,744.48 412.15,744.78 413.70,744.40 C415.25,744.02 415.17,743.02 415.90,742.20 C416.63,741.38 417.37,740.32 418.10,739.50 C418.83,738.68 419.58,738.07 420.30,737.30 C421.02,736.53 421.68,734.82 422.40,734.90 C423.12,734.98 423.87,737.32 424.60,737.80 C425.33,738.28 426.07,737.07 426.80,737.80 C427.53,738.53 428.27,741.73 429.00,742.20 C429.73,742.67 430.28,740.87 431.20,740.60 C432.12,740.33 433.40,740.70 434.50,740.60 C435.60,740.50 436.88,740.22 437.80,740.00 C438.72,739.78 439.27,738.93 440.00,739.30 C440.73,739.67 441.38,741.83 442.20,742.20 C443.02,742.57 444.08,741.40 444.90,741.50 C445.72,741.60 446.37,742.23 447.10,742.80 C447.83,743.37 446.82,744.62 449.30,744.90 C451.78,745.18 459.88,744.57 462.00,744.50" fill="none" stroke="#e6a04c" stroke-width="0.9"/>
<path d="M406.60,755.20 C407.78,755.17 412.15,755.25 413.70,755.00 C415.25,754.75 415.08,754.47 415.90,753.70 C416.72,752.93 417.68,751.32 418.60,750.40 C419.52,749.48 420.58,748.02 421.40,748.20 C422.22,748.38 422.78,750.48 423.50,751.50 C424.22,752.52 424.60,753.90 425.70,754.30 C426.80,754.70 428.63,753.90 430.10,753.90 C431.57,753.90 433.22,754.33 434.50,754.30 C435.78,754.27 436.88,753.58 437.80,753.70 C438.72,753.82 438.72,754.75 440.00,755.00 C441.28,755.25 444.13,755.35 445.50,755.20 C446.87,755.05 447.47,754.08 448.20,754.10 C448.93,754.12 447.60,755.12 449.90,755.30 C452.20,755.48 459.98,755.22 462.00,755.20 L462.00,755.20 L406.60,755.20 Z" fill="#e7a1a1" fill-opacity="1.0" stroke="none"/>
<path d="M406.60,755.20 C407.78,755.17 412.15,755.25 413.70,755.00 C415.25,754.75 415.08,754.47 415.90,753.70 C416.72,752.93 417.68,751.32 418.60,750.40 C419.52,749.48 420.58,748.02 421.40,748.20 C422.22,748.38 422.78,750.48 423.50,751.50 C424.22,752.52 424.60,753.90 425.70,754.30 C426.80,754.70 428.63,753.90 430.10,753.90 C431.57,753.90 433.22,754.33 434.50,754.30 C435.78,754.27 436.88,753.58 437.80,753.70 C438.72,753.82 438.72,754.75 440.00,755.00 C441.28,755.25 444.13,755.35 445.50,755.20 C446.87,755.05 447.47,754.08 448.20,754.10 C448.93,754.12 447.60,755.12 449.90,755.30 C452.20,755.48 459.98,755.22 462.00,755.20" fill="none" stroke="#d0403f" stroke-width="0.9"/>
<path d="M406.60,765.40 C407.97,765.37 413.07,765.60 414.80,765.20 C416.53,764.80 416.27,763.82 417.00,763.00 C417.73,762.18 418.57,761.13 419.20,760.30 C419.83,759.47 420.27,758.12 420.80,758.00 C421.33,757.88 421.77,758.68 422.40,759.60 C423.03,760.52 423.95,762.53 424.60,763.50 C425.25,764.47 420.07,765.08 426.30,765.40 C432.53,765.72 456.05,765.40 462.00,765.40 L462.00,765.40 L406.60,765.40 Z" fill="#b0b0b0" fill-opacity="1.0" stroke="none"/>
<path d="M406.60,765.40 C407.97,765.37 413.07,765.60 414.80,765.20 C416.53,764.80 416.27,763.82 417.00,763.00 C417.73,762.18 418.57,761.13 419.20,760.30 C419.83,759.47 420.27,758.12 420.80,758.00 C421.33,757.88 421.77,758.68 422.40,759.60 C423.03,760.52 423.95,762.53 424.60,763.50 C425.25,764.47 420.07,765.08 426.30,765.40 C432.53,765.72 456.05,765.40 462.00,765.40" fill="none" stroke="#777" stroke-width="0.6" stroke-dasharray="1,0.8"/>
<rect x="406.60" y="700.40" width="55.40" height="64.80" fill="none" stroke="#d0d0d0" stroke-width="0.8"/>
<line x1="425.80" y1="700.80" x2="425.80" y2="765.00" stroke="#333" stroke-width="1.35" stroke-dasharray="3.6,2"/>
<line x1="408.60" y1="764.40" x2="408.60" y2="765.20" stroke="#999" stroke-width="0.5"/>
<line x1="413.27" y1="764.40" x2="413.27" y2="765.20" stroke="#999" stroke-width="0.5"/>
<line x1="417.95" y1="764.40" x2="417.95" y2="765.20" stroke="#999" stroke-width="0.5"/>
<line x1="422.62" y1="764.40" x2="422.62" y2="765.20" stroke="#999" stroke-width="0.5"/>
<line x1="427.29" y1="764.40" x2="427.29" y2="765.20" stroke="#999" stroke-width="0.5"/>
<line x1="431.96" y1="764.40" x2="431.96" y2="765.20" stroke="#999" stroke-width="0.5"/>
<line x1="436.64" y1="764.40" x2="436.64" y2="765.20" stroke="#999" stroke-width="0.5"/>
<line x1="441.31" y1="764.40" x2="441.31" y2="765.20" stroke="#999" stroke-width="0.5"/>
<line x1="445.98" y1="764.40" x2="445.98" y2="765.20" stroke="#999" stroke-width="0.5"/>
<line x1="450.65" y1="764.40" x2="450.65" y2="765.20" stroke="#999" stroke-width="0.5"/>
<line x1="455.33" y1="764.40" x2="455.33" y2="765.20" stroke="#999" stroke-width="0.5"/>
<line x1="460.00" y1="764.40" x2="460.00" y2="765.20" stroke="#999" stroke-width="0.5"/>
<text x="416.60" y="776.00" font-size="9.0" stroke="#231f20" stroke-width="0.08" text-anchor="end" textLength="15.00" lengthAdjust="spacingAndGlyphs" transform="rotate(-45 416.60 776.00)">-10<tspan font-size="6.4799999999999995" dy="-3.89">3</tspan></text>
<text x="424.40" y="776.00" font-size="9.0" stroke="#231f20" stroke-width="0.08" text-anchor="end" transform="rotate(-45 424.40 776.00)">0</text>
<text x="434.20" y="776.00" font-size="9.0" stroke="#231f20" stroke-width="0.08" text-anchor="end" textLength="12.60" lengthAdjust="spacingAndGlyphs" transform="rotate(-45 434.20 776.00)">10<tspan font-size="6.4799999999999995" dy="-3.89">3</tspan></text>
<text x="449.00" y="776.00" font-size="9.0" stroke="#231f20" stroke-width="0.08" text-anchor="end" textLength="12.60" lengthAdjust="spacingAndGlyphs" transform="rotate(-45 449.00 776.00)">10<tspan font-size="6.4799999999999995" dy="-3.89">4</tspan></text>
<text x="462.00" y="776.00" font-size="9.0" stroke="#231f20" stroke-width="0.08" text-anchor="end" textLength="12.60" lengthAdjust="spacingAndGlyphs" transform="rotate(-45 462.00 776.00)">10<tspan font-size="6.4799999999999995" dy="-3.89">5</tspan></text>
<text x="466.20" y="723.40" font-size="9.7" fill="#4a9fd4" stroke="#4a9fd4" stroke-width="0.08">PC +/1013</text>
<text x="466.20" y="734.50" font-size="9.7" fill="#8e2fa0" stroke="#8e2fa0" stroke-width="0.08">PC WT</text>
<text x="466.20" y="745.30" font-size="9.7" fill="#e9a04e" stroke="#e9a04e" stroke-width="0.08">PB +/1013</text>
<text x="466.20" y="755.20" font-size="9.7" fill="#d03a3a" stroke="#d03a3a" stroke-width="0.08">PB WT</text>
<text x="466.20" y="764.90" font-size="9.7" stroke="#231f20" stroke-width="0.08">Isotype</text>
<line x1="165.20" y1="705.50" x2="165.20" y2="715.00" stroke="#231f20" stroke-width="1"/>
<path d="M165.20,702.30 L162.64,708.38 L165.20,707.10 L167.76,708.38 Z" fill="#231f20"/>
<text x="168.90" y="750.00" font-size="10.6" stroke="#231f20" stroke-width="0.08" textLength="24.10" lengthAdjust="spacingAndGlyphs" transform="rotate(-90 168.90 750.00)"># cells</text>
<line x1="165.20" y1="760.80" x2="165.20" y2="775.40" stroke="#231f20" stroke-width="1"/>
<line x1="173.70" y1="796.80" x2="178.20" y2="796.80" stroke="#231f20" stroke-width="1"/>
<line x1="219.70" y1="796.80" x2="241.80" y2="796.80" stroke="#231f20" stroke-width="1"/>
<line x1="282.70" y1="796.80" x2="293.80" y2="796.80" stroke="#231f20" stroke-width="1"/>
<line x1="345.40" y1="796.80" x2="354.00" y2="796.80" stroke="#231f20" stroke-width="1"/>
<line x1="403.30" y1="796.80" x2="411.40" y2="796.80" stroke="#231f20" stroke-width="1"/>
<text x="189.20" y="800.60" font-size="10.6" stroke="#231f20" stroke-width="0.08" textLength="17.30" lengthAdjust="spacingAndGlyphs">Vla4</text>
<text x="252.20" y="800.60" font-size="10.6" stroke="#231f20" stroke-width="0.08" textLength="16.60" lengthAdjust="spacingAndGlyphs">Lfa1</text>
<text x="307.60" y="800.60" font-size="10.6" stroke="#231f20" stroke-width="0.08" textLength="26.30" lengthAdjust="spacingAndGlyphs">CD62L</text>
<text x="366.40" y="800.60" font-size="10.6" stroke="#231f20" stroke-width="0.08" textLength="22.10" lengthAdjust="spacingAndGlyphs">Cxcr4</text>
<text x="424.80" y="800.60" font-size="10.6" stroke="#231f20" stroke-width="0.08" textLength="22.10" lengthAdjust="spacingAndGlyphs">Cxcr3</text>
<path d="M466,796.6 L458.5,793.2 L460.2,796.6 L458.5,800 Z" fill="#231f20"/>
</svg>
</body></html>
